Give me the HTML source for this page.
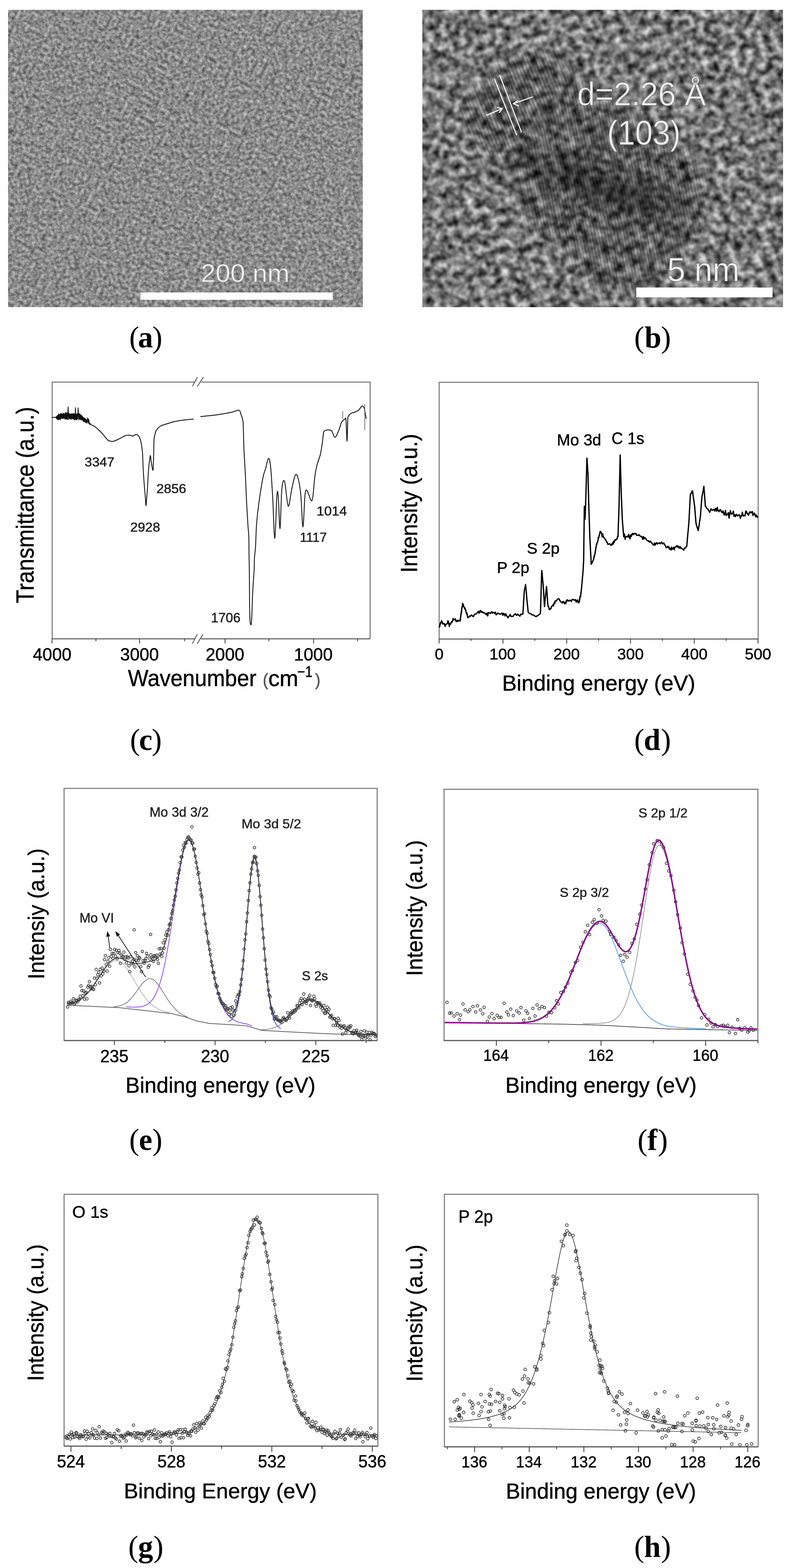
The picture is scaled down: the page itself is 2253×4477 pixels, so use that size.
<!DOCTYPE html><html><head><meta charset="utf-8"><title>Figure</title><style>html,body{margin:0;padding:0;background:#fff;}svg{display:block;}</style></head><body>
<svg width="2253" height="4477" viewBox="0 0 2253 4477">
<rect x="0" y="0" width="2253" height="4477" fill="#fff"/>
<defs>
<filter id="fa" x="0" y="0" width="1" height="1" color-interpolation-filters="sRGB">
 <feTurbulence type="fractalNoise" baseFrequency="0.105" numOctaves="2" seed="11" result="t1"/>
 <feColorMatrix in="t1" type="matrix" values="0.64 0 0 0 0.23  0.64 0 0 0 0.23  0.64 0 0 0 0.23  0 0 0 0 1" result="g13"/>
 <feTurbulence type="fractalNoise" baseFrequency="0.05" numOctaves="1" seed="17" result="t4"/>
 <feColorMatrix in="t4" type="matrix" values="1 0 0 0 0  1 0 0 0 0  1 0 0 0 0  0 0 0 0 1" result="g4"/>
 <feComponentTransfer in="g4" result="sp">
  <feFuncR type="table" tableValues="1 1 1 1 1 1 1 0.9 0.75 0.6 0.5"/>
  <feFuncG type="table" tableValues="1 1 1 1 1 1 1 0.9 0.75 0.6 0.5"/>
  <feFuncB type="table" tableValues="1 1 1 1 1 1 1 0.9 0.75 0.6 0.5"/>
 </feComponentTransfer>
 <feBlend in="g13" in2="sp" mode="multiply"/>
</filter>
<filter id="fb" x="0" y="0" width="1" height="1" color-interpolation-filters="sRGB">
 <feTurbulence type="fractalNoise" baseFrequency="0.048" numOctaves="2" seed="23" result="t1"/>
 <feColorMatrix in="t1" type="matrix" values="1.2 0 0 0 -0.13  1.2 0 0 0 -0.13  1.2 0 0 0 -0.13  0 0 0 0 1" result="g1"/>
 <feTurbulence type="fractalNoise" baseFrequency="0.02" numOctaves="1" seed="8" result="t2"/>
 <feColorMatrix in="t2" type="matrix" values="0.3 0 0 0 0.35  0.3 0 0 0 0.35  0.3 0 0 0 0.35  0 0 0 0 1" result="g2"/>
 <feComposite in="g1" in2="g2" operator="arithmetic" k1="0" k2="1" k3="1" k4="-0.5"/>
 <feGaussianBlur stdDeviation="2.0"/>
</filter>
<filter id="blur40" x="-0.5" y="-0.5" width="2" height="2"><feGaussianBlur stdDeviation="40"/></filter>
<filter id="blur25" x="-0.5" y="-0.5" width="2" height="2"><feGaussianBlur stdDeviation="25"/></filter>
<filter id="blur1" x="-0.1" y="-0.1" width="1.2" height="1.2"><feGaussianBlur stdDeviation="1.2"/></filter>
<filter id="blur08" x="-0.1" y="-0.1" width="1.2" height="1.2"><feGaussianBlur stdDeviation="0.8"/></filter>
<pattern id="fr1" patternUnits="userSpaceOnUse" width="10" height="10" patternTransform="rotate(-22)">
 <rect x="0" y="0" width="4" height="10" fill="#000"/>
</pattern>
<pattern id="fr2" patternUnits="userSpaceOnUse" width="9" height="9" patternTransform="rotate(-12)">
 <rect x="0" y="0" width="4" height="9" fill="#000"/>
</pattern>
<mask id="mk1" maskUnits="userSpaceOnUse" x="1206" y="28" width="1030" height="849"><polygon points="1320,323 1420,200 1558,145 1627,204 1560,330 1480,430 1388,443" fill="#fff" filter="url(#blur25)"/></mask>
<mask id="mk2" maskUnits="userSpaceOnUse" x="1206" y="28" width="1030" height="849"><polygon points="1480,430 1560,330 1627,204 1800,330 2001,477 2001,613 1916,766 1746,834 1516,638" fill="#fff" filter="url(#blur25)"/></mask>
<clipPath id="cpa"><rect x="23" y="28" width="1013" height="849"/></clipPath>
<clipPath id="cpb"><rect x="1206" y="28" width="1030" height="849"/></clipPath>
</defs>
<g clip-path="url(#cpa)"><rect x="-131" y="-178" width="1320" height="1260" transform="rotate(27 529.5 452.5)" filter="url(#fa)"/></g>
<rect x="401" y="835" width="549" height="21" fill="#fff"/>
<text transform="translate(573.17,805.00) scale(1.0420,1)" font-family="'Liberation Sans', Arial, sans-serif" font-size="73.04" fill="#f4f4f4" stroke="#8a8a8a" stroke-opacity="0.55" stroke-width="2.2">200 nm</text>
<g clip-path="url(#cpb)"><rect x="1061" y="-178" width="1320" height="1260" transform="rotate(-21 1721 452.5)" filter="url(#fb)"/></g>
<g clip-path="url(#cpb)">
<polygon points="1320,323 1420,200 1558,145 1627,204 1800,330 2001,477 2001,613 1916,766 1746,834 1516,638 1388,443" fill="#000" opacity="0.16" filter="url(#blur25)"/>
<ellipse cx="1720" cy="528" rx="270" ry="55" transform="rotate(19 1720 528)" fill="#000" opacity="0.28" filter="url(#blur25)"/>
<ellipse cx="1740" cy="545" rx="130" ry="40" transform="rotate(19 1740 545)" fill="#000" opacity="0.22" filter="url(#blur25)"/>
<rect x="1206" y="28" width="1030" height="849" fill="url(#fr1)" opacity="0.22" mask="url(#mk1)"/>
<rect x="1206" y="28" width="1030" height="849" fill="url(#fr2)" opacity="0.18" mask="url(#mk2)"/>
</g>
<line x1="1412" y1="226" x2="1475" y2="385" stroke="#f2f2f2" stroke-width="3.2" stroke-linecap="round" fill="none"/>
<line x1="1427" y1="215" x2="1489" y2="377" stroke="#f2f2f2" stroke-width="3.2" stroke-linecap="round" fill="none"/>
<path d="M1390,329 L1434,310 M1421,307 L1434,310 L1426,321" stroke="#f2f2f2" stroke-width="3.2" stroke-linecap="round" fill="none"/>
<path d="M1520,277 L1466,296 M1478,287 L1466,296 L1480,302" stroke="#f2f2f2" stroke-width="3.2" stroke-linecap="round" fill="none"/>
<text transform="translate(1648.17,301.00) scale(0.9728,1)" font-family="'Liberation Sans', Arial, sans-serif" font-size="93.84" fill="#f2f2f2" stroke="#6a6a6a" stroke-opacity="0.55" stroke-width="2.4">d=2.26 Å</text>
<text transform="translate(1733.42,413.00) scale(0.9244,1)" font-family="'Liberation Sans', Arial, sans-serif" font-size="97.39" fill="#f2f2f2" stroke="#6a6a6a" stroke-opacity="0.55" stroke-width="2.4">(103)</text>
<rect x="1817" y="821" width="389" height="28" fill="#fff"/>
<text transform="translate(1905.27,803.00) scale(0.9699,1)" font-family="'Liberation Sans', Arial, sans-serif" font-size="95.93" fill="#f4f4f4" stroke="#6a6a6a" stroke-opacity="0.55" stroke-width="2.4">5 nm</text>
<g stroke="#7a7a7a" stroke-width="3" fill="none">
<polyline points="556,1091 149,1091 149,1824"/>
<polyline points="574,1091 1057,1091 1057,1824"/>
</g>
<line x1="149.0" y1="1824.0" x2="556.0" y2="1824.0" stroke="#5c5c5c" stroke-width="3"/>
<line x1="574.0" y1="1824.0" x2="1057.0" y2="1824.0" stroke="#5c5c5c" stroke-width="3"/>
<path d="M549.3,1103.2 L564,1076.6 M563.2,1104 L581,1076.6" stroke="#444" stroke-width="2.2" fill="none"/>
<path d="M549.3,1837.8 L563.6,1810.8 M563.2,1837.8 L579.8,1810.8" stroke="#444" stroke-width="2.2" fill="none"/>
<line x1="148.5" y1="1824.0" x2="148.5" y2="1837.0" stroke="#444" stroke-width="2.5"/>
<line x1="398.5" y1="1824.0" x2="398.5" y2="1837.0" stroke="#444" stroke-width="2.5"/>
<line x1="642.7" y1="1824.0" x2="642.7" y2="1837.0" stroke="#444" stroke-width="2.5"/>
<line x1="895.5" y1="1824.0" x2="895.5" y2="1837.0" stroke="#444" stroke-width="2.5"/>
<line x1="274.0" y1="1824.0" x2="274.0" y2="1831.0" stroke="#444" stroke-width="2.5"/>
<line x1="527.0" y1="1824.0" x2="527.0" y2="1831.0" stroke="#444" stroke-width="2.5"/>
<line x1="767.7" y1="1824.0" x2="767.7" y2="1831.0" stroke="#444" stroke-width="2.5"/>
<line x1="1021.0" y1="1824.0" x2="1021.0" y2="1831.0" stroke="#444" stroke-width="2.5"/>
<text transform="translate(93.66,1885.60) scale(1.0022,1)" font-family="'Liberation Sans', Arial, sans-serif" font-size="49.55" fill="#000" stroke="#000" stroke-width="0.7">4000</text>
<text transform="translate(343.28,1885.60) scale(1.0022,1)" font-family="'Liberation Sans', Arial, sans-serif" font-size="49.55" fill="#000" stroke="#000" stroke-width="0.7">3000</text>
<text transform="translate(587.18,1885.60) scale(1.0022,1)" font-family="'Liberation Sans', Arial, sans-serif" font-size="49.55" fill="#000" stroke="#000" stroke-width="0.7">2000</text>
<text transform="translate(839.34,1885.60) scale(1.0022,1)" font-family="'Liberation Sans', Arial, sans-serif" font-size="49.55" fill="#000" stroke="#000" stroke-width="0.7">1000</text>
<text transform="translate(365.23,1958.50) scale(0.9390,1)" font-family="'Liberation Sans', Arial, sans-serif" font-size="66.13" fill="#000" stroke="#000" stroke-width="0.7">Wavenumber</text>
<text transform="translate(750.28,1958.20) scale(0.9437,1)" font-family="'Liberation Sans', Arial, sans-serif" font-size="49.96" fill="#555" stroke="#555" stroke-width="0.7">(</text>
<text transform="translate(766.27,1958.90) scale(0.9953,1)" font-family="'Liberation Sans', Arial, sans-serif" font-size="64.49" fill="#000" stroke="#000" stroke-width="0.7">cm</text>
<text transform="translate(849.12,1933.20) scale(0.8566,1)" font-family="'Liberation Sans', Arial, sans-serif" font-size="44.48" fill="#000" stroke="#000" stroke-width="0.7">−1</text>
<text transform="translate(899.42,1958.20) scale(0.9437,1)" font-family="'Liberation Sans', Arial, sans-serif" font-size="49.96" fill="#555" stroke="#555" stroke-width="0.7">)</text>
<text transform="translate(96.40,1722.41) rotate(-90) scale(0.9062,1)" font-family="'Liberation Sans', Arial, sans-serif" font-size="69.48" fill="#000" stroke="#000" stroke-width="0.7">Transmittance (a.u.)</text>
<text transform="translate(241.54,1332.00) scale(1.0552,1)" font-family="'Liberation Sans', Arial, sans-serif" font-size="36.38" fill="#1a1a1a" stroke="#1a1a1a" stroke-width="0.7">3347</text>
<text transform="translate(446.68,1408.00) scale(1.0261,1)" font-family="'Liberation Sans', Arial, sans-serif" font-size="37.24" fill="#1a1a1a" stroke="#1a1a1a" stroke-width="0.7">2856</text>
<text transform="translate(372.08,1517.70) scale(1.0272,1)" font-family="'Liberation Sans', Arial, sans-serif" font-size="37.24" fill="#1a1a1a" stroke="#1a1a1a" stroke-width="0.7">2928</text>
<text transform="translate(602.52,1776.80) scale(0.9782,1)" font-family="'Liberation Sans', Arial, sans-serif" font-size="38.67" fill="#1a1a1a" stroke="#1a1a1a" stroke-width="0.7">1706</text>
<text transform="translate(856.17,1546.60) scale(0.9991,1)" font-family="'Liberation Sans', Arial, sans-serif" font-size="37.21" fill="#1a1a1a" stroke="#1a1a1a" stroke-width="0.7">1117</text>
<text transform="translate(904.04,1472.40) scale(1.0689,1)" font-family="'Liberation Sans', Arial, sans-serif" font-size="36.38" fill="#1a1a1a" stroke="#1a1a1a" stroke-width="0.7">1014</text>
<polyline points="149.0,1191.8 160.0,1191.5 160.0,1193.2 160.6,1189.7 161.6,1195.1 162.2,1188.5 163.3,1196.5 163.9,1186.9 164.9,1197.8 165.8,1184.7 166.4,1199.1 167.1,1181.7 168.1,1197.7 168.8,1184.9 169.4,1195.0 170.2,1183.1 170.8,1196.8 171.5,1183.5 172.3,1199.3 172.9,1181.1 173.6,1195.2 174.5,1180.1 175.6,1194.0 176.6,1182.5 177.6,1195.3 178.2,1182.5 178.7,1193.8 179.4,1182.8 180.1,1194.5 180.7,1180.5 181.5,1194.5 182.4,1179.8 183.1,1194.2 183.9,1182.4 184.7,1192.9 185.3,1182.4 185.8,1197.7 186.6,1178.5 187.5,1195.0 188.6,1178.2 189.5,1196.5 190.3,1179.4 191.3,1197.4 192.4,1179.6 193.0,1197.6 193.6,1179.9 194.6,1162.0 195.1,1178.7 196.1,1197.4 196.7,1180.0 197.7,1195.3 198.2,1180.5 199.1,1193.6 199.9,1183.9 200.4,1196.0 201.1,1182.8 201.7,1193.8 202.5,1181.8 203.0,1198.1 204.0,1182.0 205.1,1194.4 205.8,1181.6 206.3,1195.3 207.2,1182.0 208.2,1195.7 209.1,1181.1 210.1,1196.5 211.2,1180.7 211.7,1198.4 212.3,1184.7 212.9,1199.2 213.6,1181.9 214.7,1195.4 215.4,1164.0 216.4,1199.0 217.0,1182.4 218.0,1198.9 218.9,1182.1 219.9,1196.6 220.8,1181.1 221.4,1196.9 222.5,1184.0 223.1,1164.7 224.0,1182.5 225.0,1198.8 226.1,1181.1 226.8,1196.1 227.9,1181.8 228.5,1197.3 229.5,1183.4 230.1,1198.4 230.6,1185.6 231.7,1197.5 232.7,1185.5 233.6,1199.9 234.4,1187.8 235.2,1198.5 235.9,1189.6 236.6,1200.6 237.6,1192.7 238.2,1203.4 239.0,1192.0 240.0,1204.8 241.1,1194.2 241.9,1202.5 242.6,1194.6 243.2,1205.0 244.1,1197.0 244.8,1206.5 245.8,1197.4 246.6,1207.8 247.5,1199.4 248.2,1206.4 249.2,1200.4 250.2,1193.5 251.1,1194.7 251.6,1208.9 252.6,1203.4 253.4,1197.7 254.5,1205.1 255.4,1211.4 256.0,1207.7 256.7,1212.0 257.7,1208.6" fill="none" stroke="#111" stroke-width="2.3" stroke-linejoin="round" stroke-linecap="round"/>
<path d="M258.0,1212.0 C259.8,1212.8 264.8,1214.2 268.5,1216.5 C272.2,1218.8 275.9,1222.3 280.0,1226.0 C284.1,1229.7 289.3,1234.8 293.0,1238.8 C296.7,1242.8 299.2,1246.8 302.0,1250.0 C304.8,1253.2 306.4,1256.3 310.0,1258.0 C313.6,1259.7 318.6,1260.8 323.6,1260.0 C328.6,1259.2 334.3,1255.7 340.0,1253.0 C345.7,1250.3 353.0,1245.8 358.0,1244.0 C363.0,1242.2 366.5,1242.3 370.0,1242.5 C373.5,1242.7 376.5,1245.1 379.0,1245.0 C381.5,1244.9 383.2,1242.7 385.0,1242.0 C386.8,1241.3 387.9,1240.3 389.6,1240.6 C391.3,1240.9 393.3,1241.9 395.0,1244.0 C396.7,1246.1 398.5,1248.7 400.0,1253.0 C401.5,1257.3 402.8,1263.2 404.0,1270.0 C405.2,1276.8 406.2,1283.0 407.0,1294.0 C407.8,1305.0 407.9,1320.8 408.7,1336.0 C409.5,1351.2 410.9,1371.0 412.0,1385.0 C413.1,1399.0 414.2,1410.2 415.0,1420.0 C415.8,1429.8 416.3,1444.0 417.0,1444.0 C417.7,1444.0 418.3,1428.2 419.0,1420.0 C419.7,1411.8 420.2,1407.8 421.0,1395.0 C421.8,1382.2 423.0,1356.3 424.0,1343.0 C425.0,1329.7 426.1,1322.0 427.0,1315.0 C427.9,1308.0 428.7,1300.2 429.5,1301.0 C430.3,1301.8 430.8,1313.0 432.0,1320.0 C433.2,1327.0 435.5,1342.7 436.5,1343.0 C437.5,1343.3 437.6,1330.8 438.0,1322.0 C438.4,1313.2 438.7,1301.5 439.0,1290.0 C439.3,1278.5 439.0,1262.7 440.0,1253.0 C441.0,1243.3 443.3,1236.8 445.0,1232.0 C446.7,1227.2 447.7,1226.7 450.0,1224.0 C452.3,1221.3 454.0,1218.5 459.0,1216.0 C464.0,1213.5 473.7,1211.0 480.0,1209.0 C486.3,1207.0 490.3,1205.5 497.0,1204.0 C503.7,1202.5 510.7,1201.2 520.0,1200.0 C529.3,1198.8 547.5,1197.1 553.0,1196.5" fill="none" stroke="#161616" stroke-width="2.5" stroke-linejoin="round"/>
<path d="M572.0,1189.6 C580.3,1188.7 607.0,1186.1 622.0,1184.0 C637.0,1181.9 651.9,1179.1 662.0,1177.0 C672.1,1174.9 678.0,1170.2 682.4,1171.4 C686.8,1172.6 686.8,1180.1 688.4,1184.0 C690.0,1187.9 691.0,1190.3 692.0,1195.0 C693.0,1199.7 693.8,1197.7 694.5,1212.0 C695.2,1226.3 695.5,1257.1 696.5,1280.6 C697.5,1304.1 699.2,1326.3 700.5,1353.0 C701.8,1379.7 703.2,1416.5 704.5,1441.0 C705.8,1465.5 707.0,1484.7 708.0,1500.0 C709.0,1515.3 710.0,1519.7 710.5,1533.0 C711.0,1546.3 710.8,1564.5 711.0,1580.0 C711.2,1595.5 711.7,1602.3 712.0,1626.0 C712.3,1649.7 712.4,1697.5 712.7,1722.0 C713.0,1746.5 713.4,1762.7 714.0,1773.0 C714.6,1783.3 715.5,1783.0 716.2,1783.7 C716.9,1784.5 717.4,1784.0 718.0,1777.5 C718.6,1771.0 719.1,1757.4 719.6,1745.0 C720.1,1732.6 720.4,1717.2 721.0,1703.0 C721.6,1688.8 722.7,1672.8 723.5,1660.0 C724.3,1647.2 725.3,1637.0 725.8,1626.0 C726.3,1615.0 726.0,1605.0 726.6,1594.0 C727.2,1583.0 728.7,1576.2 729.7,1560.0 C730.7,1543.8 731.1,1516.8 732.6,1497.0 C734.1,1477.2 735.6,1463.0 738.6,1441.0 C741.6,1419.0 747.2,1382.4 750.6,1365.0 C754.0,1347.6 756.0,1346.2 758.7,1336.8 C761.4,1327.4 764.4,1309.4 766.7,1308.7 C769.0,1308.0 770.7,1314.0 772.7,1332.7 C774.7,1351.4 776.7,1386.9 778.7,1421.0 C780.7,1455.1 782.7,1538.7 784.7,1537.4 C786.7,1536.1 789.1,1432.4 790.8,1413.0 C792.5,1393.6 793.3,1405.0 794.8,1421.0 C796.3,1437.0 797.9,1513.0 799.6,1509.0 C801.3,1505.0 802.6,1419.3 804.8,1397.0 C807.0,1374.7 809.8,1367.0 812.8,1375.0 C815.8,1383.0 819.5,1441.3 822.9,1445.0 C826.3,1448.7 829.6,1411.7 833.0,1397.0 C836.4,1382.3 840.0,1362.1 843.0,1356.8 C846.0,1351.5 848.3,1355.6 851.0,1365.0 C853.7,1374.4 856.7,1389.7 859.0,1413.0 C861.3,1436.3 863.0,1505.0 865.0,1505.0 C867.0,1505.0 869.0,1430.3 871.0,1413.0 C873.0,1395.7 873.7,1398.3 877.0,1401.0 C880.3,1403.7 887.3,1435.7 891.0,1429.0 C894.7,1422.3 896.7,1377.7 899.0,1361.0 C901.3,1344.3 902.3,1339.4 905.0,1328.7 C907.7,1318.0 912.3,1308.0 915.0,1296.6 C917.7,1285.2 919.3,1271.2 921.0,1260.5 C922.7,1249.8 922.3,1237.9 925.0,1232.4 C927.7,1226.9 933.3,1227.9 937.0,1227.6 C940.7,1227.3 943.7,1226.9 947.0,1230.4 C950.3,1233.9 953.3,1249.5 957.0,1248.5 C960.7,1247.5 966.0,1231.5 969.0,1224.4 C972.0,1217.3 972.3,1210.7 975.0,1206.0 C977.7,1201.3 982.8,1197.3 985.0,1196.3 C987.2,1195.3 987.0,1189.3 988.0,1200.0 C989.0,1210.7 990.2,1260.5 991.0,1260.5 C991.8,1260.5 992.3,1212.1 993.0,1200.0 C993.7,1187.9 993.3,1191.3 995.0,1188.0 C996.7,1184.7 999.6,1182.0 1003.0,1180.0 C1006.4,1178.0 1011.8,1177.7 1015.5,1176.0 C1019.2,1174.3 1022.0,1172.8 1025.0,1170.0 C1028.0,1167.2 1031.2,1160.4 1033.6,1159.4 C1036.0,1158.4 1038.0,1160.6 1039.6,1164.0 C1041.2,1167.4 1042.0,1174.7 1043.0,1180.0 C1044.0,1185.3 1045.2,1193.3 1045.6,1196.0" fill="none" stroke="#161616" stroke-width="2.5" stroke-linejoin="round"/>
<line x1="978.6" y1="1174.0" x2="978.6" y2="1196.0" stroke="#666" stroke-width="2"/>
<line x1="1041.6" y1="1154.0" x2="1041.6" y2="1228.0" stroke="#666" stroke-width="2"/>
<rect x="1254" y="1091.5" width="911" height="733.0" fill="none" stroke="#7a7a7a" stroke-width="3"/>
<line x1="1254.0" y1="1824.5" x2="2165.0" y2="1824.5" stroke="#5c5c5c" stroke-width="3"/>
<line x1="1254.0" y1="1824.5" x2="1254.0" y2="1837.5" stroke="#444" stroke-width="2.5"/>
<line x1="1436.1" y1="1824.5" x2="1436.1" y2="1837.5" stroke="#444" stroke-width="2.5"/>
<line x1="1618.2" y1="1824.5" x2="1618.2" y2="1837.5" stroke="#444" stroke-width="2.5"/>
<line x1="1800.3" y1="1824.5" x2="1800.3" y2="1837.5" stroke="#444" stroke-width="2.5"/>
<line x1="1982.4" y1="1824.5" x2="1982.4" y2="1837.5" stroke="#444" stroke-width="2.5"/>
<line x1="2164.5" y1="1824.5" x2="2164.5" y2="1837.5" stroke="#444" stroke-width="2.5"/>
<line x1="1345.0" y1="1824.5" x2="1345.0" y2="1830.0" stroke="#444" stroke-width="2.5"/>
<line x1="1527.2" y1="1824.5" x2="1527.2" y2="1830.0" stroke="#444" stroke-width="2.5"/>
<line x1="1709.2" y1="1824.5" x2="1709.2" y2="1830.0" stroke="#444" stroke-width="2.5"/>
<line x1="1891.3" y1="1824.5" x2="1891.3" y2="1830.0" stroke="#444" stroke-width="2.5"/>
<line x1="2073.4" y1="1824.5" x2="2073.4" y2="1830.0" stroke="#444" stroke-width="2.5"/>
<text transform="translate(1241.43,1883.30) scale(1.0213,1)" font-family="'Liberation Sans', Arial, sans-serif" font-size="44.25" fill="#000" stroke="#000" stroke-width="0.7">0</text>
<text transform="translate(1397.56,1883.30) scale(1.0213,1)" font-family="'Liberation Sans', Arial, sans-serif" font-size="44.25" fill="#000" stroke="#000" stroke-width="0.7">100</text>
<text transform="translate(1580.24,1883.30) scale(1.0213,1)" font-family="'Liberation Sans', Arial, sans-serif" font-size="44.25" fill="#000" stroke="#000" stroke-width="0.7">200</text>
<text transform="translate(1762.62,1883.30) scale(1.0213,1)" font-family="'Liberation Sans', Arial, sans-serif" font-size="44.25" fill="#000" stroke="#000" stroke-width="0.7">300</text>
<text transform="translate(1945.06,1883.30) scale(1.0213,1)" font-family="'Liberation Sans', Arial, sans-serif" font-size="44.25" fill="#000" stroke="#000" stroke-width="0.7">400</text>
<text transform="translate(2126.77,1883.30) scale(1.0213,1)" font-family="'Liberation Sans', Arial, sans-serif" font-size="44.25" fill="#000" stroke="#000" stroke-width="0.7">500</text>
<text transform="translate(1433.68,1971.60) scale(0.9810,1)" font-family="'Liberation Sans', Arial, sans-serif" font-size="63.66" fill="#000" stroke="#000" stroke-width="0.7">Binding energy (eV)</text>
<text transform="translate(1190.90,1635.48) rotate(-90) scale(0.9416,1)" font-family="'Liberation Sans', Arial, sans-serif" font-size="66.57" fill="#000" stroke="#000" stroke-width="0.7">Intensity (a.u.)</text>
<text transform="translate(1419.08,1636.00) scale(1.0188,1)" font-family="'Liberation Sans', Arial, sans-serif" font-size="44.48" fill="#000" stroke="#000" stroke-width="0.7">P 2p</text>
<text transform="translate(1504.54,1581.00) scale(1.0029,1)" font-family="'Liberation Sans', Arial, sans-serif" font-size="45.26" fill="#000" stroke="#000" stroke-width="0.7">S 2p</text>
<text transform="translate(1590.26,1271.80) scale(0.9678,1)" font-family="'Liberation Sans', Arial, sans-serif" font-size="47.09" fill="#000" stroke="#000" stroke-width="0.7">Mo 3d</text>
<text transform="translate(1746.19,1268.00) scale(0.9530,1)" font-family="'Liberation Sans', Arial, sans-serif" font-size="47.69" fill="#000" stroke="#000" stroke-width="0.7">C 1s</text>
<polyline points="1254.6,1790.2 1255.5,1788.7 1256.3,1785.2 1257.2,1779.0 1258.1,1780.5 1259.0,1776.3 1259.8,1777.8 1260.7,1772.1 1261.6,1775.3 1262.9,1776.0 1264.3,1781.7 1265.6,1779.7 1267.0,1781.8 1268.3,1780.7 1269.7,1781.6 1271.0,1788.6 1272.6,1783.7 1274.2,1783.1 1275.8,1781.0 1277.4,1780.6 1279.0,1772.7 1280.4,1774.6 1281.8,1782.4 1283.3,1788.7 1284.7,1779.9 1285.7,1781.3 1286.8,1781.9 1287.8,1778.2 1288.8,1777.0 1289.8,1775.0 1290.9,1776.7 1291.9,1772.6 1292.9,1771.2 1293.9,1765.9 1295.0,1768.9 1296.0,1769.8 1297.4,1768.7 1298.9,1767.9 1300.3,1767.2 1301.7,1773.2 1303.1,1774.7 1304.6,1774.6 1306.0,1771.0 1307.9,1773.9 1309.8,1772.0 1311.8,1771.6 1313.7,1773.4 1314.0,1768.2 1314.3,1768.2 1314.6,1770.1 1314.9,1762.8 1315.2,1762.6 1315.5,1762.4 1315.8,1757.2 1316.2,1753.0 1316.5,1755.4 1316.8,1755.0 1317.1,1746.4 1317.4,1747.9 1317.7,1745.5 1318.0,1748.0 1318.3,1738.7 1318.6,1740.1 1318.9,1735.0 1319.2,1734.2 1319.5,1734.8 1319.9,1731.8 1320.2,1730.3 1320.5,1726.9 1320.8,1722.7 1321.1,1727.1 1321.4,1726.5 1322.3,1724.9 1323.2,1726.3 1324.1,1732.8 1325.0,1733.0 1325.8,1734.4 1326.6,1738.0 1327.4,1735.5 1328.2,1737.6 1329.0,1742.0 1329.7,1740.9 1330.4,1745.7 1331.1,1748.2 1331.8,1751.0 1332.5,1752.8 1333.3,1750.0 1334.0,1755.1 1334.7,1758.3 1335.4,1762.0 1336.1,1763.9 1336.8,1762.7 1338.7,1762.0 1340.7,1758.7 1342.6,1759.6 1344.5,1758.0 1346.4,1755.9 1348.4,1757.6 1350.3,1760.1 1352.1,1760.2 1353.8,1755.9 1355.6,1753.6 1357.3,1753.5 1359.1,1753.4 1360.8,1751.5 1362.6,1749.9 1364.3,1747.2 1366.1,1745.8 1367.8,1750.8 1369.6,1746.7 1371.5,1742.8 1373.4,1747.9 1375.4,1745.0 1377.3,1748.5 1379.2,1747.6 1381.2,1750.5 1383.1,1749.4 1385.0,1751.1 1386.9,1753.9 1388.8,1755.2 1390.8,1750.1 1392.7,1758.7 1394.6,1749.0 1396.5,1749.3 1398.3,1750.4 1400.2,1751.7 1402.1,1748.9 1404.0,1746.5 1406.1,1750.8 1408.3,1748.7 1410.4,1748.8 1412.5,1751.3 1414.7,1747.9 1416.8,1755.5 1419.0,1753.6 1421.1,1750.8 1423.2,1751.3 1425.4,1752.0 1427.5,1753.8 1429.6,1753.5 1431.7,1751.0 1433.8,1750.9 1435.9,1756.8 1438.0,1751.1 1440.1,1753.0 1442.2,1758.6 1444.3,1752.6 1446.4,1758.1 1448.5,1759.9 1450.6,1763.8 1452.7,1760.8 1454.8,1757.7 1456.9,1754.4 1459.0,1760.1 1461.1,1759.5 1463.3,1760.1 1465.4,1759.7 1467.5,1755.6 1469.6,1754.4 1471.7,1752.2 1473.8,1755.8 1475.9,1756.9 1478.1,1753.4 1480.2,1755.6 1482.3,1757.6 1484.5,1759.2 1486.6,1753.6 1488.7,1755.0 1490.9,1753.3 1493.0,1753.4 1493.1,1753.5 1493.2,1753.5 1493.4,1749.2 1493.5,1746.4 1493.6,1745.8 1493.7,1743.6 1493.8,1742.0 1494.0,1739.1 1494.1,1738.5 1494.2,1735.8 1494.3,1735.3 1494.5,1731.6 1494.6,1729.3 1494.7,1728.2 1494.8,1725.7 1494.9,1722.3 1495.1,1721.5 1495.2,1718.3 1495.3,1717.8 1495.4,1714.3 1495.5,1713.0 1495.7,1710.0 1495.8,1708.8 1495.9,1707.6 1496.0,1705.4 1496.2,1701.9 1496.3,1699.3 1496.4,1698.9 1496.5,1695.7 1496.6,1693.6 1496.8,1692.7 1496.9,1689.1 1497.0,1688.7 1497.4,1686.8 1497.8,1683.8 1498.3,1680.9 1498.7,1679.4 1499.1,1678.7 1499.5,1675.5 1500.0,1674.3 1500.4,1671.2 1500.8,1669.1 1501.0,1671.2 1501.2,1673.2 1501.3,1675.3 1501.5,1677.8 1501.7,1680.1 1501.9,1681.0 1502.1,1682.4 1502.2,1684.7 1502.4,1686.5 1502.6,1687.6 1502.8,1691.3 1503.0,1692.7 1503.2,1696.8 1503.3,1696.9 1503.5,1698.2 1503.7,1701.7 1503.9,1703.4 1504.1,1706.2 1504.2,1707.6 1504.4,1711.0 1504.6,1711.0 1504.8,1713.7 1505.0,1715.2 1505.2,1717.2 1505.4,1718.3 1505.6,1722.1 1505.8,1722.3 1506.0,1726.0 1506.2,1728.1 1506.4,1730.1 1506.7,1730.5 1506.9,1734.5 1507.1,1735.3 1507.3,1738.2 1507.5,1739.6 1507.7,1743.5 1507.9,1743.5 1508.1,1745.8 1508.3,1748.2 1508.5,1748.8 1510.4,1750.3 1512.3,1751.2 1514.2,1752.2 1516.2,1752.4 1518.1,1754.8 1520.0,1755.6 1521.9,1756.0 1523.9,1755.9 1525.8,1757.4 1527.7,1759.5 1529.7,1760.2 1531.6,1760.3 1533.5,1758.0 1535.5,1758.1 1537.4,1756.5 1539.3,1754.7 1541.3,1753.2 1543.2,1750.9 1543.3,1748.8 1543.3,1746.9 1543.4,1746.2 1543.4,1744.1 1543.5,1741.3 1543.6,1739.7 1543.6,1739.0 1543.7,1734.9 1543.8,1733.5 1543.8,1730.8 1543.9,1731.4 1543.9,1727.4 1544.0,1726.9 1544.1,1724.3 1544.1,1721.1 1544.2,1720.1 1544.3,1717.8 1544.3,1716.0 1544.4,1713.7 1544.4,1712.0 1544.5,1710.0 1544.6,1706.9 1544.6,1706.1 1544.7,1702.8 1544.8,1700.4 1544.8,1699.1 1544.9,1696.6 1544.9,1694.8 1545.0,1692.4 1545.1,1692.0 1545.1,1690.0 1545.2,1686.7 1545.3,1686.3 1545.3,1683.1 1545.4,1680.5 1545.4,1678.3 1545.5,1677.4 1545.6,1675.0 1545.6,1673.3 1545.7,1673.4 1545.8,1669.8 1545.8,1666.9 1545.9,1664.1 1545.9,1662.6 1546.0,1660.3 1546.1,1658.4 1546.1,1654.9 1546.2,1654.9 1546.3,1651.9 1546.3,1652.6 1546.4,1648.6 1546.4,1647.5 1546.5,1645.0 1546.6,1642.1 1546.6,1640.8 1546.7,1638.3 1546.8,1636.3 1546.8,1634.5 1546.9,1631.0 1546.9,1631.7 1547.0,1629.0 1547.2,1630.4 1547.4,1633.7 1547.6,1633.8 1547.8,1634.6 1548.0,1638.8 1548.2,1640.0 1548.4,1642.6 1548.6,1644.3 1548.8,1646.5 1549.0,1647.9 1549.2,1650.7 1549.4,1653.4 1549.6,1655.1 1549.8,1658.2 1550.0,1659.4 1550.2,1661.2 1550.4,1663.1 1550.6,1665.4 1550.8,1666.8 1551.0,1667.9 1551.1,1670.2 1551.3,1671.6 1551.4,1675.0 1551.5,1677.3 1551.6,1679.7 1551.8,1682.3 1551.9,1683.0 1552.0,1683.7 1552.1,1687.0 1552.3,1689.6 1552.4,1690.1 1552.5,1692.7 1552.6,1694.9 1552.8,1699.4 1552.9,1700.8 1553.0,1701.4 1553.2,1703.6 1553.3,1706.1 1553.4,1708.3 1553.5,1710.3 1553.7,1711.3 1553.8,1713.5 1553.9,1717.5 1554.0,1718.4 1554.2,1721.3 1554.3,1722.5 1554.4,1724.8 1554.5,1726.9 1554.7,1728.5 1554.8,1731.8 1555.0,1729.5 1555.2,1726.8 1555.4,1724.9 1555.6,1724.1 1555.8,1720.1 1556.0,1719.5 1556.2,1717.8 1556.4,1716.1 1556.6,1714.0 1556.8,1710.2 1557.0,1709.5 1557.2,1706.6 1557.4,1705.6 1557.6,1703.0 1557.8,1701.6 1558.0,1698.4 1558.2,1697.1 1558.4,1695.4 1558.6,1693.4 1558.8,1691.7 1559.0,1690.4 1559.2,1686.2 1559.4,1685.0 1559.6,1681.6 1559.8,1681.5 1560.0,1680.3 1560.2,1677.1 1560.4,1676.0 1560.6,1674.7 1560.7,1675.4 1560.9,1677.7 1561.0,1679.8 1561.2,1680.4 1561.3,1682.0 1561.4,1684.7 1561.6,1686.3 1561.7,1689.5 1561.9,1689.2 1562.0,1691.3 1562.1,1693.5 1562.3,1697.2 1562.4,1698.8 1562.6,1700.8 1562.7,1702.7 1562.9,1704.6 1563.0,1706.3 1563.1,1709.1 1563.3,1710.8 1563.4,1713.2 1563.6,1714.9 1563.7,1717.1 1563.8,1719.0 1564.0,1722.7 1564.1,1724.7 1564.3,1725.9 1564.4,1725.5 1565.1,1729.4 1565.7,1732.0 1566.3,1733.1 1567.0,1733.4 1567.7,1736.3 1568.3,1740.6 1569.9,1740.1 1571.5,1737.9 1573.2,1738.2 1574.8,1731.4 1576.4,1730.5 1578.0,1728.3 1579.0,1726.8 1580.1,1730.4 1581.1,1726.4 1582.2,1721.5 1583.2,1719.9 1584.3,1723.4 1585.3,1715.6 1586.4,1715.4 1587.4,1716.3 1588.5,1716.5 1589.5,1714.9 1592.0,1710.8 1594.5,1709.5 1597.0,1710.5 1598.7,1715.6 1600.5,1716.1 1602.2,1719.7 1604.0,1719.9 1605.7,1721.6 1607.5,1717.2 1609.2,1718.0 1611.0,1722.0 1612.7,1724.1 1614.2,1719.4 1615.8,1723.2 1617.3,1713.9 1618.9,1716.3 1620.4,1712.6 1622.6,1715.9 1624.8,1715.9 1627.0,1713.5 1629.2,1715.0 1631.4,1717.2 1633.6,1711.8 1635.8,1711.4 1637.7,1711.6 1639.6,1714.1 1641.5,1713.3 1643.4,1712.0 1645.4,1719.3 1647.3,1715.2 1649.2,1713.1 1651.1,1721.3 1653.0,1717.6 1653.5,1720.1 1654.0,1719.5 1654.5,1711.8 1655.0,1709.4 1655.5,1713.3 1656.0,1703.8 1656.5,1703.0 1657.0,1702.0 1657.5,1700.0 1658.0,1703.3 1658.5,1697.6 1659.0,1691.1 1659.2,1693.9 1659.4,1691.8 1659.6,1689.0 1659.7,1688.1 1659.9,1686.2 1660.1,1683.8 1660.3,1681.8 1660.5,1679.1 1660.7,1678.8 1660.8,1676.2 1661.0,1673.8 1661.2,1672.4 1661.4,1670.2 1661.6,1668.1 1661.8,1665.9 1661.9,1664.0 1662.1,1662.3 1662.3,1660.5 1662.5,1658.5 1662.7,1656.3 1662.9,1654.6 1663.0,1651.9 1663.2,1649.0 1663.4,1647.1 1663.6,1646.5 1663.8,1643.0 1664.0,1641.5 1664.1,1640.0 1664.3,1638.6 1664.5,1634.7 1664.7,1633.3 1664.8,1631.5 1664.9,1629.5 1665.0,1628.0 1665.1,1626.5 1665.3,1624.4 1665.4,1623.7 1665.5,1621.0 1665.6,1617.2 1665.7,1615.1 1665.8,1613.8 1665.9,1611.8 1666.0,1610.7 1666.2,1608.4 1666.3,1606.5 1666.4,1604.0 1666.5,1602.3 1666.6,1600.2 1666.6,1597.9 1666.7,1596.4 1666.7,1593.1 1666.7,1592.6 1666.7,1590.4 1666.8,1589.8 1666.8,1586.0 1666.8,1583.0 1666.8,1581.6 1666.9,1579.9 1666.9,1577.5 1666.9,1575.2 1666.9,1573.8 1667.0,1571.1 1667.0,1570.7 1667.0,1567.1 1667.0,1566.3 1667.1,1564.6 1667.1,1562.3 1667.1,1560.8 1667.1,1558.2 1667.2,1556.5 1667.2,1553.5 1667.2,1551.2 1667.2,1549.7 1667.3,1548.1 1667.3,1546.6 1667.3,1543.2 1667.4,1541.6 1667.4,1539.5 1667.4,1538.5 1667.4,1535.6 1667.5,1534.7 1667.5,1531.8 1667.5,1529.5 1667.5,1527.5 1667.6,1524.9 1667.6,1522.4 1667.6,1521.6 1667.6,1519.5 1667.7,1519.3 1667.7,1516.2 1667.7,1514.5 1667.7,1512.1 1667.8,1509.9 1667.8,1507.1 1667.8,1505.2 1667.8,1504.9 1667.9,1501.7 1667.9,1499.7 1667.9,1498.4 1668.0,1495.8 1668.0,1493.8 1668.0,1493.2 1668.0,1490.2 1668.1,1487.8 1668.1,1485.7 1668.1,1483.6 1668.1,1482.2 1668.2,1480.3 1668.2,1477.6 1668.2,1475.8 1668.2,1473.0 1668.3,1471.8 1668.3,1470.4 1668.3,1467.4 1668.3,1465.9 1668.4,1463.6 1668.4,1461.7 1668.4,1460.2 1668.4,1457.4 1668.5,1456.7 1668.5,1454.8 1668.5,1452.7 1668.5,1449.4 1668.6,1446.8 1668.6,1445.6 1668.7,1448.1 1668.8,1450.0 1668.9,1452.0 1669.1,1454.1 1669.2,1455.9 1669.3,1458.6 1669.4,1459.4 1669.5,1462.5 1669.7,1464.6 1669.8,1466.0 1669.9,1470.6 1670.0,1470.6 1670.1,1472.6 1670.2,1473.7 1670.3,1476.6 1670.5,1478.7 1670.6,1481.2 1670.7,1482.3 1670.8,1481.2 1670.8,1477.7 1670.9,1476.5 1671.0,1473.3 1671.1,1472.4 1671.1,1470.8 1671.2,1467.4 1671.3,1466.7 1671.3,1464.5 1671.4,1461.2 1671.5,1459.5 1671.6,1457.8 1671.6,1456.3 1671.7,1454.8 1671.8,1451.5 1671.8,1449.3 1671.9,1447.6 1672.0,1444.2 1672.1,1444.1 1672.1,1441.6 1672.2,1439.5 1672.3,1438.5 1672.3,1435.4 1672.4,1433.1 1672.5,1432.1 1672.6,1429.2 1672.6,1427.5 1672.7,1425.2 1672.8,1423.4 1672.8,1421.5 1672.9,1419.6 1672.9,1416.7 1673.0,1416.1 1673.0,1413.1 1673.1,1411.1 1673.2,1409.8 1673.2,1407.0 1673.3,1405.6 1673.3,1404.0 1673.4,1401.8 1673.4,1399.0 1673.5,1397.9 1673.6,1395.1 1673.6,1392.8 1673.7,1390.7 1673.7,1389.4 1673.8,1386.8 1673.8,1386.0 1673.9,1383.7 1674.0,1381.5 1674.0,1379.9 1674.1,1377.7 1674.1,1374.7 1674.2,1374.6 1674.2,1370.2 1674.3,1369.2 1674.3,1366.0 1674.4,1364.9 1674.5,1362.8 1674.5,1360.3 1674.6,1359.4 1674.6,1357.1 1674.7,1355.0 1674.7,1352.4 1674.8,1351.9 1674.9,1348.9 1674.9,1347.4 1675.0,1344.1 1675.0,1343.8 1675.1,1340.8 1675.1,1339.5 1675.2,1336.7 1675.3,1334.9 1675.3,1333.2 1675.4,1330.9 1675.4,1330.2 1675.5,1326.8 1675.5,1324.7 1675.6,1323.5 1675.7,1321.0 1675.7,1318.3 1675.8,1316.7 1675.8,1315.3 1675.9,1312.9 1675.9,1311.5 1676.0,1308.1 1676.1,1311.0 1676.3,1312.5 1676.4,1314.7 1676.6,1316.6 1676.7,1318.6 1676.8,1322.5 1677.0,1323.2 1677.1,1325.7 1677.2,1327.5 1677.4,1330.5 1677.5,1331.0 1677.7,1332.6 1677.8,1335.8 1677.9,1336.9 1678.1,1340.4 1678.2,1341.0 1678.3,1343.5 1678.5,1346.1 1678.6,1347.1 1678.8,1349.6 1678.9,1352.0 1679.0,1353.0 1679.0,1355.9 1679.1,1357.1 1679.1,1359.9 1679.2,1363.0 1679.2,1364.9 1679.3,1366.0 1679.3,1368.1 1679.4,1369.8 1679.4,1372.7 1679.5,1374.7 1679.5,1375.5 1679.6,1377.8 1679.6,1379.7 1679.7,1382.6 1679.7,1384.7 1679.8,1386.7 1679.8,1389.0 1679.9,1391.0 1680.0,1392.7 1680.0,1395.1 1680.1,1396.5 1680.1,1399.3 1680.2,1401.5 1680.2,1401.7 1680.3,1406.0 1680.3,1407.0 1680.4,1409.5 1680.4,1411.1 1680.5,1414.1 1680.5,1415.2 1680.6,1417.5 1680.6,1419.0 1680.7,1421.3 1680.7,1423.6 1680.8,1424.9 1680.8,1427.4 1680.9,1429.2 1680.9,1431.6 1681.0,1434.2 1681.1,1435.7 1681.1,1438.4 1681.2,1439.2 1681.3,1441.4 1681.3,1443.5 1681.4,1445.1 1681.5,1447.8 1681.5,1449.2 1681.6,1451.2 1681.7,1453.8 1681.7,1455.2 1681.8,1457.6 1681.8,1459.6 1681.9,1462.3 1682.0,1464.5 1682.0,1465.9 1682.1,1467.2 1682.2,1470.1 1682.2,1473.1 1682.3,1473.4 1682.4,1475.5 1682.4,1478.4 1682.5,1479.6 1682.6,1481.4 1682.6,1484.3 1682.7,1485.1 1682.8,1488.2 1682.8,1489.2 1682.9,1492.0 1683.0,1493.6 1683.0,1495.2 1683.1,1498.1 1683.2,1498.8 1683.2,1502.0 1683.3,1503.6 1683.4,1506.3 1683.4,1506.9 1683.5,1510.2 1683.5,1512.9 1683.6,1513.3 1683.7,1515.7 1683.7,1518.2 1683.8,1521.9 1683.9,1521.8 1683.9,1523.3 1684.0,1525.8 1684.1,1527.6 1684.1,1529.4 1684.2,1530.9 1684.3,1534.6 1684.4,1534.8 1684.5,1537.7 1684.6,1538.7 1684.7,1540.6 1684.8,1544.3 1684.9,1545.1 1685.0,1548.5 1685.1,1550.1 1685.3,1551.6 1685.4,1554.6 1685.5,1555.4 1685.6,1558.7 1685.7,1561.0 1685.8,1561.6 1685.9,1564.5 1686.0,1567.4 1686.1,1568.7 1686.2,1569.8 1686.3,1573.2 1686.4,1574.7 1686.5,1576.8 1686.6,1577.9 1686.7,1581.0 1686.8,1583.0 1686.9,1584.2 1687.0,1587.2 1687.1,1588.7 1687.2,1591.5 1687.4,1593.5 1687.5,1594.6 1687.6,1596.3 1687.7,1600.0 1687.8,1601.6 1687.9,1602.9 1688.0,1606.0 1688.1,1607.7 1688.2,1609.7 1688.3,1611.1 1689.2,1609.3 1690.0,1608.6 1690.9,1606.0 1691.8,1604.0 1692.6,1602.8 1693.5,1599.9 1694.3,1598.7 1695.2,1596.9 1695.6,1593.8 1696.0,1592.7 1696.4,1589.3 1696.8,1587.1 1697.2,1589.8 1697.7,1584.8 1698.1,1582.3 1698.5,1582.9 1698.9,1582.6 1699.3,1578.9 1699.7,1576.6 1700.1,1570.9 1700.5,1573.1 1700.9,1570.2 1701.4,1564.0 1701.8,1562.7 1702.2,1563.4 1702.6,1557.9 1703.0,1555.9 1703.4,1553.9 1704.0,1555.3 1704.5,1550.3 1705.1,1549.5 1705.7,1549.1 1706.2,1548.4 1706.8,1546.2 1707.4,1543.6 1707.9,1541.1 1708.5,1533.8 1709.1,1535.7 1709.6,1536.0 1710.2,1533.5 1710.8,1528.7 1711.3,1529.1 1711.9,1525.5 1712.5,1523.9 1713.0,1521.0 1713.6,1517.5 1715.1,1517.8 1716.5,1520.0 1718.0,1523.8 1719.4,1532.8 1720.9,1524.4 1722.3,1531.1 1723.8,1534.1 1724.8,1535.6 1725.8,1535.9 1726.9,1538.0 1727.9,1540.0 1728.9,1540.2 1729.9,1542.0 1730.9,1544.7 1732.0,1546.6 1733.0,1548.8 1734.0,1548.5 1735.7,1554.1 1737.4,1554.0 1739.2,1553.4 1740.9,1552.3 1742.6,1554.1 1744.3,1557.2 1745.7,1556.1 1747.0,1553.1 1748.4,1555.4 1749.8,1549.2 1751.1,1553.4 1752.5,1545.4 1753.9,1548.9 1755.2,1543.7 1756.6,1541.0 1758.0,1542.5 1759.3,1541.0 1760.7,1539.8 1761.7,1539.2 1762.7,1535.1 1763.7,1531.4 1764.7,1531.9 1764.8,1529.3 1764.8,1527.9 1764.9,1524.4 1765.0,1523.2 1765.0,1522.3 1765.1,1519.3 1765.2,1517.7 1765.3,1514.9 1765.3,1514.0 1765.4,1511.7 1765.5,1509.8 1765.5,1507.0 1765.6,1505.4 1765.7,1502.7 1765.7,1501.3 1765.8,1498.1 1765.9,1497.3 1765.9,1495.3 1766.0,1492.8 1766.1,1491.6 1766.2,1488.8 1766.2,1487.7 1766.3,1484.5 1766.4,1482.4 1766.4,1480.6 1766.5,1480.3 1766.6,1475.8 1766.6,1474.4 1766.7,1472.4 1766.8,1470.9 1766.8,1467.7 1766.9,1467.4 1767.0,1463.4 1767.0,1463.1 1767.1,1460.2 1767.2,1457.8 1767.3,1456.6 1767.3,1453.3 1767.4,1452.1 1767.5,1449.4 1767.5,1447.4 1767.6,1445.3 1767.6,1443.9 1767.7,1442.8 1767.7,1439.7 1767.8,1438.6 1767.8,1435.6 1767.9,1434.3 1767.9,1432.2 1768.0,1429.7 1768.0,1428.2 1768.1,1426.0 1768.1,1424.0 1768.1,1420.9 1768.2,1419.9 1768.2,1418.6 1768.3,1414.7 1768.3,1413.6 1768.4,1411.6 1768.4,1409.7 1768.5,1407.8 1768.5,1405.9 1768.5,1403.3 1768.6,1401.5 1768.6,1399.0 1768.7,1396.7 1768.7,1395.0 1768.8,1393.4 1768.8,1391.3 1768.9,1389.2 1768.9,1387.1 1769.0,1385.8 1769.0,1383.3 1769.0,1381.4 1769.1,1380.5 1769.1,1377.2 1769.2,1375.4 1769.2,1373.6 1769.3,1370.2 1769.3,1369.0 1769.4,1367.3 1769.4,1365.5 1769.5,1362.9 1769.5,1361.2 1769.5,1359.3 1769.6,1357.4 1769.6,1354.9 1769.7,1353.5 1769.7,1351.4 1769.8,1348.6 1769.8,1345.4 1769.9,1345.2 1769.9,1343.7 1770.0,1340.9 1770.0,1340.0 1770.0,1336.2 1770.1,1335.0 1770.1,1333.3 1770.2,1330.4 1770.2,1328.8 1770.3,1326.9 1770.3,1325.2 1770.4,1323.5 1770.4,1320.9 1770.4,1318.1 1770.5,1317.6 1770.5,1315.0 1770.6,1313.3 1770.6,1309.9 1770.7,1308.7 1770.7,1305.9 1770.8,1304.4 1770.8,1303.0 1770.9,1300.9 1770.9,1299.3 1771.0,1300.1 1771.0,1303.4 1771.1,1304.7 1771.1,1307.0 1771.2,1309.0 1771.2,1310.9 1771.3,1312.8 1771.4,1313.7 1771.4,1316.8 1771.5,1318.6 1771.5,1320.4 1771.6,1322.1 1771.6,1324.0 1771.7,1327.7 1771.7,1328.5 1771.8,1330.3 1771.9,1333.0 1771.9,1334.3 1772.0,1336.2 1772.0,1338.9 1772.1,1340.6 1772.1,1342.8 1772.2,1344.9 1772.3,1346.4 1772.3,1348.5 1772.4,1350.9 1772.4,1352.6 1772.5,1354.7 1772.5,1357.1 1772.6,1358.9 1772.6,1361.4 1772.7,1362.3 1772.8,1364.8 1772.8,1366.6 1772.9,1368.1 1772.9,1371.1 1773.0,1372.9 1773.0,1374.3 1773.1,1377.3 1773.2,1379.1 1773.2,1381.9 1773.3,1382.6 1773.3,1384.6 1773.4,1386.6 1773.4,1388.4 1773.5,1390.5 1773.5,1392.0 1773.6,1395.2 1773.7,1396.7 1773.7,1398.9 1773.8,1400.9 1773.8,1402.2 1773.9,1405.5 1773.9,1407.4 1774.0,1409.7 1774.1,1410.9 1774.2,1412.8 1774.2,1414.6 1774.3,1415.9 1774.4,1419.9 1774.5,1421.2 1774.6,1423.9 1774.7,1425.9 1774.8,1427.7 1774.8,1429.0 1774.9,1430.8 1775.0,1433.9 1775.1,1435.5 1775.2,1437.7 1775.2,1440.1 1775.3,1441.1 1775.4,1444.7 1775.5,1445.9 1775.6,1448.4 1775.7,1450.4 1775.8,1451.9 1775.8,1453.5 1775.9,1456.2 1776.0,1457.9 1776.1,1460.5 1776.2,1462.2 1776.2,1464.1 1776.3,1467.1 1776.4,1468.7 1776.5,1470.2 1776.6,1471.9 1776.7,1473.9 1776.8,1476.5 1776.8,1478.5 1776.9,1481.1 1777.0,1482.2 1777.2,1485.2 1777.3,1486.3 1777.5,1489.3 1777.7,1492.2 1777.8,1493.2 1778.0,1495.4 1778.2,1497.0 1778.3,1498.8 1778.5,1501.2 1778.7,1503.6 1778.8,1505.0 1779.0,1507.3 1779.2,1509.6 1779.3,1511.5 1779.5,1513.9 1779.7,1516.6 1779.8,1517.4 1780.0,1519.5 1780.2,1522.3 1780.3,1522.7 1780.5,1525.2 1780.7,1527.7 1780.8,1529.8 1781.0,1532.5 1783.1,1524.6 1785.1,1539.8 1787.2,1532.6 1789.2,1532.2 1791.3,1530.7 1793.3,1533.8 1795.4,1525.9 1797.3,1534.4 1799.1,1538.6 1801.0,1527.0 1802.9,1531.6 1804.7,1525.1 1806.6,1523.0 1808.4,1526.5 1810.3,1523.1 1812.2,1523.2 1814.0,1524.5 1815.9,1523.0 1817.7,1528.5 1819.5,1528.5 1821.3,1528.1 1823.1,1528.5 1824.8,1526.8 1826.6,1528.9 1828.4,1531.2 1830.2,1531.7 1832.0,1531.3 1833.8,1536.2 1835.6,1540.0 1837.3,1531.9 1839.1,1538.5 1840.9,1534.9 1842.7,1536.5 1844.5,1538.3 1846.4,1541.8 1848.3,1543.3 1850.2,1544.6 1852.0,1543.8 1853.9,1547.6 1855.8,1547.4 1857.7,1545.0 1859.6,1549.2 1861.5,1550.3 1863.3,1553.6 1865.2,1554.9 1867.1,1556.6 1869.0,1550.3 1871.0,1556.3 1873.1,1551.1 1875.2,1549.3 1877.2,1553.6 1879.2,1551.4 1881.3,1550.9 1883.3,1549.8 1885.4,1552.8 1887.4,1550.1 1889.5,1547.7 1891.5,1552.8 1893.6,1552.4 1895.3,1550.6 1897.0,1553.4 1898.7,1556.4 1900.4,1558.5 1902.1,1563.6 1903.8,1563.6 1905.5,1561.7 1907.2,1559.8 1908.9,1564.3 1910.6,1561.8 1912.3,1568.3 1914.0,1566.4 1915.9,1570.5 1917.7,1562.0 1919.6,1568.0 1921.5,1567.0 1923.3,1563.0 1925.2,1569.6 1927.0,1562.3 1928.9,1561.3 1930.8,1561.3 1932.6,1557.9 1934.5,1561.8 1936.3,1558.9 1938.1,1564.3 1939.9,1564.7 1941.7,1560.3 1943.6,1565.6 1945.4,1564.1 1947.2,1566.2 1949.0,1567.4 1950.8,1569.5 1952.5,1571.0 1954.2,1565.3 1955.9,1563.8 1957.6,1564.8 1959.3,1561.1 1961.0,1559.8 1961.2,1559.0 1961.4,1557.1 1961.5,1553.7 1961.7,1551.2 1961.9,1549.9 1962.1,1549.7 1962.3,1548.0 1962.5,1543.7 1962.6,1541.1 1962.8,1538.6 1963.0,1536.9 1963.2,1536.1 1963.4,1533.2 1963.6,1531.3 1963.7,1529.9 1963.9,1525.9 1964.1,1524.4 1964.3,1523.3 1964.5,1520.9 1964.6,1519.1 1964.8,1517.5 1965.0,1515.7 1965.2,1514.0 1965.4,1511.5 1965.6,1509.6 1965.7,1507.1 1965.9,1505.9 1966.1,1503.4 1966.3,1500.5 1966.5,1498.3 1966.7,1496.4 1966.8,1494.7 1967.0,1493.5 1967.2,1491.1 1967.3,1487.2 1967.4,1486.5 1967.5,1483.0 1967.6,1482.5 1967.7,1479.9 1967.8,1478.6 1968.0,1477.5 1968.1,1473.3 1968.2,1471.5 1968.3,1471.5 1968.4,1467.5 1968.5,1467.4 1968.6,1464.0 1968.7,1461.5 1968.8,1458.8 1968.9,1456.6 1969.0,1456.0 1969.1,1454.6 1969.2,1451.2 1969.4,1449.4 1969.5,1448.5 1969.6,1445.0 1969.7,1443.0 1969.8,1440.9 1969.9,1439.6 1970.0,1437.5 1970.1,1434.3 1970.2,1435.4 1970.3,1430.6 1970.4,1430.2 1970.5,1427.4 1970.7,1425.2 1970.8,1422.2 1970.9,1420.7 1971.0,1418.7 1971.1,1415.9 1971.2,1416.1 1971.3,1412.2 1972.3,1409.6 1973.3,1410.6 1974.3,1406.1 1975.4,1406.2 1976.4,1401.7 1977.4,1402.5 1977.7,1401.9 1978.0,1404.4 1978.2,1407.6 1978.5,1407.9 1978.8,1411.7 1979.1,1414.5 1979.4,1415.2 1979.7,1417.1 1979.9,1419.6 1980.2,1421.7 1980.5,1423.7 1980.8,1425.6 1981.1,1427.6 1981.3,1429.1 1981.6,1432.1 1981.9,1434.2 1982.2,1435.6 1982.5,1439.2 1982.8,1440.8 1983.0,1442.8 1983.3,1443.5 1983.6,1445.3 1983.8,1447.9 1983.9,1449.6 1984.1,1452.5 1984.3,1455.9 1984.4,1457.5 1984.6,1459.3 1984.8,1459.1 1984.9,1463.0 1985.1,1465.3 1985.3,1467.6 1985.4,1468.9 1985.6,1471.5 1985.8,1473.0 1985.9,1475.8 1986.1,1478.5 1986.3,1479.4 1986.4,1480.3 1986.6,1484.0 1986.8,1484.1 1986.9,1487.5 1987.1,1490.3 1987.3,1491.4 1987.4,1492.5 1987.6,1494.7 1988.2,1496.4 1988.8,1500.0 1989.5,1501.3 1990.1,1504.1 1990.7,1506.3 1991.3,1507.1 1991.9,1508.7 1992.6,1511.1 1993.2,1513.5 1993.8,1514.7 1994.1,1514.2 1994.4,1512.3 1994.7,1507.4 1995.0,1506.6 1995.3,1504.6 1995.7,1503.9 1996.0,1500.3 1996.3,1499.3 1996.6,1496.3 1996.9,1495.4 1997.2,1492.6 1997.5,1490.4 1997.8,1489.2 1998.1,1486.0 1998.5,1485.5 1998.8,1482.9 1999.1,1480.5 1999.4,1478.1 1999.7,1476.3 2000.0,1475.1 2000.2,1471.3 2000.3,1472.4 2000.5,1468.0 2000.6,1465.9 2000.8,1463.8 2000.9,1462.0 2001.1,1459.3 2001.2,1458.1 2001.4,1456.5 2001.5,1454.7 2001.7,1451.5 2001.8,1450.3 2002.0,1448.3 2002.2,1446.0 2002.3,1444.0 2002.5,1441.7 2002.6,1438.8 2002.8,1437.4 2002.9,1436.3 2003.1,1433.4 2003.2,1432.5 2003.4,1429.2 2003.5,1427.3 2003.7,1424.0 2003.8,1424.2 2004.0,1421.1 2004.4,1418.3 2004.8,1416.6 2005.1,1415.6 2005.5,1413.5 2005.9,1411.6 2006.2,1409.2 2006.6,1407.1 2007.0,1406.7 2007.4,1404.6 2007.8,1401.1 2008.1,1398.8 2008.5,1396.5 2008.9,1395.0 2009.2,1392.0 2009.6,1391.5 2010.0,1388.7 2010.2,1391.5 2010.3,1393.1 2010.5,1395.6 2010.6,1397.2 2010.8,1399.4 2010.9,1400.4 2011.0,1403.3 2011.2,1403.6 2011.3,1407.1 2011.5,1407.7 2011.7,1411.8 2011.8,1413.8 2012.0,1416.3 2012.1,1418.2 2012.2,1417.6 2012.4,1421.1 2012.5,1422.8 2012.7,1425.1 2012.9,1426.5 2013.0,1428.7 2013.2,1432.3 2013.3,1433.8 2013.5,1435.8 2013.6,1438.5 2013.8,1441.5 2013.9,1442.5 2014.0,1444.0 2014.2,1446.2 2015.7,1446.1 2017.1,1448.6 2018.6,1451.6 2020.1,1453.4 2021.6,1454.2 2023.0,1456.8 2024.5,1458.4 2026.4,1462.9 2028.2,1459.6 2030.1,1453.0 2032.0,1454.6 2033.8,1457.1 2035.7,1456.2 2037.5,1454.3 2039.4,1454.6 2041.3,1459.3 2043.1,1451.7 2045.0,1452.5 2046.6,1459.8 2048.3,1448.6 2049.9,1457.1 2051.5,1457.7 2053.2,1461.0 2054.8,1457.9 2056.4,1455.0 2058.1,1456.3 2059.7,1461.4 2061.3,1462.5 2063.0,1463.7 2064.6,1458.7 2066.2,1464.0 2067.9,1470.3 2069.5,1468.2 2071.6,1457.5 2073.6,1472.2 2075.7,1468.2 2077.7,1469.0 2079.8,1463.5 2081.8,1479.1 2083.8,1466.6 2085.9,1458.1 2087.9,1467.6 2090.0,1467.8 2092.0,1465.8 2094.1,1459.5 2096.1,1474.4 2098.1,1470.0 2100.2,1474.9 2102.2,1468.5 2104.2,1469.2 2106.2,1473.4 2108.3,1471.1 2110.3,1470.2 2112.2,1470.6 2114.1,1480.2 2116.0,1473.3 2118.0,1473.2 2119.9,1462.4 2121.8,1471.4 2123.7,1473.5 2125.6,1471.8 2127.5,1472.5 2129.4,1459.5 2131.3,1459.5 2133.3,1466.6 2135.2,1466.1 2137.1,1471.5 2139.0,1466.2 2140.9,1461.5 2142.8,1462.1 2144.7,1464.6 2146.5,1461.3 2148.4,1460.8 2150.3,1472.0 2152.2,1468.2 2154.1,1464.9 2156.0,1469.6 2157.8,1475.6 2159.7,1470.5 2161.6,1475.3 2163.5,1477.0" fill="none" stroke="#000" stroke-width="3.7" stroke-linejoin="round" stroke-linecap="round"/>
<rect x="183" y="2251" width="894" height="720" fill="none" stroke="#7a7a7a" stroke-width="3"/>
<line x1="183.0" y1="2971.0" x2="1077.0" y2="2971.0" stroke="#5c5c5c" stroke-width="3"/>
<line x1="326.8" y1="2971.0" x2="326.8" y2="2984.0" stroke="#444" stroke-width="2.5"/>
<line x1="614.2" y1="2971.0" x2="614.2" y2="2984.0" stroke="#444" stroke-width="2.5"/>
<line x1="901.8" y1="2971.0" x2="901.8" y2="2984.0" stroke="#444" stroke-width="2.5"/>
<line x1="470.5" y1="2971.0" x2="470.5" y2="2978.0" stroke="#444" stroke-width="2.5"/>
<line x1="758.0" y1="2971.0" x2="758.0" y2="2978.0" stroke="#444" stroke-width="2.5"/>
<line x1="1045.5" y1="2971.0" x2="1045.5" y2="2978.0" stroke="#444" stroke-width="2.5"/>
<text transform="translate(286.22,3032.50) scale(0.9509,1)" font-family="'Liberation Sans', Arial, sans-serif" font-size="50.84" fill="#000" stroke="#000" stroke-width="0.7">235</text>
<text transform="translate(573.65,3032.50) scale(0.9509,1)" font-family="'Liberation Sans', Arial, sans-serif" font-size="50.84" fill="#000" stroke="#000" stroke-width="0.7">230</text>
<text transform="translate(861.22,3032.50) scale(0.9509,1)" font-family="'Liberation Sans', Arial, sans-serif" font-size="50.84" fill="#000" stroke="#000" stroke-width="0.7">225</text>
<text transform="translate(358.26,3119.50) scale(0.9647,1)" font-family="'Liberation Sans', Arial, sans-serif" font-size="63.66" fill="#000" stroke="#000" stroke-width="0.7">Binding energy (eV)</text>
<text transform="translate(126.00,2796.20) rotate(-90) scale(0.9481,1)" font-family="'Liberation Sans', Arial, sans-serif" font-size="65.12" fill="#000" stroke="#000" stroke-width="0.7">Intensiy (a.u.)</text>
<polyline points="191.0,2869.5 192.0,2869.6 193.0,2869.6 194.0,2869.7 195.0,2869.8 196.0,2869.8 197.0,2869.9 198.0,2870.0 199.0,2870.0 200.0,2870.1 201.0,2870.2 202.0,2870.2 203.0,2870.3 204.0,2870.3 205.0,2870.4 206.0,2870.5 207.0,2870.5 208.0,2870.6 209.0,2870.7 210.0,2870.7 211.0,2870.8 212.0,2870.9 213.0,2870.9 214.0,2871.0 215.0,2871.1 216.0,2871.1 217.0,2871.2 218.0,2871.2 219.0,2871.3 220.0,2871.4 221.0,2871.4 222.0,2871.5 223.0,2871.6 224.0,2871.6 225.0,2871.7 226.0,2871.7 227.0,2871.8 228.0,2871.8 229.0,2871.9 230.0,2871.9 231.0,2872.0 232.0,2872.0 233.0,2872.1 234.0,2872.1 235.0,2872.2 236.0,2872.2 237.0,2872.3 238.0,2872.3 239.0,2872.3 240.0,2872.4 241.0,2872.4 242.0,2872.5 243.0,2872.5 244.0,2872.6 245.0,2872.6 246.0,2872.7 247.0,2872.7 248.0,2872.8 249.0,2872.8 250.0,2872.9 251.0,2872.9 252.0,2872.9 253.0,2873.0 254.0,2873.0 255.0,2873.1 256.0,2873.1 257.0,2873.2 258.0,2873.2 259.0,2873.3 260.0,2873.3 261.0,2873.4 262.0,2873.4 263.0,2873.5 264.0,2873.5 265.0,2873.5 266.0,2873.6 267.0,2873.6 268.0,2873.7 269.0,2873.7 270.0,2873.8 271.0,2873.8 272.0,2873.9 273.0,2873.9 274.0,2874.0 275.0,2874.0 276.0,2874.1 277.0,2874.1 278.0,2874.1 279.0,2874.2 280.0,2874.2 281.0,2874.3 282.0,2874.3 283.0,2874.4 284.0,2874.4 285.0,2874.5 286.0,2874.5 287.0,2874.6 288.0,2874.6 289.0,2874.7 290.0,2874.7 291.0,2874.7 292.0,2874.8 293.0,2874.8 294.0,2874.9 295.0,2874.9 296.0,2875.0 297.0,2875.0 298.0,2875.1 299.0,2875.1 300.0,2875.2 301.0,2875.2 302.0,2875.3 303.0,2875.3 304.0,2875.4 305.0,2875.4 306.0,2875.4 307.0,2875.5 308.0,2875.5 309.0,2875.6 310.0,2875.6 311.0,2875.7 312.0,2875.7 313.0,2875.8 314.0,2875.8 315.0,2875.9 316.0,2875.9 317.0,2876.0 318.0,2876.0 319.0,2876.0 320.0,2876.1 321.0,2876.1 322.0,2876.2 323.0,2876.2 324.0,2876.3 325.0,2876.3 326.0,2876.4 327.0,2876.4 328.0,2876.5 329.0,2876.5 330.0,2876.6 331.0,2876.6 332.0,2876.6 333.0,2876.7 334.0,2876.7 335.0,2876.8 336.0,2876.8 337.0,2876.9 338.0,2876.9 339.0,2877.0 340.0,2877.0 341.0,2877.1 342.0,2877.3 343.0,2877.4 344.0,2877.5 345.0,2877.6 346.0,2877.7 347.0,2877.8 348.0,2877.9 349.0,2878.0 350.0,2878.2 351.0,2878.3 352.0,2878.4 353.0,2878.5 354.0,2878.6 355.0,2878.7 356.0,2878.8 357.0,2878.9 358.0,2879.1 359.0,2879.2 360.0,2879.3 361.0,2879.4 362.0,2879.5 363.0,2879.6 364.0,2879.7 365.0,2879.8 366.0,2880.0 367.0,2880.1 368.0,2880.2 369.0,2880.3 370.0,2880.4 371.0,2880.5 372.0,2880.6 373.0,2880.7 374.0,2880.9 375.0,2881.0 376.0,2881.1 377.0,2881.2 378.0,2881.3 379.0,2881.4 380.0,2881.5 381.0,2881.6 382.0,2881.8 383.0,2881.9 384.0,2882.0 385.0,2882.1 386.0,2882.2 387.0,2882.3 388.0,2882.4 389.0,2882.5 390.0,2882.7 391.0,2882.8 392.0,2882.9 393.0,2883.0 394.0,2883.1 395.0,2883.2 396.0,2883.3 397.0,2883.4 398.0,2883.6 399.0,2883.7 400.0,2883.8 401.0,2883.9 402.0,2884.0 403.0,2884.1 404.0,2884.2 405.0,2884.3 406.0,2884.5 407.0,2884.6 408.0,2884.7 409.0,2884.8 410.0,2884.9 411.0,2885.0 412.0,2885.1 413.0,2885.3 414.0,2885.4 415.0,2885.5 416.0,2885.6 417.0,2885.7 418.0,2885.8 419.0,2885.9 420.0,2886.0 421.0,2886.2 422.0,2886.3 423.0,2886.4 424.0,2886.5 425.0,2886.6 426.0,2886.7 427.0,2886.8 428.0,2887.0 429.0,2887.1 430.0,2887.2 431.0,2887.3 432.0,2887.4 433.0,2887.5 434.0,2887.6 435.0,2887.8 436.0,2887.9 437.0,2888.0 438.0,2888.1 439.0,2888.2 440.0,2888.3 441.0,2888.4 442.0,2888.6 443.0,2888.7 444.0,2888.8 445.0,2888.9 446.0,2889.0 447.0,2889.1 448.0,2889.2 449.0,2889.3 450.0,2889.5 451.0,2889.6 452.0,2889.7 453.0,2889.8 454.0,2889.9 455.0,2890.0 456.0,2890.1 457.0,2890.3 458.0,2890.4 459.0,2890.5 460.0,2890.6 461.0,2890.7 462.0,2890.8 463.0,2890.9 464.0,2891.1 465.0,2891.2 466.0,2891.3 467.0,2891.4 468.0,2891.5 469.0,2891.6 470.0,2891.7 471.0,2891.9 472.0,2892.0 473.0,2892.1 474.0,2892.2 475.0,2892.3 476.0,2892.4 477.0,2892.5 478.0,2892.6 479.0,2892.8 480.0,2892.9 481.0,2893.0 482.0,2893.1 483.0,2893.2 484.0,2893.3 485.0,2893.4 486.0,2893.6 487.0,2893.7 488.0,2893.8 489.0,2893.9 490.0,2894.0 491.0,2894.1 492.0,2894.2 493.0,2894.4 494.0,2894.7 495.0,2894.9 496.0,2895.2 497.0,2895.4 498.0,2895.7 499.0,2895.9 500.0,2896.2 501.0,2896.4 502.0,2896.7 503.0,2896.9 504.0,2897.2 505.0,2897.5 506.0,2897.7 507.0,2898.0 508.0,2898.2 509.0,2898.5 510.0,2898.7 511.0,2899.0 512.0,2899.2 513.0,2899.5 514.0,2899.7 515.0,2900.0 516.0,2900.2 517.0,2900.5 518.0,2900.7 519.0,2901.0 520.0,2901.2 521.0,2901.5 522.0,2901.7 523.0,2902.0 524.0,2902.2 525.0,2902.5 526.0,2902.7 527.0,2903.0 528.0,2903.3 529.0,2903.7 530.0,2904.0 531.0,2904.4 532.0,2904.7 533.0,2905.1 534.0,2905.4 535.0,2905.7 536.0,2906.1 537.0,2906.4 538.0,2906.8 539.0,2907.1 540.0,2907.5 541.0,2907.8 542.0,2908.1 543.0,2908.5 544.0,2908.8 545.0,2909.2 546.0,2909.5 547.0,2909.9 548.0,2910.2 549.0,2910.5 550.0,2910.9 551.0,2911.2 552.0,2911.6 553.0,2911.9 554.0,2912.3 555.0,2912.6 556.0,2912.9 557.0,2913.3 558.0,2913.6 559.0,2914.0 560.0,2914.3 561.0,2914.7 562.0,2915.0 563.0,2915.2 564.0,2915.4 565.0,2915.6 566.0,2915.8 567.0,2916.0 568.0,2916.2 569.0,2916.4 570.0,2916.6 571.0,2916.8 572.0,2917.0 573.0,2917.2 574.0,2917.4 575.0,2917.6 576.0,2917.8 577.0,2918.0 578.0,2918.2 579.0,2918.4 580.0,2918.6 581.0,2918.8 582.0,2919.0 583.0,2919.2 584.0,2919.4 585.0,2919.6 586.0,2919.8 587.0,2920.0 588.0,2920.2 589.0,2920.4 590.0,2920.6 591.0,2920.9 592.0,2921.1 593.0,2921.3 594.0,2921.5 595.0,2921.7 596.0,2921.9 597.0,2922.0 598.0,2922.1 599.0,2922.1 600.0,2922.2 601.0,2922.3 602.0,2922.3 603.0,2922.4 604.0,2922.4 605.0,2922.5 606.0,2922.6 607.0,2922.6 608.0,2922.7 609.0,2922.7 610.0,2922.8 611.0,2922.9 612.0,2922.9 613.0,2923.0 614.0,2923.0 615.0,2923.1 616.0,2923.2 617.0,2923.2 618.0,2923.3 619.0,2923.3 620.0,2923.4 621.0,2923.5 622.0,2923.5 623.0,2923.6 624.0,2923.6 625.0,2923.7 626.0,2923.8 627.0,2923.8 628.0,2923.9 629.0,2923.9 630.0,2924.0 631.0,2924.1 632.0,2924.1 633.0,2924.2 634.0,2924.2 635.0,2924.3 636.0,2924.4 637.0,2924.4 638.0,2924.5 639.0,2924.5 640.0,2924.6 641.0,2924.6 642.0,2924.7 643.0,2924.8 644.0,2924.8 645.0,2924.9 646.0,2924.9 647.0,2925.0 648.0,2925.1 649.0,2925.1 650.0,2925.2 651.0,2925.2 652.0,2925.3 653.0,2925.3 654.0,2925.4 655.0,2925.5 656.0,2925.5 657.0,2925.6 658.0,2925.7 659.0,2925.7 660.0,2925.8 661.0,2925.9 662.0,2926.0 663.0,2926.0 664.0,2926.1 665.0,2926.2 666.0,2926.3 667.0,2926.3 668.0,2926.4 669.0,2926.5 670.0,2926.5 671.0,2926.6 672.0,2926.7 673.0,2926.8 674.0,2926.8 675.0,2926.9 676.0,2927.0 677.0,2927.1 678.0,2927.1 679.0,2927.2 680.0,2927.3 681.0,2927.3 682.0,2927.4 683.0,2927.5 684.0,2927.6 685.0,2927.6 686.0,2927.7 687.0,2927.8 688.0,2927.9 689.0,2927.9 690.0,2928.0 691.0,2928.1 692.0,2928.1 693.0,2928.2 694.0,2928.3 695.0,2928.4 696.0,2928.4 697.0,2928.5 698.0,2928.6 699.0,2928.7 700.0,2928.7 701.0,2928.8 702.0,2928.9 703.0,2928.9 704.0,2929.1 705.0,2929.4 706.0,2929.7 707.0,2930.0 708.0,2930.3 709.0,2930.6 710.0,2930.8 711.0,2931.1 712.0,2931.4 713.0,2931.7 714.0,2932.0 715.0,2932.3 716.0,2932.6 717.0,2932.9 718.0,2933.2 719.0,2933.5 720.0,2933.8 721.0,2934.1 722.0,2934.4 723.0,2934.7 724.0,2935.0 725.0,2935.3 726.0,2935.5 727.0,2935.8 728.0,2936.1 729.0,2936.4 730.0,2936.7 731.0,2937.0 732.0,2937.3 733.0,2937.6 734.0,2937.9 735.0,2938.2 736.0,2938.5 737.0,2938.8 738.0,2939.1 739.0,2939.4 740.0,2939.7 741.0,2939.9 742.0,2940.2 743.0,2940.5 744.0,2940.8 745.0,2941.1 746.0,2941.4 747.0,2941.7 748.0,2942.0 749.0,2942.1 750.0,2942.1 751.0,2942.2 752.0,2942.2 753.0,2942.3 754.0,2942.3 755.0,2942.4 756.0,2942.4 757.0,2942.5 758.0,2942.5 759.0,2942.6 760.0,2942.6 761.0,2942.7 762.0,2942.8 763.0,2942.8 764.0,2942.9 765.0,2942.9 766.0,2943.0 767.0,2943.0 768.0,2943.1 769.0,2943.1 770.0,2943.2 771.0,2943.2 772.0,2943.3 773.0,2943.4 774.0,2943.4 775.0,2943.5 776.0,2943.5 777.0,2943.6 778.0,2943.6 779.0,2943.7 780.0,2943.7 781.0,2943.8 782.0,2943.8 783.0,2943.9 784.0,2943.9 785.0,2944.0 786.0,2944.1 787.0,2944.1 788.0,2944.2 789.0,2944.2 790.0,2944.3 791.0,2944.3 792.0,2944.4 793.0,2944.4 794.0,2944.5 795.0,2944.5 796.0,2944.6 797.0,2944.6 798.0,2944.7 799.0,2944.8 800.0,2944.8 801.0,2944.9 802.0,2944.9 803.0,2945.0 804.0,2945.0 805.0,2945.1 806.0,2945.1 807.0,2945.2 808.0,2945.2 809.0,2945.3 810.0,2945.4 811.0,2945.4 812.0,2945.5 813.0,2945.5 814.0,2945.6 815.0,2945.6 816.0,2945.7 817.0,2945.7 818.0,2945.8 819.0,2945.8 820.0,2945.9 821.0,2945.9 822.0,2946.0 823.0,2946.1 824.0,2946.1 825.0,2946.2 826.0,2946.2 827.0,2946.3 828.0,2946.3 829.0,2946.4 830.0,2946.4 831.0,2946.5 832.0,2946.5 833.0,2946.6 834.0,2946.6 835.0,2946.7 836.0,2946.8 837.0,2946.8 838.0,2946.9 839.0,2946.9 840.0,2947.0 841.0,2947.0 842.0,2947.1 843.0,2947.1 844.0,2947.2 845.0,2947.2 846.0,2947.3 847.0,2947.4 848.0,2947.4 849.0,2947.5 850.0,2947.5 851.0,2947.6 852.0,2947.6 853.0,2947.7 854.0,2947.7 855.0,2947.8 856.0,2947.8 857.0,2947.9 858.0,2947.9 859.0,2948.0 860.0,2948.0 861.0,2948.1 862.0,2948.1 863.0,2948.2 864.0,2948.2 865.0,2948.3 866.0,2948.3 867.0,2948.4 868.0,2948.4 869.0,2948.5 870.0,2948.5 871.0,2948.6 872.0,2948.6 873.0,2948.7 874.0,2948.7 875.0,2948.8 876.0,2948.8 877.0,2948.9 878.0,2948.9 879.0,2948.9 880.0,2949.0 881.0,2949.0 882.0,2949.1 883.0,2949.1 884.0,2949.2 885.0,2949.2 886.0,2949.3 887.0,2949.3 888.0,2949.4 889.0,2949.4 890.0,2949.5 891.0,2949.5 892.0,2949.6 893.0,2949.6 894.0,2949.7 895.0,2949.7 896.0,2949.8 897.0,2949.8 898.0,2949.8 899.0,2949.9 900.0,2949.9 901.0,2950.0 902.0,2950.0 903.0,2950.1 904.0,2950.1 905.0,2950.2 906.0,2950.2 907.0,2950.3 908.0,2950.3 909.0,2950.4 910.0,2950.4 911.0,2950.5 912.0,2950.5 913.0,2950.6 914.0,2950.6 915.0,2950.6 916.0,2950.7 917.0,2950.7 918.0,2950.8 919.0,2950.8 920.0,2950.9 921.0,2950.9 922.0,2951.0 923.0,2951.0 924.0,2951.1 925.0,2951.1 926.0,2951.2 927.0,2951.2 928.0,2951.3 929.0,2951.3 930.0,2951.4 931.0,2951.4 932.0,2951.5 933.0,2951.5 934.0,2951.5 935.0,2951.6 936.0,2951.6 937.0,2951.6 938.0,2951.7 939.0,2951.7 940.0,2951.7 941.0,2951.8 942.0,2951.8 943.0,2951.8 944.0,2951.9 945.0,2951.9 946.0,2951.9 947.0,2952.0 948.0,2952.0 949.0,2952.0 950.0,2952.1 951.0,2952.1 952.0,2952.1 953.0,2952.2 954.0,2952.2 955.0,2952.2 956.0,2952.3 957.0,2952.3 958.0,2952.3 959.0,2952.4 960.0,2952.4 961.0,2952.4 962.0,2952.5 963.0,2952.5 964.0,2952.5 965.0,2952.6 966.0,2952.6 967.0,2952.6 968.0,2952.7 969.0,2952.7 970.0,2952.8 971.0,2952.8 972.0,2952.8 973.0,2952.9 974.0,2952.9 975.0,2952.9 976.0,2953.0 977.0,2953.0 978.0,2953.0 979.0,2953.1 980.0,2953.1 981.0,2953.1 982.0,2953.2 983.0,2953.2 984.0,2953.2 985.0,2953.3 986.0,2953.3 987.0,2953.3 988.0,2953.4 989.0,2953.4 990.0,2953.4 991.0,2953.5 992.0,2953.5 993.0,2953.5 994.0,2953.6 995.0,2953.6 996.0,2953.6 997.0,2953.7 998.0,2953.7 999.0,2953.7 1000.0,2953.8 1001.0,2953.8 1002.0,2953.8 1003.0,2953.9 1004.0,2953.9 1005.0,2953.9 1006.0,2954.0 1007.0,2954.0 1008.0,2954.0 1009.0,2954.0 1010.0,2954.0 1011.0,2954.1 1012.0,2954.1 1013.0,2954.1 1014.0,2954.1 1015.0,2954.1 1016.0,2954.1 1017.0,2954.1 1018.0,2954.2 1019.0,2954.2 1020.0,2954.2 1021.0,2954.2 1022.0,2954.2 1023.0,2954.2 1024.0,2954.2 1025.0,2954.3 1026.0,2954.3 1027.0,2954.3 1028.0,2954.3 1029.0,2954.3 1030.0,2954.3 1031.0,2954.3 1032.0,2954.4 1033.0,2954.4 1034.0,2954.4 1035.0,2954.4 1036.0,2954.4 1037.0,2954.4 1038.0,2954.4 1039.0,2954.5 1040.0,2954.5 1041.0,2954.5 1042.0,2954.5 1043.0,2954.5 1044.0,2954.5 1045.0,2954.5 1046.0,2954.6 1047.0,2954.6 1048.0,2954.6 1049.0,2954.6 1050.0,2954.6 1051.0,2954.6 1052.0,2954.6 1053.0,2954.7 1054.0,2954.7 1055.0,2954.7 1056.0,2954.7 1057.0,2954.7 1058.0,2954.7 1059.0,2954.7 1060.0,2954.8 1061.0,2954.8 1062.0,2954.8 1063.0,2954.8 1064.0,2954.8 1065.0,2954.8 1066.0,2954.8 1067.0,2954.9 1068.0,2954.9 1069.0,2954.9 1070.0,2954.9 1071.0,2954.9 1072.0,2954.9 1073.0,2954.9 1074.0,2955.0 1075.0,2955.0" fill="none" stroke="#555" stroke-width="2" stroke-linejoin="round"/>
<polyline points="191.0,2866.7 192.0,2866.6 193.0,2866.5 194.0,2866.4 195.0,2866.3 196.0,2866.2 197.0,2866.1 198.0,2865.9 199.0,2865.8 200.0,2865.6 201.0,2865.5 202.0,2865.3 203.0,2865.1 204.0,2864.9 205.0,2864.7 206.0,2864.4 207.0,2864.2 208.0,2864.0 209.0,2863.7 210.0,2863.4 211.0,2863.1 212.0,2862.8 213.0,2862.5 214.0,2862.2 215.0,2861.8 216.0,2861.5 217.0,2861.1 218.0,2860.7 219.0,2860.3 220.0,2859.9 221.0,2859.4 222.0,2859.0 223.0,2858.5 224.0,2858.0 225.0,2857.5 226.0,2856.9 227.0,2856.3 228.0,2855.7 229.0,2855.1 230.0,2854.5 231.0,2853.8 232.0,2853.2 233.0,2852.5 234.0,2851.8 235.0,2851.0 236.0,2850.3 237.0,2849.5 238.0,2848.7 239.0,2847.8 240.0,2847.0 241.0,2846.1 242.0,2845.2 243.0,2844.3 244.0,2843.3 245.0,2842.4 246.0,2841.4 247.0,2840.4 248.0,2839.3 249.0,2838.3 250.0,2837.2 251.0,2836.1 252.0,2835.0 253.0,2833.8 254.0,2832.7 255.0,2831.5 256.0,2830.3 257.0,2829.0 258.0,2827.8 259.0,2826.5 260.0,2825.2 261.0,2823.9 262.0,2822.6 263.0,2821.2 264.0,2819.8 265.0,2818.5 266.0,2817.1 267.0,2815.6 268.0,2814.2 269.0,2812.8 270.0,2811.3 271.0,2809.8 272.0,2808.3 273.0,2806.8 274.0,2805.3 275.0,2803.8 276.0,2802.3 277.0,2800.8 278.0,2799.2 279.0,2797.7 280.0,2796.2 281.0,2794.6 282.0,2793.1 283.0,2791.5 284.0,2790.0 285.0,2788.4 286.0,2786.9 287.0,2785.3 288.0,2783.8 289.0,2782.3 290.0,2780.8 291.0,2779.3 292.0,2777.8 293.0,2776.3 294.0,2774.9 295.0,2773.4 296.0,2772.0 297.0,2770.6 298.0,2769.2 299.0,2767.8 300.0,2766.5 301.0,2765.2 302.0,2763.9 303.0,2762.6 304.0,2761.4 305.0,2760.1 306.0,2759.0 307.0,2757.8 308.0,2756.7 309.0,2755.6 310.0,2754.6 311.0,2753.6 312.0,2752.6 313.0,2751.7 314.0,2750.8 315.0,2750.0 316.0,2749.1 317.0,2748.4 318.0,2747.7 319.0,2747.0 320.0,2746.4 321.0,2745.8 322.0,2745.3 323.0,2744.8 324.0,2744.3 325.0,2744.0 326.0,2743.6 327.0,2743.3 328.0,2743.1 329.0,2742.9 330.0,2742.8 331.0,2742.7 332.0,2742.7 333.0,2742.7 334.0,2742.8 335.0,2742.9 336.0,2743.1 337.0,2743.3 338.0,2743.6 339.0,2743.9 340.0,2744.3 341.0,2744.8 342.0,2745.3 343.0,2745.9 344.0,2746.6 345.0,2747.3 346.0,2748.0 347.0,2748.8 348.0,2749.6 349.0,2750.5 350.0,2751.4 351.0,2752.4 352.0,2753.4 353.0,2754.4 354.0,2755.5 355.0,2756.6 356.0,2757.8 357.0,2759.0 358.0,2760.2 359.0,2761.5 360.0,2762.8 361.0,2764.1 362.0,2765.5 363.0,2766.9 364.0,2768.3 365.0,2769.8 366.0,2771.3 367.0,2772.8 368.0,2774.3 369.0,2775.8 370.0,2777.4 371.0,2779.0 372.0,2780.6 373.0,2782.2 374.0,2783.9 375.0,2785.5 376.0,2787.2 377.0,2788.8 378.0,2790.5 379.0,2792.2 380.0,2793.9 381.0,2795.6 382.0,2797.3 383.0,2799.0 384.0,2800.7 385.0,2802.4 386.0,2804.1 387.0,2805.8 388.0,2807.5 389.0,2809.2 390.0,2810.9 391.0,2812.6 392.0,2814.3 393.0,2815.9 394.0,2817.6 395.0,2819.2 396.0,2820.8 397.0,2822.5 398.0,2824.1 399.0,2825.7 400.0,2827.2 401.0,2828.8 402.0,2830.3 403.0,2831.9 404.0,2833.4 405.0,2834.9 406.0,2836.3 407.0,2837.8 408.0,2839.2 409.0,2840.7 410.0,2842.0 411.0,2843.4 412.0,2844.8 413.0,2846.1 414.0,2847.4 415.0,2848.7 416.0,2850.0 417.0,2851.2 418.0,2852.4 419.0,2853.6 420.0,2854.8 421.0,2855.9 422.0,2857.0 423.0,2858.1 424.0,2859.2 425.0,2860.3 426.0,2861.3 427.0,2862.3 428.0,2863.3 429.0,2864.3 430.0,2865.2 431.0,2866.2 432.0,2867.1 433.0,2867.9 434.0,2868.8 435.0,2869.6 436.0,2870.4 437.0,2871.2 438.0,2872.0 439.0,2872.8 440.0,2873.5 441.0,2874.2 442.0,2874.9 443.0,2875.6 444.0,2876.2 445.0,2876.9 446.0,2877.5 447.0,2878.1 448.0,2878.7 449.0,2879.3 450.0,2879.8 451.0,2880.4 452.0,2880.9 453.0,2881.4 454.0,2881.9 455.0,2882.4 456.0,2882.8 457.0,2883.3 458.0,2883.7 459.0,2884.2 460.0,2884.6 461.0,2885.0 462.0,2885.4 463.0,2885.7 464.0,2886.1 465.0,2886.5 466.0,2886.8 467.0,2887.2 468.0,2887.5 469.0,2887.8 470.0,2888.1 471.0,2888.4 472.0,2888.7 473.0,2889.0 474.0,2889.3 475.0,2889.5 476.0,2889.8 477.0,2890.0 478.0,2890.3 479.0,2890.5 480.0,2890.8 481.0,2891.0 482.0,2891.2 483.0,2891.4 484.0,2891.7 485.0,2891.9" fill="none" stroke="#aaaaaa" stroke-width="1.8" stroke-linejoin="round"/>
<polyline points="324.0,2874.7 325.0,2874.7 326.0,2874.6 327.0,2874.5 328.0,2874.4 329.0,2874.3 330.0,2874.1 331.0,2874.0 332.0,2873.9 333.0,2873.7 334.0,2873.5 335.0,2873.3 336.0,2873.1 337.0,2872.9 338.0,2872.7 339.0,2872.4 340.0,2872.2 341.0,2872.0 342.0,2871.8 343.0,2871.5 344.0,2871.2 345.0,2871.0 346.0,2870.6 347.0,2870.3 348.0,2870.0 349.0,2869.6 350.0,2869.2 351.0,2868.8 352.0,2868.3 353.0,2867.8 354.0,2867.3 355.0,2866.8 356.0,2866.2 357.0,2865.7 358.0,2865.1 359.0,2864.4 360.0,2863.7 361.0,2863.1 362.0,2862.3 363.0,2861.6 364.0,2860.8 365.0,2860.0 366.0,2859.1 367.0,2858.2 368.0,2857.3 369.0,2856.4 370.0,2855.4 371.0,2854.4 372.0,2853.4 373.0,2852.4 374.0,2851.3 375.0,2850.2 376.0,2849.0 377.0,2847.9 378.0,2846.7 379.0,2845.4 380.0,2844.2 381.0,2842.9 382.0,2841.7 383.0,2840.4 384.0,2839.0 385.0,2837.7 386.0,2836.3 387.0,2835.0 388.0,2833.6 389.0,2832.2 390.0,2830.8 391.0,2829.4 392.0,2828.0 393.0,2826.6 394.0,2825.2 395.0,2823.8 396.0,2822.4 397.0,2821.0 398.0,2819.6 399.0,2818.2 400.0,2816.8 401.0,2815.5 402.0,2814.2 403.0,2812.9 404.0,2811.6 405.0,2810.3 406.0,2809.1 407.0,2807.9 408.0,2806.8 409.0,2805.6 410.0,2804.6 411.0,2803.5 412.0,2802.5 413.0,2801.6 414.0,2800.7 415.0,2799.8 416.0,2799.0 417.0,2798.3 418.0,2797.6 419.0,2797.0 420.0,2796.4 421.0,2795.9 422.0,2795.4 423.0,2795.0 424.0,2794.7 425.0,2794.5 426.0,2794.3 427.0,2794.2 428.0,2794.1 429.0,2794.1 430.0,2794.2 431.0,2794.3 432.0,2794.6 433.0,2794.8 434.0,2795.2 435.0,2795.6 436.0,2796.1 437.0,2796.6 438.0,2797.2 439.0,2797.9 440.0,2798.7 441.0,2799.5 442.0,2800.3 443.0,2801.2 444.0,2802.2 445.0,2803.2 446.0,2804.3 447.0,2805.4 448.0,2806.6 449.0,2807.8 450.0,2809.1 451.0,2810.4 452.0,2811.8 453.0,2813.1 454.0,2814.6 455.0,2816.0 456.0,2817.5 457.0,2819.0 458.0,2820.5 459.0,2822.1 460.0,2823.7 461.0,2825.2 462.0,2826.8 463.0,2828.5 464.0,2830.1 465.0,2831.7 466.0,2833.4 467.0,2835.0 468.0,2836.6 469.0,2838.3 470.0,2839.9 471.0,2841.5 472.0,2843.1 473.0,2844.7 474.0,2846.3 475.0,2847.9 476.0,2849.5 477.0,2851.0 478.0,2852.6 479.0,2854.1 480.0,2855.6 481.0,2857.0 482.0,2858.5 483.0,2859.9 484.0,2861.3 485.0,2862.6 486.0,2864.0 487.0,2865.3 488.0,2866.6 489.0,2867.8 490.0,2869.0 491.0,2870.2 492.0,2871.4 493.0,2872.6 494.0,2873.8 495.0,2875.1 496.0,2876.2 497.0,2877.4 498.0,2878.5 499.0,2879.6 500.0,2880.7 501.0,2881.7 502.0,2882.7 503.0,2883.7 504.0,2884.6 505.0,2885.5 506.0,2886.4 507.0,2887.3 508.0,2888.1 509.0,2888.9 510.0,2889.7 511.0,2890.5 512.0,2891.2 513.0,2892.0 514.0,2892.7 515.0,2893.3 516.0,2894.0 517.0,2894.6 518.0,2895.2 519.0,2895.8 520.0,2896.4 521.0,2897.0 522.0,2897.5 523.0,2898.0 524.0,2898.6 525.0,2899.1 526.0,2899.5 527.0,2900.0 528.0,2900.6 529.0,2901.1 530.0,2901.6 531.0,2902.1 532.0,2902.6 533.0,2903.1 534.0,2903.6 535.0,2904.1 536.0,2904.6" fill="none" stroke="#6a6a6a" stroke-width="1.8" stroke-linejoin="round"/>
<polyline points="361.0,2874.8 362.0,2874.9 363.0,2875.0 364.0,2875.0 365.0,2875.1 366.0,2875.1 367.0,2875.2 368.0,2875.2 369.0,2875.3 370.0,2875.3 371.0,2875.4 372.0,2875.4 373.0,2875.4 374.0,2875.5 375.0,2875.5 376.0,2875.5 377.0,2875.6 378.0,2875.6 379.0,2875.6 380.0,2875.6 381.0,2875.6 382.0,2875.6 383.0,2875.6 384.0,2875.6 385.0,2875.6 386.0,2875.6 387.0,2875.6 388.0,2875.6 389.0,2875.5 390.0,2875.5 391.0,2875.5 392.0,2875.4 393.0,2875.3 394.0,2875.3 395.0,2875.2 396.0,2875.1 397.0,2875.0 398.0,2874.9 399.0,2874.8 400.0,2874.7 401.0,2874.5 402.0,2874.4 403.0,2874.2 404.0,2874.0 405.0,2873.8 406.0,2873.6 407.0,2873.3 408.0,2873.1 409.0,2872.8 410.0,2872.5 411.0,2872.2 412.0,2871.9 413.0,2871.5 414.0,2871.1 415.0,2870.7 416.0,2870.2 417.0,2869.8 418.0,2869.3 419.0,2868.7 420.0,2868.2 421.0,2867.6 422.0,2866.9 423.0,2866.2 424.0,2865.5 425.0,2864.8 426.0,2863.9 427.0,2863.1 428.0,2862.2 429.0,2861.2 430.0,2860.2 431.0,2859.2 432.0,2858.1 433.0,2856.9 434.0,2855.7 435.0,2854.4 436.0,2853.1 437.0,2851.6 438.0,2850.1 439.0,2848.6 440.0,2847.0 441.0,2845.3 442.0,2843.5 443.0,2841.6 444.0,2839.7 445.0,2837.7 446.0,2835.5 447.0,2833.3 448.0,2831.1 449.0,2828.7 450.0,2826.2 451.0,2823.6 452.0,2821.0 453.0,2818.2 454.0,2815.3 455.0,2812.3 456.0,2809.3 457.0,2806.1 458.0,2802.8 459.0,2799.4 460.0,2795.8 461.0,2792.2 462.0,2788.5 463.0,2784.6 464.0,2780.6 465.0,2776.5 466.0,2772.3 467.0,2768.0 468.0,2763.5 469.0,2759.0 470.0,2754.3 471.0,2749.5 472.0,2744.6 473.0,2739.6 474.0,2734.5 475.0,2729.2 476.0,2723.8 477.0,2718.4 478.0,2712.8 479.0,2707.1 480.0,2701.4 481.0,2695.5 482.0,2689.5 483.0,2683.4 484.0,2677.3 485.0,2671.0 486.0,2664.7 487.0,2658.3 488.0,2651.8 489.0,2645.3 490.0,2638.7 491.0,2632.0 492.0,2625.3 493.0,2618.6 494.0,2611.9 495.0,2605.2 496.0,2598.5 497.0,2591.7 498.0,2585.0 499.0,2578.2 500.0,2571.4 501.0,2564.7 502.0,2557.9 503.0,2551.2 504.0,2544.5 505.0,2537.9 506.0,2531.3 507.0,2524.8 508.0,2518.3 509.0,2511.9 510.0,2505.6 511.0,2499.4 512.0,2493.2 513.0,2487.2 514.0,2481.3 515.0,2475.6 516.0,2470.0 517.0,2464.5 518.0,2459.2 519.0,2454.1 520.0,2449.1 521.0,2444.3 522.0,2439.7 523.0,2435.3 524.0,2431.1 525.0,2427.2 526.0,2423.4 527.0,2419.9 528.0,2416.8 529.0,2413.8 530.0,2411.2 531.0,2408.8 532.0,2406.6 533.0,2404.7 534.0,2403.1 535.0,2401.8 536.0,2400.8 537.0,2400.0 538.0,2399.5 539.0,2399.4 540.0,2399.5 541.0,2399.9 542.0,2400.6 543.0,2401.5 544.0,2402.8 545.0,2404.4 546.0,2406.2 547.0,2408.3 548.0,2410.7 549.0,2413.4 550.0,2416.3 551.0,2419.5 552.0,2423.0 553.0,2426.7 554.0,2430.7 555.0,2434.9 556.0,2439.3 557.0,2443.9 558.0,2448.8 559.0,2453.9 560.0,2459.1 561.0,2464.6 562.0,2470.2 563.0,2475.9 564.0,2481.7 565.0,2487.7 566.0,2493.8 567.0,2500.1 568.0,2506.5 569.0,2513.0 570.0,2519.6 571.0,2526.3 572.0,2533.1 573.0,2540.0 574.0,2546.9 575.0,2553.9 576.0,2561.0 577.0,2568.1 578.0,2575.3 579.0,2582.5 580.0,2589.7 581.0,2596.9 582.0,2604.1 583.0,2611.3 584.0,2618.6 585.0,2625.7 586.0,2632.9 587.0,2640.1 588.0,2647.2 589.0,2654.2 590.0,2661.2 591.0,2668.2 592.0,2675.1 593.0,2681.9 594.0,2688.7 595.0,2695.4 596.0,2702.0 597.0,2708.5 598.0,2714.8 599.0,2721.0 600.0,2727.1 601.0,2733.1 602.0,2739.0 603.0,2744.8 604.0,2750.5 605.0,2756.1 606.0,2761.6 607.0,2767.0 608.0,2772.3 609.0,2777.4 610.0,2782.4 611.0,2787.4 612.0,2792.2 613.0,2796.9 614.0,2801.4 615.0,2805.9 616.0,2810.2 617.0,2814.4 618.0,2818.5 619.0,2822.5 620.0,2826.4 621.0,2830.2 622.0,2833.8 623.0,2837.4 624.0,2840.8 625.0,2844.1 626.0,2847.3 627.0,2850.4 628.0,2853.4 629.0,2856.3 630.0,2859.1 631.0,2861.8 632.0,2864.5 633.0,2867.0 634.0,2869.4 635.0,2871.7 636.0,2874.0 637.0,2876.1 638.0,2878.2 639.0,2880.2 640.0,2882.1 641.0,2884.0 642.0,2885.8 643.0,2887.5 644.0,2889.1 645.0,2890.7 646.0,2892.2 647.0,2893.6 648.0,2895.0 649.0,2896.3 650.0,2897.5 651.0,2898.7 652.0,2899.9 653.0,2901.0 654.0,2902.0 655.0,2903.1 656.0,2904.0 657.0,2905.0 658.0,2905.8 659.0,2906.7 660.0,2907.5 661.0,2908.3 662.0,2909.0 663.0,2909.7 664.0,2910.4 665.0,2911.1 666.0,2911.7 667.0,2912.3 668.0,2912.8 669.0,2913.4 670.0,2913.9 671.0,2914.4 672.0,2914.9 673.0,2915.3 674.0,2915.8 675.0,2916.2 676.0,2916.6 677.0,2917.0 678.0,2917.3 679.0,2917.7 680.0,2918.0 681.0,2918.3 682.0,2918.6 683.0,2918.9 684.0,2919.2 685.0,2919.5 686.0,2919.8 687.0,2920.0 688.0,2920.3 689.0,2920.5 690.0,2920.8 691.0,2921.0 692.0,2921.2 693.0,2921.4 694.0,2921.6 695.0,2921.8 696.0,2922.0 697.0,2922.2 698.0,2922.4 699.0,2922.6 700.0,2922.8 701.0,2922.9 702.0,2923.1 703.0,2923.3 704.0,2923.5 705.0,2923.9 706.0,2924.2 707.0,2924.6 708.0,2925.0 709.0,2925.3 710.0,2925.7 711.0,2926.1 712.0,2926.4 713.0,2926.8 714.0,2927.1 715.0,2927.5 716.0,2927.9 717.0,2928.2 718.0,2928.6 719.0,2928.9 720.0,2929.3" fill="none" stroke="#8a3cf0" stroke-width="2" stroke-linejoin="round"/>
<polyline points="652.0,2917.1 653.0,2916.7 654.0,2916.3 655.0,2915.8 656.0,2915.3 657.0,2914.7 658.0,2914.1 659.0,2913.4 660.0,2912.6 661.0,2911.8 662.0,2910.8 663.0,2909.7 664.0,2908.6 665.0,2907.3 666.0,2905.8 667.0,2904.2 668.0,2902.5 669.0,2900.5 670.0,2898.4 671.0,2896.1 672.0,2893.6 673.0,2890.9 674.0,2887.9 675.0,2884.7 676.0,2881.1 677.0,2877.4 678.0,2873.3 679.0,2868.9 680.0,2864.1 681.0,2859.1 682.0,2853.6 683.0,2847.9 684.0,2841.7 685.0,2835.2 686.0,2828.2 687.0,2820.9 688.0,2813.2 689.0,2805.1 690.0,2796.5 691.0,2787.6 692.0,2778.3 693.0,2768.6 694.0,2758.5 695.0,2748.1 696.0,2737.3 697.0,2726.2 698.0,2714.7 699.0,2703.0 700.0,2691.1 701.0,2678.9 702.0,2666.6 703.0,2654.1 704.0,2641.6 705.0,2629.2 706.0,2616.7 707.0,2604.4 708.0,2592.1 709.0,2579.9 710.0,2568.0 711.0,2556.3 712.0,2544.9 713.0,2533.9 714.0,2523.4 715.0,2513.3 716.0,2503.8 717.0,2494.9 718.0,2486.7 719.0,2479.3 720.0,2472.6 721.0,2466.7 722.0,2461.7 723.0,2457.6 724.0,2454.4 725.0,2452.2 726.0,2451.0 727.0,2450.8 728.0,2451.6 729.0,2453.4 730.0,2456.2 731.0,2459.9 732.0,2464.6 733.0,2470.2 734.0,2476.7 735.0,2483.9 736.0,2492.0 737.0,2500.8 738.0,2510.3 739.0,2520.4 740.0,2531.0 741.0,2542.1 742.0,2553.7 743.0,2565.7 744.0,2577.9 745.0,2590.5 746.0,2603.2 747.0,2616.1 748.0,2629.1 749.0,2641.8 750.0,2654.6 751.0,2667.3 752.0,2679.9 753.0,2692.4 754.0,2704.7 755.0,2716.8 756.0,2728.6 757.0,2740.1 758.0,2751.4 759.0,2762.3 760.0,2772.9 761.0,2783.1 762.0,2792.9 763.0,2802.4 764.0,2811.4 765.0,2820.1 766.0,2828.3 767.0,2836.2 768.0,2843.6 769.0,2850.7 770.0,2857.3 771.0,2863.6 772.0,2869.5 773.0,2875.1 774.0,2880.3 775.0,2885.1 776.0,2889.6 777.0,2893.9 778.0,2897.8 779.0,2901.4 780.0,2904.8 781.0,2907.9 782.0,2910.8 783.0,2913.4 784.0,2915.8 785.0,2918.1 786.0,2920.1 787.0,2922.0 788.0,2923.7 789.0,2925.3 790.0,2926.7 791.0,2928.0 792.0,2929.2 793.0,2930.3 794.0,2931.3 795.0,2932.2 796.0,2933.0 797.0,2933.8 798.0,2934.5 799.0,2935.1 800.0,2935.7 801.0,2936.2 802.0,2936.7" fill="none" stroke="#3c3cd8" stroke-width="2" stroke-linejoin="round"/>
<polyline points="746.0,2939.9 747.0,2940.1 748.0,2940.3 749.0,2940.2 750.0,2940.2 751.0,2940.1 752.0,2940.1 753.0,2940.0 754.0,2939.9 755.0,2939.8 756.0,2939.8 757.0,2939.7 758.0,2939.6 759.0,2939.5 760.0,2939.3 761.0,2939.2 762.0,2939.1 763.0,2939.0 764.0,2938.8 765.0,2938.7 766.0,2938.5 767.0,2938.3 768.0,2938.2 769.0,2938.0 770.0,2937.8 771.0,2937.6 772.0,2937.3 773.0,2937.1 774.0,2936.9 775.0,2936.6 776.0,2936.4 777.0,2936.1 778.0,2935.8 779.0,2935.5 780.0,2935.2 781.0,2934.9 782.0,2934.5 783.0,2934.2 784.0,2933.8 785.0,2933.4 786.0,2933.0 787.0,2932.6 788.0,2932.2 789.0,2931.8 790.0,2931.3 791.0,2930.8 792.0,2930.4 793.0,2929.9 794.0,2929.4 795.0,2928.8 796.0,2928.3 797.0,2927.7 798.0,2927.1 799.0,2926.6 800.0,2925.9 801.0,2925.3 802.0,2924.7 803.0,2924.0 804.0,2923.3 805.0,2922.6 806.0,2921.9 807.0,2921.2 808.0,2920.5 809.0,2919.7 810.0,2918.9 811.0,2918.2 812.0,2917.4 813.0,2916.5 814.0,2915.7 815.0,2914.9 816.0,2914.0 817.0,2913.1 818.0,2912.2 819.0,2911.3 820.0,2910.4 821.0,2909.5 822.0,2908.5 823.0,2907.6 824.0,2906.6 825.0,2905.6 826.0,2904.6 827.0,2903.6 828.0,2902.6 829.0,2901.6 830.0,2900.6 831.0,2899.5 832.0,2898.5 833.0,2897.5 834.0,2896.4 835.0,2895.4 836.0,2894.3 837.0,2893.2 838.0,2892.2 839.0,2891.1 840.0,2890.1 841.0,2889.0 842.0,2887.9 843.0,2886.9 844.0,2885.8 845.0,2884.8 846.0,2883.7 847.0,2882.7 848.0,2881.7 849.0,2880.7 850.0,2879.6 851.0,2878.6 852.0,2877.7 853.0,2876.7 854.0,2875.7 855.0,2874.8 856.0,2873.8 857.0,2872.9 858.0,2872.0 859.0,2871.2 860.0,2870.3 861.0,2869.4 862.0,2868.6 863.0,2867.8 864.0,2867.0 865.0,2866.3 866.0,2865.6 867.0,2864.9 868.0,2864.2 869.0,2863.5 870.0,2862.9 871.0,2862.3 872.0,2861.8 873.0,2861.3 874.0,2860.8 875.0,2860.3 876.0,2859.9 877.0,2859.5 878.0,2859.1 879.0,2858.8 880.0,2858.5 881.0,2858.2 882.0,2858.0 883.0,2857.8 884.0,2857.6 885.0,2857.5 886.0,2857.4 887.0,2857.4 888.0,2857.4 889.0,2857.4 890.0,2857.5 891.0,2857.6 892.0,2857.7 893.0,2857.9 894.0,2858.1 895.0,2858.4 896.0,2858.6 897.0,2859.0 898.0,2859.3 899.0,2859.7 900.0,2860.1 901.0,2860.6 902.0,2861.1 903.0,2861.6 904.0,2862.2 905.0,2862.8 906.0,2863.4 907.0,2864.0 908.0,2864.7 909.0,2865.4 910.0,2866.2 911.0,2866.9 912.0,2867.7 913.0,2868.6 914.0,2869.4 915.0,2870.3 916.0,2871.2 917.0,2872.1 918.0,2873.0 919.0,2874.0 920.0,2875.0 921.0,2876.0 922.0,2877.0 923.0,2878.0 924.0,2879.1 925.0,2880.1 926.0,2881.2 927.0,2882.3 928.0,2883.4 929.0,2884.5 930.0,2885.6 931.0,2886.8 932.0,2887.9 933.0,2889.0 934.0,2890.2 935.0,2891.3 936.0,2892.5 937.0,2893.6 938.0,2894.8 939.0,2895.9 940.0,2897.1 941.0,2898.2 942.0,2899.3 943.0,2900.5 944.0,2901.6 945.0,2902.8 946.0,2903.9 947.0,2905.0 948.0,2906.1 949.0,2907.3 950.0,2908.4 951.0,2909.5 952.0,2910.5 953.0,2911.6 954.0,2912.7 955.0,2913.7 956.0,2914.8 957.0,2915.8 958.0,2916.8 959.0,2917.8 960.0,2918.8 961.0,2919.8 962.0,2920.8 963.0,2921.7 964.0,2922.7 965.0,2923.6 966.0,2924.5 967.0,2925.4 968.0,2926.3 969.0,2927.1 970.0,2928.0 971.0,2928.8 972.0,2929.6 973.0,2930.4 974.0,2931.2 975.0,2932.0 976.0,2932.7 977.0,2933.4 978.0,2934.1 979.0,2934.8 980.0,2935.5 981.0,2936.2 982.0,2936.8 983.0,2937.5 984.0,2938.1 985.0,2938.7 986.0,2939.3 987.0,2939.8 988.0,2940.4 989.0,2940.9 990.0,2941.5 991.0,2942.0 992.0,2942.5 993.0,2943.0 994.0,2943.4 995.0,2943.9 996.0,2944.3 997.0,2944.7 998.0,2945.1 999.0,2945.5 1000.0,2945.9 1001.0,2946.3 1002.0,2946.7 1003.0,2947.0 1004.0,2947.4 1005.0,2947.7 1006.0,2948.0 1007.0,2948.3 1008.0,2948.6 1009.0,2948.9 1010.0,2949.1 1011.0,2949.4 1012.0,2949.6 1013.0,2949.8 1014.0,2950.1 1015.0,2950.3 1016.0,2950.5 1017.0,2950.7 1018.0,2950.9 1019.0,2951.0 1020.0,2951.2 1021.0,2951.4 1022.0,2951.5 1023.0,2951.7 1024.0,2951.8 1025.0,2952.0 1026.0,2952.1 1027.0,2952.2 1028.0,2952.4 1029.0,2952.5 1030.0,2952.6 1031.0,2952.7 1032.0,2952.8" fill="none" stroke="#777777" stroke-width="1.8" stroke-linejoin="round"/>
<g fill="none" stroke="#3c3c3c" stroke-width="2.0"><circle cx="193.0" cy="2875.3" r="3.7"/><circle cx="195.4" cy="2862.1" r="3.7"/><circle cx="197.8" cy="2864.7" r="3.7"/><circle cx="200.2" cy="2866.6" r="3.7"/><circle cx="202.6" cy="2858.9" r="3.7"/><circle cx="205.0" cy="2863.2" r="3.7"/><circle cx="207.4" cy="2862.6" r="3.7"/><circle cx="209.8" cy="2851.4" r="3.7"/><circle cx="212.2" cy="2867.3" r="3.7"/><circle cx="214.6" cy="2864.0" r="3.7"/><circle cx="217.0" cy="2855.7" r="3.7"/><circle cx="219.4" cy="2857.5" r="3.7"/><circle cx="221.8" cy="2860.4" r="3.7"/><circle cx="224.2" cy="2854.6" r="3.7"/><circle cx="226.6" cy="2853.4" r="3.7"/><circle cx="229.0" cy="2844.7" r="3.7"/><circle cx="231.4" cy="2815.2" r="3.7"/><circle cx="233.8" cy="2828.2" r="3.7"/><circle cx="236.2" cy="2843.2" r="3.7"/><circle cx="238.6" cy="2829.2" r="3.7"/><circle cx="241.0" cy="2852.6" r="3.7"/><circle cx="243.4" cy="2835.6" r="3.7"/><circle cx="245.8" cy="2833.1" r="3.7"/><circle cx="248.2" cy="2852.0" r="3.7"/><circle cx="250.6" cy="2818.6" r="3.7"/><circle cx="253.0" cy="2814.0" r="3.7"/><circle cx="255.4" cy="2802.8" r="3.7"/><circle cx="257.8" cy="2816.9" r="3.7"/><circle cx="260.2" cy="2823.6" r="3.7"/><circle cx="262.6" cy="2816.5" r="3.7"/><circle cx="265.0" cy="2822.8" r="3.7"/><circle cx="267.4" cy="2825.2" r="3.7"/><circle cx="269.8" cy="2792.8" r="3.7"/><circle cx="272.2" cy="2811.6" r="3.7"/><circle cx="274.6" cy="2768.0" r="3.7"/><circle cx="277.0" cy="2793.2" r="3.7"/><circle cx="279.4" cy="2783.0" r="3.7"/><circle cx="281.8" cy="2775.9" r="3.7"/><circle cx="284.2" cy="2806.4" r="3.7"/><circle cx="286.6" cy="2767.7" r="3.7"/><circle cx="289.0" cy="2786.2" r="3.7"/><circle cx="291.4" cy="2764.3" r="3.7"/><circle cx="293.8" cy="2780.7" r="3.7"/><circle cx="296.2" cy="2772.8" r="3.7"/><circle cx="298.6" cy="2740.0" r="3.7"/><circle cx="301.0" cy="2728.5" r="3.7"/><circle cx="303.4" cy="2753.8" r="3.7"/><circle cx="305.8" cy="2772.8" r="3.7"/><circle cx="308.2" cy="2744.6" r="3.7"/><circle cx="310.6" cy="2734.5" r="3.7"/><circle cx="313.0" cy="2758.8" r="3.7"/><circle cx="315.4" cy="2710.7" r="3.7"/><circle cx="317.8" cy="2730.9" r="3.7"/><circle cx="320.2" cy="2722.1" r="3.7"/><circle cx="322.6" cy="2736.7" r="3.7"/><circle cx="325.0" cy="2722.9" r="3.7"/><circle cx="327.4" cy="2710.9" r="3.7"/><circle cx="329.8" cy="2730.0" r="3.7"/><circle cx="332.2" cy="2713.5" r="3.7"/><circle cx="334.6" cy="2736.8" r="3.7"/><circle cx="337.0" cy="2719.8" r="3.7"/><circle cx="339.4" cy="2713.9" r="3.7"/><circle cx="341.8" cy="2721.3" r="3.7"/><circle cx="344.2" cy="2750.5" r="3.7"/><circle cx="346.6" cy="2727.4" r="3.7"/><circle cx="349.0" cy="2732.2" r="3.7"/><circle cx="351.4" cy="2730.8" r="3.7"/><circle cx="353.8" cy="2718.5" r="3.7"/><circle cx="356.2" cy="2739.2" r="3.7"/><circle cx="358.6" cy="2732.6" r="3.7"/><circle cx="361.0" cy="2749.4" r="3.7"/><circle cx="363.4" cy="2732.0" r="3.7"/><circle cx="365.8" cy="2735.1" r="3.7"/><circle cx="368.2" cy="2757.5" r="3.7"/><circle cx="370.6" cy="2774.3" r="3.7"/><circle cx="373.0" cy="2731.8" r="3.7"/><circle cx="375.4" cy="2750.9" r="3.7"/><circle cx="377.8" cy="2744.1" r="3.7"/><circle cx="380.2" cy="2751.8" r="3.7"/><circle cx="382.6" cy="2739.0" r="3.7"/><circle cx="385.0" cy="2760.8" r="3.7"/><circle cx="387.4" cy="2720.1" r="3.7"/><circle cx="389.8" cy="2741.4" r="3.7"/><circle cx="392.2" cy="2729.1" r="3.7"/><circle cx="394.6" cy="2743.0" r="3.7"/><circle cx="397.0" cy="2733.7" r="3.7"/><circle cx="399.4" cy="2736.0" r="3.7"/><circle cx="401.8" cy="2759.8" r="3.7"/><circle cx="404.2" cy="2774.2" r="3.7"/><circle cx="406.6" cy="2716.6" r="3.7"/><circle cx="409.0" cy="2743.0" r="3.7"/><circle cx="411.4" cy="2750.1" r="3.7"/><circle cx="413.8" cy="2742.1" r="3.7"/><circle cx="416.2" cy="2737.3" r="3.7"/><circle cx="418.6" cy="2722.1" r="3.7"/><circle cx="421.0" cy="2729.9" r="3.7"/><circle cx="423.4" cy="2761.7" r="3.7"/><circle cx="425.8" cy="2756.7" r="3.7"/><circle cx="428.2" cy="2738.2" r="3.7"/><circle cx="430.6" cy="2726.7" r="3.7"/><circle cx="433.0" cy="2734.0" r="3.7"/><circle cx="435.4" cy="2737.1" r="3.7"/><circle cx="437.8" cy="2745.1" r="3.7"/><circle cx="440.2" cy="2728.5" r="3.7"/><circle cx="442.6" cy="2730.9" r="3.7"/><circle cx="445.0" cy="2732.1" r="3.7"/><circle cx="447.4" cy="2727.4" r="3.7"/><circle cx="449.8" cy="2739.8" r="3.7"/><circle cx="452.2" cy="2750.8" r="3.7"/><circle cx="454.6" cy="2708.9" r="3.7"/><circle cx="457.0" cy="2724.2" r="3.7"/><circle cx="459.4" cy="2708.2" r="3.7"/><circle cx="461.8" cy="2730.9" r="3.7"/><circle cx="464.2" cy="2721.0" r="3.7"/><circle cx="466.6" cy="2691.8" r="3.7"/><circle cx="469.0" cy="2707.2" r="3.7"/><circle cx="471.4" cy="2683.2" r="3.7"/><circle cx="473.8" cy="2670.1" r="3.7"/><circle cx="476.2" cy="2660.7" r="3.7"/><circle cx="478.6" cy="2670.1" r="3.7"/><circle cx="481.0" cy="2654.5" r="3.7"/><circle cx="483.4" cy="2640.6" r="3.7"/><circle cx="485.8" cy="2637.8" r="3.7"/><circle cx="488.2" cy="2622.3" r="3.7"/><circle cx="490.6" cy="2608.0" r="3.7"/><circle cx="493.0" cy="2599.7" r="3.7"/><circle cx="495.4" cy="2584.4" r="3.7"/><circle cx="497.8" cy="2569.7" r="3.7"/><circle cx="500.2" cy="2559.1" r="3.7"/><circle cx="502.6" cy="2540.7" r="3.7"/><circle cx="505.0" cy="2521.0" r="3.7"/><circle cx="507.4" cy="2508.3" r="3.7"/><circle cx="509.8" cy="2493.4" r="3.7"/><circle cx="512.2" cy="2484.2" r="3.7"/><circle cx="514.6" cy="2463.5" r="3.7"/><circle cx="517.0" cy="2446.5" r="3.7"/><circle cx="519.4" cy="2446.5" r="3.7"/><circle cx="521.8" cy="2427.2" r="3.7"/><circle cx="524.2" cy="2413.9" r="3.7"/><circle cx="526.6" cy="2419.4" r="3.7"/><circle cx="529.0" cy="2405.9" r="3.7"/><circle cx="531.4" cy="2407.6" r="3.7"/><circle cx="533.8" cy="2397.3" r="3.7"/><circle cx="536.2" cy="2391.2" r="3.7"/><circle cx="538.6" cy="2389.5" r="3.7"/><circle cx="541.0" cy="2394.5" r="3.7"/><circle cx="543.4" cy="2398.3" r="3.7"/><circle cx="545.8" cy="2399.0" r="3.7"/><circle cx="548.2" cy="2407.7" r="3.7"/><circle cx="550.6" cy="2407.3" r="3.7"/><circle cx="553.0" cy="2425.1" r="3.7"/><circle cx="555.4" cy="2424.2" r="3.7"/><circle cx="557.8" cy="2445.0" r="3.7"/><circle cx="560.2" cy="2462.8" r="3.7"/><circle cx="562.6" cy="2478.5" r="3.7"/><circle cx="565.0" cy="2496.3" r="3.7"/><circle cx="567.4" cy="2491.6" r="3.7"/><circle cx="569.8" cy="2521.1" r="3.7"/><circle cx="572.2" cy="2540.0" r="3.7"/><circle cx="574.6" cy="2555.3" r="3.7"/><circle cx="577.0" cy="2560.7" r="3.7"/><circle cx="579.4" cy="2586.0" r="3.7"/><circle cx="581.8" cy="2611.9" r="3.7"/><circle cx="584.2" cy="2609.0" r="3.7"/><circle cx="586.6" cy="2638.0" r="3.7"/><circle cx="589.0" cy="2658.8" r="3.7"/><circle cx="591.4" cy="2664.6" r="3.7"/><circle cx="593.8" cy="2688.6" r="3.7"/><circle cx="596.2" cy="2694.5" r="3.7"/><circle cx="598.6" cy="2711.2" r="3.7"/><circle cx="601.0" cy="2725.7" r="3.7"/><circle cx="603.4" cy="2745.7" r="3.7"/><circle cx="605.8" cy="2757.3" r="3.7"/><circle cx="608.2" cy="2776.2" r="3.7"/><circle cx="610.6" cy="2776.9" r="3.7"/><circle cx="613.0" cy="2793.1" r="3.7"/><circle cx="615.4" cy="2810.2" r="3.7"/><circle cx="617.8" cy="2817.8" r="3.7"/><circle cx="620.2" cy="2815.8" r="3.7"/><circle cx="622.6" cy="2836.4" r="3.7"/><circle cx="625.0" cy="2837.5" r="3.7"/><circle cx="627.4" cy="2850.0" r="3.7"/><circle cx="629.8" cy="2856.3" r="3.7"/><circle cx="632.2" cy="2860.9" r="3.7"/><circle cx="634.6" cy="2865.6" r="3.7"/><circle cx="637.0" cy="2865.5" r="3.7"/><circle cx="639.4" cy="2869.6" r="3.7"/><circle cx="641.8" cy="2876.4" r="3.7"/><circle cx="644.2" cy="2871.5" r="3.7"/><circle cx="646.6" cy="2883.4" r="3.7"/><circle cx="649.0" cy="2878.9" r="3.7"/><circle cx="651.4" cy="2880.9" r="3.7"/><circle cx="653.8" cy="2895.8" r="3.7"/><circle cx="656.2" cy="2884.1" r="3.7"/><circle cx="658.6" cy="2877.2" r="3.7"/><circle cx="661.0" cy="2901.5" r="3.7"/><circle cx="663.4" cy="2875.0" r="3.7"/><circle cx="665.8" cy="2884.8" r="3.7"/><circle cx="668.2" cy="2898.6" r="3.7"/><circle cx="670.6" cy="2885.8" r="3.7"/><circle cx="673.0" cy="2857.9" r="3.7"/><circle cx="675.4" cy="2867.3" r="3.7"/><circle cx="677.8" cy="2846.0" r="3.7"/><circle cx="680.2" cy="2840.0" r="3.7"/><circle cx="682.6" cy="2840.9" r="3.7"/><circle cx="685.0" cy="2831.8" r="3.7"/><circle cx="687.4" cy="2812.3" r="3.7"/><circle cx="689.8" cy="2796.3" r="3.7"/><circle cx="692.2" cy="2767.4" r="3.7"/><circle cx="694.6" cy="2743.0" r="3.7"/><circle cx="697.0" cy="2709.7" r="3.7"/><circle cx="699.4" cy="2683.5" r="3.7"/><circle cx="701.8" cy="2666.7" r="3.7"/><circle cx="704.2" cy="2631.6" r="3.7"/><circle cx="706.6" cy="2606.7" r="3.7"/><circle cx="709.0" cy="2571.1" r="3.7"/><circle cx="711.4" cy="2543.0" r="3.7"/><circle cx="713.8" cy="2520.6" r="3.7"/><circle cx="716.2" cy="2495.9" r="3.7"/><circle cx="718.6" cy="2480.9" r="3.7"/><circle cx="721.0" cy="2462.9" r="3.7"/><circle cx="723.4" cy="2462.0" r="3.7"/><circle cx="725.8" cy="2445.3" r="3.7"/><circle cx="728.2" cy="2446.0" r="3.7"/><circle cx="730.6" cy="2447.6" r="3.7"/><circle cx="733.0" cy="2465.7" r="3.7"/><circle cx="735.4" cy="2486.6" r="3.7"/><circle cx="737.8" cy="2499.2" r="3.7"/><circle cx="740.2" cy="2528.2" r="3.7"/><circle cx="742.6" cy="2560.3" r="3.7"/><circle cx="745.0" cy="2584.8" r="3.7"/><circle cx="747.4" cy="2613.1" r="3.7"/><circle cx="749.8" cy="2652.6" r="3.7"/><circle cx="752.2" cy="2677.6" r="3.7"/><circle cx="754.6" cy="2708.6" r="3.7"/><circle cx="757.0" cy="2741.2" r="3.7"/><circle cx="759.4" cy="2767.1" r="3.7"/><circle cx="761.8" cy="2782.2" r="3.7"/><circle cx="764.2" cy="2802.9" r="3.7"/><circle cx="766.6" cy="2827.2" r="3.7"/><circle cx="769.0" cy="2841.9" r="3.7"/><circle cx="771.4" cy="2846.0" r="3.7"/><circle cx="773.8" cy="2877.7" r="3.7"/><circle cx="776.2" cy="2880.7" r="3.7"/><circle cx="778.6" cy="2893.7" r="3.7"/><circle cx="781.0" cy="2889.4" r="3.7"/><circle cx="783.4" cy="2909.7" r="3.7"/><circle cx="785.8" cy="2902.8" r="3.7"/><circle cx="788.2" cy="2908.9" r="3.7"/><circle cx="790.6" cy="2903.4" r="3.7"/><circle cx="793.0" cy="2912.4" r="3.7"/><circle cx="795.4" cy="2912.9" r="3.7"/><circle cx="797.8" cy="2913.5" r="3.7"/><circle cx="800.2" cy="2917.2" r="3.7"/><circle cx="802.6" cy="2914.5" r="3.7"/><circle cx="805.0" cy="2919.2" r="3.7"/><circle cx="807.4" cy="2909.5" r="3.7"/><circle cx="809.8" cy="2905.1" r="3.7"/><circle cx="812.2" cy="2909.5" r="3.7"/><circle cx="814.6" cy="2911.8" r="3.7"/><circle cx="817.0" cy="2913.8" r="3.7"/><circle cx="819.4" cy="2909.3" r="3.7"/><circle cx="821.8" cy="2891.9" r="3.7"/><circle cx="824.2" cy="2902.7" r="3.7"/><circle cx="826.6" cy="2907.0" r="3.7"/><circle cx="829.0" cy="2896.4" r="3.7"/><circle cx="831.4" cy="2890.7" r="3.7"/><circle cx="833.8" cy="2893.3" r="3.7"/><circle cx="836.2" cy="2886.1" r="3.7"/><circle cx="838.6" cy="2890.5" r="3.7"/><circle cx="841.0" cy="2884.8" r="3.7"/><circle cx="843.4" cy="2886.7" r="3.7"/><circle cx="845.8" cy="2881.4" r="3.7"/><circle cx="848.2" cy="2871.3" r="3.7"/><circle cx="850.6" cy="2872.3" r="3.7"/><circle cx="853.0" cy="2877.3" r="3.7"/><circle cx="855.4" cy="2863.9" r="3.7"/><circle cx="857.8" cy="2856.7" r="3.7"/><circle cx="860.2" cy="2850.9" r="3.7"/><circle cx="862.6" cy="2868.5" r="3.7"/><circle cx="865.0" cy="2856.2" r="3.7"/><circle cx="867.4" cy="2838.1" r="3.7"/><circle cx="869.8" cy="2853.0" r="3.7"/><circle cx="872.2" cy="2860.5" r="3.7"/><circle cx="874.6" cy="2865.1" r="3.7"/><circle cx="877.0" cy="2857.4" r="3.7"/><circle cx="879.4" cy="2852.2" r="3.7"/><circle cx="881.8" cy="2849.1" r="3.7"/><circle cx="884.2" cy="2842.0" r="3.7"/><circle cx="886.6" cy="2870.8" r="3.7"/><circle cx="889.0" cy="2855.0" r="3.7"/><circle cx="891.4" cy="2858.1" r="3.7"/><circle cx="893.8" cy="2855.3" r="3.7"/><circle cx="896.2" cy="2844.5" r="3.7"/><circle cx="898.6" cy="2851.8" r="3.7"/><circle cx="901.0" cy="2867.8" r="3.7"/><circle cx="903.4" cy="2873.2" r="3.7"/><circle cx="905.8" cy="2862.4" r="3.7"/><circle cx="908.2" cy="2863.3" r="3.7"/><circle cx="910.6" cy="2866.4" r="3.7"/><circle cx="913.0" cy="2863.6" r="3.7"/><circle cx="915.4" cy="2875.5" r="3.7"/><circle cx="917.8" cy="2870.5" r="3.7"/><circle cx="920.2" cy="2878.7" r="3.7"/><circle cx="922.6" cy="2886.0" r="3.7"/><circle cx="925.0" cy="2870.9" r="3.7"/><circle cx="927.4" cy="2893.2" r="3.7"/><circle cx="929.8" cy="2892.9" r="3.7"/><circle cx="932.2" cy="2883.7" r="3.7"/><circle cx="934.6" cy="2875.7" r="3.7"/><circle cx="937.0" cy="2887.5" r="3.7"/><circle cx="939.4" cy="2881.4" r="3.7"/><circle cx="941.8" cy="2904.2" r="3.7"/><circle cx="944.2" cy="2902.0" r="3.7"/><circle cx="946.6" cy="2898.9" r="3.7"/><circle cx="949.0" cy="2908.8" r="3.7"/><circle cx="951.4" cy="2927.8" r="3.7"/><circle cx="953.8" cy="2908.3" r="3.7"/><circle cx="956.2" cy="2909.0" r="3.7"/><circle cx="958.6" cy="2927.7" r="3.7"/><circle cx="961.0" cy="2919.1" r="3.7"/><circle cx="963.4" cy="2927.8" r="3.7"/><circle cx="965.8" cy="2907.5" r="3.7"/><circle cx="968.2" cy="2913.6" r="3.7"/><circle cx="970.6" cy="2932.6" r="3.7"/><circle cx="973.0" cy="2927.8" r="3.7"/><circle cx="975.4" cy="2936.0" r="3.7"/><circle cx="977.8" cy="2952.5" r="3.7"/><circle cx="980.2" cy="2931.3" r="3.7"/><circle cx="982.6" cy="2929.0" r="3.7"/><circle cx="985.0" cy="2935.0" r="3.7"/><circle cx="987.4" cy="2948.8" r="3.7"/><circle cx="989.8" cy="2941.6" r="3.7"/><circle cx="992.2" cy="2934.8" r="3.7"/><circle cx="994.6" cy="2937.2" r="3.7"/><circle cx="997.0" cy="2930.6" r="3.7"/><circle cx="999.4" cy="2933.4" r="3.7"/><circle cx="1001.8" cy="2929.0" r="3.7"/><circle cx="1004.2" cy="2947.7" r="3.7"/><circle cx="1006.6" cy="2950.1" r="3.7"/><circle cx="1009.0" cy="2951.8" r="3.7"/><circle cx="1011.4" cy="2942.4" r="3.7"/><circle cx="1013.8" cy="2948.5" r="3.7"/><circle cx="1016.2" cy="2946.3" r="3.7"/><circle cx="1018.6" cy="2941.6" r="3.7"/><circle cx="1021.0" cy="2949.8" r="3.7"/><circle cx="1023.4" cy="2955.8" r="3.7"/><circle cx="1025.8" cy="2956.0" r="3.7"/><circle cx="1028.2" cy="2958.6" r="3.7"/><circle cx="1030.6" cy="2945.1" r="3.7"/><circle cx="1033.0" cy="2968.2" r="3.7"/><circle cx="1035.4" cy="2961.3" r="3.7"/><circle cx="1037.8" cy="2957.8" r="3.7"/><circle cx="1040.2" cy="2943.2" r="3.7"/><circle cx="1042.6" cy="2957.6" r="3.7"/><circle cx="1045.0" cy="2963.4" r="3.7"/><circle cx="1047.4" cy="2947.1" r="3.7"/><circle cx="1049.8" cy="2960.7" r="3.7"/><circle cx="1052.2" cy="2953.9" r="3.7"/><circle cx="1054.6" cy="2947.7" r="3.7"/><circle cx="1057.0" cy="2968.7" r="3.7"/><circle cx="1059.4" cy="2956.2" r="3.7"/><circle cx="1061.8" cy="2947.6" r="3.7"/><circle cx="1064.2" cy="2950.7" r="3.7"/><circle cx="1066.6" cy="2950.9" r="3.7"/><circle cx="1069.0" cy="2951.2" r="3.7"/><circle cx="1071.4" cy="2959.6" r="3.7"/><circle cx="1073.8" cy="2956.0" r="3.7"/><circle cx="548.1" cy="2360.7" r="3.7"/><circle cx="726.5" cy="2420.4" r="3.7"/><circle cx="383.0" cy="2655.0" r="3.7"/><circle cx="430.0" cy="2668.0" r="3.7"/></g>
<polyline points="191.0,2865.3 192.0,2865.2 193.0,2865.1 194.0,2865.0 195.0,2864.9 196.0,2864.8 197.0,2864.6 198.0,2864.5 199.0,2864.3 200.0,2864.2 201.0,2864.0 202.0,2863.8 203.0,2863.6 204.0,2863.4 205.0,2863.2 206.0,2862.9 207.0,2862.7 208.0,2862.4 209.0,2862.2 210.0,2861.9 211.0,2861.6 212.0,2861.3 213.0,2860.9 214.0,2860.6 215.0,2860.2 216.0,2859.9 217.0,2859.5 218.0,2859.1 219.0,2858.7 220.0,2858.2 221.0,2857.8 222.0,2857.3 223.0,2856.8 224.0,2856.3 225.0,2855.8 226.0,2855.2 227.0,2854.6 228.0,2854.0 229.0,2853.4 230.0,2852.8 231.0,2852.1 232.0,2851.4 233.0,2850.7 234.0,2850.0 235.0,2849.2 236.0,2848.4 237.0,2847.7 238.0,2846.8 239.0,2846.0 240.0,2845.1 241.0,2844.2 242.0,2843.3 243.0,2842.4 244.0,2841.5 245.0,2840.5 246.0,2839.5 247.0,2838.5 248.0,2837.4 249.0,2836.3 250.0,2835.2 251.0,2834.1 252.0,2833.0 253.0,2831.8 254.0,2830.6 255.0,2829.4 256.0,2828.2 257.0,2827.0 258.0,2825.7 259.0,2824.4 260.0,2823.1 261.0,2821.8 262.0,2820.4 263.0,2819.1 264.0,2817.7 265.0,2816.3 266.0,2814.9 267.0,2813.4 268.0,2812.0 269.0,2810.5 270.0,2809.0 271.0,2807.5 272.0,2806.0 273.0,2804.5 274.0,2803.0 275.0,2801.5 276.0,2799.9 277.0,2798.4 278.0,2796.8 279.0,2795.3 280.0,2793.7 281.0,2792.1 282.0,2790.6 283.0,2789.0 284.0,2787.4 285.0,2785.9 286.0,2784.3 287.0,2782.8 288.0,2781.2 289.0,2779.7 290.0,2778.1 291.0,2776.6 292.0,2775.1 293.0,2773.6 294.0,2772.1 295.0,2770.6 296.0,2769.1 297.0,2767.7 298.0,2766.3 299.0,2764.9 300.0,2763.5 301.0,2762.1 302.0,2760.8 303.0,2759.5 304.0,2758.2 305.0,2756.9 306.0,2755.7 307.0,2754.5 308.0,2753.3 309.0,2752.2 310.0,2751.1 311.0,2750.0 312.0,2749.0 313.0,2747.9 314.0,2747.0 315.0,2746.0 316.0,2745.2 317.0,2744.3 318.0,2743.5 319.0,2742.7 320.0,2742.0 321.0,2741.3 322.0,2740.6 323.0,2740.0 324.0,2739.4 325.0,2738.9 326.0,2738.4 327.0,2737.9 328.0,2737.5 329.0,2737.1 330.0,2736.8 331.0,2736.5 332.0,2736.2 333.0,2736.0 334.0,2735.8 335.0,2735.7 336.0,2735.6 337.0,2735.5 338.0,2735.5 339.0,2735.5 340.0,2735.5 341.0,2735.7 342.0,2735.8 343.0,2736.0 344.0,2736.2 345.0,2736.5 346.0,2736.8 347.0,2737.1 348.0,2737.4 349.0,2737.7 350.0,2738.1 351.0,2738.5 352.0,2738.9 353.0,2739.3 354.0,2739.7 355.0,2740.2 356.0,2740.6 357.0,2741.1 358.0,2741.5 359.0,2742.0 360.0,2742.5 361.0,2742.9 362.0,2743.4 363.0,2743.9 364.0,2744.4 365.0,2744.8 366.0,2745.3 367.0,2745.7 368.0,2746.2 369.0,2746.6 370.0,2747.0 371.0,2747.4 372.0,2747.8 373.0,2748.2 374.0,2748.6 375.0,2748.9 376.0,2749.2 377.0,2749.5 378.0,2749.8 379.0,2750.1 380.0,2750.3 381.0,2750.5 382.0,2750.7 383.0,2750.9 384.0,2751.1 385.0,2751.2 386.0,2751.3 387.0,2751.4 388.0,2751.5 389.0,2751.5 390.0,2751.5 391.0,2751.5 392.0,2751.5 393.0,2751.5 394.0,2751.4 395.0,2751.4 396.0,2751.3 397.0,2751.2 398.0,2751.1 399.0,2750.9 400.0,2750.8 401.0,2750.6 402.0,2750.5 403.0,2750.3 404.0,2750.1 405.0,2749.9 406.0,2749.7 407.0,2749.5 408.0,2749.3 409.0,2749.1 410.0,2748.9 411.0,2748.7 412.0,2748.5 413.0,2748.2 414.0,2748.0 415.0,2747.8 416.0,2747.6 417.0,2747.4 418.0,2747.2 419.0,2747.0 420.0,2746.8 421.0,2746.6 422.0,2746.4 423.0,2746.2 424.0,2746.0 425.0,2745.8 426.0,2745.6 427.0,2745.4 428.0,2745.2 429.0,2745.0 430.0,2744.8 431.0,2744.6 432.0,2744.4 433.0,2744.1 434.0,2743.9 435.0,2743.6 436.0,2743.4 437.0,2743.0 438.0,2742.7 439.0,2742.4 440.0,2742.0 441.0,2741.6 442.0,2741.1 443.0,2740.6 444.0,2740.1 445.0,2739.5 446.0,2738.8 447.0,2738.1 448.0,2737.4 449.0,2736.6 450.0,2735.7 451.0,2734.7 452.0,2733.7 453.0,2732.6 454.0,2731.4 455.0,2730.1 456.0,2728.7 457.0,2727.3 458.0,2725.7 459.0,2724.1 460.0,2722.3 461.0,2720.4 462.0,2718.4 463.0,2716.3 464.0,2714.1 465.0,2711.8 466.0,2709.3 467.0,2706.7 468.0,2704.0 469.0,2701.2 470.0,2698.2 471.0,2695.1 472.0,2691.9 473.0,2688.5 474.0,2685.0 475.0,2681.4 476.0,2677.6 477.0,2673.7 478.0,2669.7 479.0,2665.5 480.0,2661.3 481.0,2656.8 482.0,2652.3 483.0,2647.6 484.0,2642.8 485.0,2637.9 486.0,2632.9 487.0,2627.8 488.0,2622.6 489.0,2617.2 490.0,2611.8 491.0,2606.3 492.0,2600.7 493.0,2595.0 494.0,2589.4 495.0,2583.7 496.0,2578.0 497.0,2572.2 498.0,2566.3 499.0,2560.4 500.0,2554.5 501.0,2548.5 502.0,2542.6 503.0,2536.6 504.0,2530.7 505.0,2524.7 506.0,2518.8 507.0,2512.9 508.0,2507.0 509.0,2501.2 510.0,2495.4 511.0,2489.7 512.0,2484.1 513.0,2478.6 514.0,2473.1 515.0,2467.8 516.0,2462.6 517.0,2457.5 518.0,2452.6 519.0,2447.8 520.0,2443.1 521.0,2438.7 522.0,2434.4 523.0,2430.3 524.0,2426.3 525.0,2422.6 526.0,2419.1 527.0,2415.8 528.0,2412.9 529.0,2410.1 530.0,2407.6 531.0,2405.4 532.0,2403.4 533.0,2401.7 534.0,2400.2 535.0,2399.0 536.0,2398.1 537.0,2397.4 538.0,2397.1 539.0,2397.0 540.0,2397.2 541.0,2397.6 542.0,2398.4 543.0,2399.4 544.0,2400.8 545.0,2402.4 546.0,2404.3 547.0,2406.4 548.0,2408.9 549.0,2411.6 550.0,2414.6 551.0,2417.8 552.0,2421.3 553.0,2425.0 554.0,2429.0 555.0,2433.2 556.0,2437.6 557.0,2442.3 558.0,2447.1 559.0,2452.2 560.0,2457.5 561.0,2462.9 562.0,2468.6 563.0,2474.2 564.0,2480.1 565.0,2486.0 566.0,2492.1 567.0,2498.4 568.0,2504.8 569.0,2511.3 570.0,2517.9 571.0,2524.6 572.0,2531.4 573.0,2538.2 574.0,2545.2 575.0,2552.2 576.0,2559.2 577.0,2566.3 578.0,2573.5 579.0,2580.6 580.0,2587.8 581.0,2595.0 582.0,2602.2 583.0,2609.4 584.0,2616.6 585.0,2623.8 586.0,2630.9 587.0,2638.0 588.0,2645.1 589.0,2652.1 590.0,2659.1 591.0,2666.0 592.0,2672.9 593.0,2679.7 594.0,2686.4 595.0,2693.1 596.0,2699.7 597.0,2706.1 598.0,2712.4 599.0,2718.6 600.0,2724.6 601.0,2730.6 602.0,2736.5 603.0,2742.3 604.0,2747.9 605.0,2753.5 606.0,2758.9 607.0,2764.3 608.0,2769.5 609.0,2774.6 610.0,2779.6 611.0,2784.5 612.0,2789.2 613.0,2793.8 614.0,2798.4 615.0,2802.8 616.0,2807.0 617.0,2811.2 618.0,2815.3 619.0,2819.2 620.0,2823.0 621.0,2826.7 622.0,2830.3 623.0,2833.8 624.0,2837.1 625.0,2840.4 626.0,2843.5 627.0,2846.6 628.0,2849.5 629.0,2852.3 630.0,2855.0 631.0,2857.6 632.0,2860.2 633.0,2862.6 634.0,2864.9 635.0,2867.1 636.0,2869.3 637.0,2871.3 638.0,2873.3 639.0,2875.1 640.0,2876.9 641.0,2878.6 642.0,2880.2 643.0,2881.7 644.0,2883.2 645.0,2884.5 646.0,2885.8 647.0,2887.0 648.0,2888.1 649.0,2889.1 650.0,2890.0 651.0,2890.9 652.0,2891.7 653.0,2892.3 654.0,2892.9 655.0,2893.4 656.0,2893.8 657.0,2894.1 658.0,2894.3 659.0,2894.4 660.0,2894.3 661.0,2894.2 662.0,2893.9 663.0,2893.4 664.0,2892.9 665.0,2892.1 666.0,2891.2 667.0,2890.2 668.0,2888.9 669.0,2887.5 670.0,2885.8 671.0,2883.9 672.0,2881.8 673.0,2879.4 674.0,2876.8 675.0,2873.9 676.0,2870.7 677.0,2867.2 678.0,2863.4 679.0,2859.3 680.0,2854.9 681.0,2850.0 682.0,2844.8 683.0,2839.3 684.0,2833.4 685.0,2827.0 686.0,2820.3 687.0,2813.1 688.0,2805.6 689.0,2797.6 690.0,2789.3 691.0,2780.5 692.0,2771.3 693.0,2761.7 694.0,2751.8 695.0,2741.5 696.0,2730.8 697.0,2719.8 698.0,2708.5 699.0,2696.9 700.0,2685.0 701.0,2673.0 702.0,2660.7 703.0,2648.3 704.0,2635.9 705.0,2623.5 706.0,2611.2 707.0,2598.9 708.0,2586.6 709.0,2574.6 710.0,2562.7 711.0,2551.0 712.0,2539.7 713.0,2528.8 714.0,2518.3 715.0,2508.3 716.0,2498.8 717.0,2490.0 718.0,2481.8 719.0,2474.4 720.0,2467.7 721.0,2461.9 722.0,2456.9 723.0,2452.8 724.0,2449.7 725.0,2447.5 726.0,2446.4 727.0,2446.2 728.0,2447.0 729.0,2448.8 730.0,2451.5 731.0,2455.3 732.0,2460.0 733.0,2465.6 734.0,2472.0 735.0,2479.3 736.0,2487.3 737.0,2496.1 738.0,2505.6 739.0,2515.6 740.0,2526.2 741.0,2537.3 742.0,2548.9 743.0,2560.8 744.0,2573.0 745.0,2585.5 746.0,2598.2 747.0,2611.0 748.0,2623.9 749.0,2636.6 750.0,2649.3 751.0,2662.0 752.0,2674.5 753.0,2686.9 754.0,2699.1 755.0,2711.0 756.0,2722.7 757.0,2734.2 758.0,2745.3 759.0,2756.1 760.0,2766.5 761.0,2776.6 762.0,2786.2 763.0,2795.5 764.0,2804.4 765.0,2812.9 766.0,2820.9 767.0,2828.6 768.0,2835.8 769.0,2842.7 770.0,2849.1 771.0,2855.1 772.0,2860.8 773.0,2866.1 774.0,2871.0 775.0,2875.6 776.0,2879.8 777.0,2883.7 778.0,2887.3 779.0,2890.6 780.0,2893.6 781.0,2896.4 782.0,2898.9 783.0,2901.2 784.0,2903.2 785.0,2905.0 786.0,2906.6 787.0,2908.1 788.0,2909.3 789.0,2910.4 790.0,2911.4 791.0,2912.2 792.0,2912.9 793.0,2913.4 794.0,2913.9 795.0,2914.2 796.0,2914.4 797.0,2914.6 798.0,2914.7 799.0,2914.7 800.0,2914.6 801.0,2914.5 802.0,2914.3 803.0,2914.0 804.0,2913.7 805.0,2913.3 806.0,2912.9 807.0,2912.5 808.0,2912.0 809.0,2911.5 810.0,2911.0 811.0,2910.4 812.0,2909.8 813.0,2909.1 814.0,2908.5 815.0,2907.8 816.0,2907.1 817.0,2906.3 818.0,2905.6 819.0,2904.8 820.0,2904.0 821.0,2903.2 822.0,2902.3 823.0,2901.5 824.0,2900.6 825.0,2899.7 826.0,2898.8 827.0,2897.9 828.0,2897.0 829.0,2896.1 830.0,2895.1 831.0,2894.2 832.0,2893.2 833.0,2892.2 834.0,2891.3 835.0,2890.3 836.0,2889.3 837.0,2888.3 838.0,2887.3 839.0,2886.3 840.0,2885.3 841.0,2884.3 842.0,2883.3 843.0,2882.3 844.0,2881.3 845.0,2880.3 846.0,2879.3 847.0,2878.4 848.0,2877.4 849.0,2876.4 850.0,2875.5 851.0,2874.5 852.0,2873.6 853.0,2872.6 854.0,2871.7 855.0,2870.8 856.0,2869.9 857.0,2869.1 858.0,2868.2 859.0,2867.4 860.0,2866.6 861.0,2865.8 862.0,2865.0 863.0,2864.2 864.0,2863.5 865.0,2862.8 866.0,2862.1 867.0,2861.4 868.0,2860.8 869.0,2860.2 870.0,2859.6 871.0,2859.0 872.0,2858.5 873.0,2858.0 874.0,2857.5 875.0,2857.1 876.0,2856.7 877.0,2856.3 878.0,2856.0 879.0,2855.7 880.0,2855.4 881.0,2855.2 882.0,2855.0 883.0,2854.9 884.0,2854.7 885.0,2854.6 886.0,2854.6 887.0,2854.6 888.0,2854.6 889.0,2854.6 890.0,2854.7 891.0,2854.9 892.0,2855.0 893.0,2855.2 894.0,2855.5 895.0,2855.7 896.0,2856.0 897.0,2856.4 898.0,2856.8 899.0,2857.2 900.0,2857.6 901.0,2858.1 902.0,2858.6 903.0,2859.2 904.0,2859.7 905.0,2860.3 906.0,2861.0 907.0,2861.7 908.0,2862.4 909.0,2863.1 910.0,2863.9 911.0,2864.6 912.0,2865.5 913.0,2866.3 914.0,2867.2 915.0,2868.1 916.0,2869.0 917.0,2869.9 918.0,2870.9 919.0,2871.8 920.0,2872.8 921.0,2873.8 922.0,2874.9 923.0,2875.9 924.0,2877.0 925.0,2878.1 926.0,2879.2 927.0,2880.3 928.0,2881.4 929.0,2882.5 930.0,2883.6 931.0,2884.8 932.0,2885.9 933.0,2887.1 934.0,2888.2 935.0,2889.4 936.0,2890.6 937.0,2891.7 938.0,2892.9 939.0,2894.0 940.0,2895.2 941.0,2896.4 942.0,2897.5 943.0,2898.7 944.0,2899.8 945.0,2901.0 946.0,2902.1 947.0,2903.3 948.0,2904.4 949.0,2905.5 950.0,2906.6 951.0,2907.7 952.0,2908.8 953.0,2909.9 954.0,2911.0 955.0,2912.1 956.0,2913.1 957.0,2914.2 958.0,2915.2 959.0,2916.2 960.0,2917.2 961.0,2918.2 962.0,2919.2 963.0,2920.2 964.0,2921.1 965.0,2922.0 966.0,2923.0 967.0,2923.9 968.0,2924.7 969.0,2925.6 970.0,2926.5 971.0,2927.3 972.0,2928.1 973.0,2928.9 974.0,2929.7 975.0,2930.5 976.0,2931.2 977.0,2932.0 978.0,2932.7 979.0,2933.4 980.0,2934.1 981.0,2934.8 982.0,2935.4 983.0,2936.1 984.0,2936.7 985.0,2937.3 986.0,2937.9 987.0,2938.5 988.0,2939.0 989.0,2939.6 990.0,2940.1 991.0,2940.6 992.0,2941.1 993.0,2941.6 994.0,2942.1 995.0,2942.6 996.0,2943.0 997.0,2943.4 998.0,2943.9 999.0,2944.3 1000.0,2944.7 1001.0,2945.0 1002.0,2945.4 1003.0,2945.8 1004.0,2946.1 1005.0,2946.5 1006.0,2946.8 1007.0,2947.1 1008.0,2947.4 1009.0,2947.7 1010.0,2947.9 1011.0,2948.2 1012.0,2948.4 1013.0,2948.7 1014.0,2948.9 1015.0,2949.1 1016.0,2949.3 1017.0,2949.5 1018.0,2949.7 1019.0,2949.9 1020.0,2950.1 1021.0,2950.2 1022.0,2950.4 1023.0,2950.6 1024.0,2950.7 1025.0,2950.9 1026.0,2951.0 1027.0,2951.1 1028.0,2951.3 1029.0,2951.4 1030.0,2951.5 1031.0,2951.6 1032.0,2951.7 1033.0,2951.8 1034.0,2951.9 1035.0,2952.0 1036.0,2952.1 1037.0,2952.2 1038.0,2952.3 1039.0,2952.4 1040.0,2952.5 1041.0,2952.6 1042.0,2952.6 1043.0,2952.7 1044.0,2952.8 1045.0,2952.8 1046.0,2952.9 1047.0,2952.9 1048.0,2953.0 1049.0,2953.1 1050.0,2953.1 1051.0,2953.2 1052.0,2953.2 1053.0,2953.3 1054.0,2953.3 1055.0,2953.4 1056.0,2953.4 1057.0,2953.4 1058.0,2953.5 1059.0,2953.5 1060.0,2953.6 1061.0,2953.6 1062.0,2953.6 1063.0,2953.7 1064.0,2953.7 1065.0,2953.7 1066.0,2953.8 1067.0,2953.8 1068.0,2953.8 1069.0,2953.8 1070.0,2953.9 1071.0,2953.9 1072.0,2953.9 1073.0,2954.0 1074.0,2954.0 1075.0,2954.0" fill="none" stroke="#3a3a3a" stroke-width="2.4" stroke-linejoin="round"/>
<line x1="313.7" y1="2706.8" x2="308.7" y2="2672.1" stroke="#111" stroke-width="2"/>
<polygon points="306.7,2658.2 314.4,2673.3 303.5,2674.8" fill="#111"/>
<line x1="416.0" y1="2790.0" x2="337.0" y2="2669.9" stroke="#111" stroke-width="2"/>
<polygon points="329.3,2658.2 342.7,2668.5 333.5,2674.6" fill="#111"/>
<text transform="translate(426.88,2331.60) scale(0.9794,1)" font-family="'Liberation Sans', Arial, sans-serif" font-size="38.81" fill="#222" stroke="#222" stroke-width="0.7">Mo 3d 3/2</text>
<text transform="translate(689.66,2365.40) scale(1.0566,1)" font-family="'Liberation Sans', Arial, sans-serif" font-size="36.19" fill="#222" stroke="#222" stroke-width="0.7">Mo 3d 5/2</text>
<text transform="translate(226.90,2633.70) scale(0.9949,1)" font-family="'Liberation Sans', Arial, sans-serif" font-size="37.94" fill="#222" stroke="#222" stroke-width="0.7">Mo VI</text>
<text transform="translate(862.01,2798.90) scale(1.0321,1)" font-family="'Liberation Sans', Arial, sans-serif" font-size="36.09" fill="#222" stroke="#222" stroke-width="0.7">S 2s</text>
<rect x="1268" y="2253.5" width="896" height="717.5" fill="none" stroke="#7a7a7a" stroke-width="3"/>
<line x1="1268.0" y1="2971.0" x2="2164.0" y2="2971.0" stroke="#5c5c5c" stroke-width="3"/>
<line x1="1417.4" y1="2971.0" x2="1417.4" y2="2986.0" stroke="#444" stroke-width="2.5"/>
<line x1="1716.2" y1="2971.0" x2="1716.2" y2="2986.0" stroke="#444" stroke-width="2.5"/>
<line x1="2015.0" y1="2971.0" x2="2015.0" y2="2986.0" stroke="#444" stroke-width="2.5"/>
<line x1="1566.8" y1="2971.0" x2="1566.8" y2="2978.5" stroke="#444" stroke-width="2.5"/>
<line x1="1865.6" y1="2971.0" x2="1865.6" y2="2978.5" stroke="#444" stroke-width="2.5"/>
<line x1="2164.4" y1="2971.0" x2="2164.4" y2="2978.5" stroke="#444" stroke-width="2.5"/>
<text transform="translate(1379.65,3029.40) scale(0.9696,1)" font-family="'Liberation Sans', Arial, sans-serif" font-size="45.40" fill="#000" stroke="#000" stroke-width="0.7">164</text>
<text transform="translate(1678.91,3029.40) scale(0.9696,1)" font-family="'Liberation Sans', Arial, sans-serif" font-size="45.40" fill="#000" stroke="#000" stroke-width="0.7">162</text>
<text transform="translate(1977.46,3029.40) scale(0.9696,1)" font-family="'Liberation Sans', Arial, sans-serif" font-size="45.40" fill="#000" stroke="#000" stroke-width="0.7">160</text>
<text transform="translate(1442.93,3119.50) scale(0.9711,1)" font-family="'Liberation Sans', Arial, sans-serif" font-size="63.66" fill="#000" stroke="#000" stroke-width="0.7">Binding energy (eV)</text>
<text transform="translate(1206.00,2786.86) rotate(-90) scale(0.9394,1)" font-family="'Liberation Sans', Arial, sans-serif" font-size="65.26" fill="#000" stroke="#000" stroke-width="0.7">Intensity (a.u.)</text>
<polyline points="1270.0,2920.0 1271.0,2920.0 1272.0,2920.0 1273.0,2920.1 1274.0,2920.1 1275.0,2920.1 1276.0,2920.1 1277.0,2920.1 1278.0,2920.1 1279.0,2920.1 1280.0,2920.1 1281.0,2920.2 1282.0,2920.2 1283.0,2920.2 1284.0,2920.2 1285.0,2920.2 1286.0,2920.2 1287.0,2920.2 1288.0,2920.2 1289.0,2920.3 1290.0,2920.3 1291.0,2920.3 1292.0,2920.3 1293.0,2920.3 1294.0,2920.3 1295.0,2920.3 1296.0,2920.3 1297.0,2920.3 1298.0,2920.4 1299.0,2920.4 1300.0,2920.4 1301.0,2920.4 1302.0,2920.4 1303.0,2920.4 1304.0,2920.4 1305.0,2920.4 1306.0,2920.5 1307.0,2920.5 1308.0,2920.5 1309.0,2920.5 1310.0,2920.5 1311.0,2920.5 1312.0,2920.5 1313.0,2920.5 1314.0,2920.6 1315.0,2920.6 1316.0,2920.6 1317.0,2920.6 1318.0,2920.6 1319.0,2920.6 1320.0,2920.6 1321.0,2920.6 1322.0,2920.7 1323.0,2920.7 1324.0,2920.7 1325.0,2920.7 1326.0,2920.7 1327.0,2920.7 1328.0,2920.7 1329.0,2920.7 1330.0,2920.7 1331.0,2920.8 1332.0,2920.8 1333.0,2920.8 1334.0,2920.8 1335.0,2920.8 1336.0,2920.8 1337.0,2920.8 1338.0,2920.8 1339.0,2920.9 1340.0,2920.9 1341.0,2920.9 1342.0,2920.9 1343.0,2920.9 1344.0,2920.9 1345.0,2920.9 1346.0,2920.9 1347.0,2921.0 1348.0,2921.0 1349.0,2921.0 1350.0,2921.0 1351.0,2921.0 1352.0,2921.0 1353.0,2921.0 1354.0,2921.0 1355.0,2921.0 1356.0,2921.1 1357.0,2921.1 1358.0,2921.1 1359.0,2921.1 1360.0,2921.1 1361.0,2921.1 1362.0,2921.1 1363.0,2921.1 1364.0,2921.2 1365.0,2921.2 1366.0,2921.2 1367.0,2921.2 1368.0,2921.2 1369.0,2921.2 1370.0,2921.2 1371.0,2921.2 1372.0,2921.3 1373.0,2921.3 1374.0,2921.3 1375.0,2921.3 1376.0,2921.3 1377.0,2921.3 1378.0,2921.3 1379.0,2921.3 1380.0,2921.3 1381.0,2921.4 1382.0,2921.4 1383.0,2921.4 1384.0,2921.4 1385.0,2921.4 1386.0,2921.4 1387.0,2921.4 1388.0,2921.4 1389.0,2921.5 1390.0,2921.5 1391.0,2921.5 1392.0,2921.5 1393.0,2921.5 1394.0,2921.5 1395.0,2921.5 1396.0,2921.5 1397.0,2921.6 1398.0,2921.6 1399.0,2921.6 1400.0,2921.6 1401.0,2921.6 1402.0,2921.6 1403.0,2921.6 1404.0,2921.6 1405.0,2921.7 1406.0,2921.7 1407.0,2921.7 1408.0,2921.7 1409.0,2921.7 1410.0,2921.7 1411.0,2921.7 1412.0,2921.7 1413.0,2921.7 1414.0,2921.8 1415.0,2921.8 1416.0,2921.8 1417.0,2921.8 1418.0,2921.8 1419.0,2921.8 1420.0,2921.8 1421.0,2921.8 1422.0,2921.9 1423.0,2921.9 1424.0,2921.9 1425.0,2921.9 1426.0,2921.9 1427.0,2921.9 1428.0,2921.9 1429.0,2921.9 1430.0,2922.0 1431.0,2922.0 1432.0,2922.0 1433.0,2922.0 1434.0,2922.0 1435.0,2922.0 1436.0,2922.0 1437.0,2922.0 1438.0,2922.0 1439.0,2922.1 1440.0,2922.1 1441.0,2922.1 1442.0,2922.1 1443.0,2922.1 1444.0,2922.1 1445.0,2922.1 1446.0,2922.1 1447.0,2922.2 1448.0,2922.2 1449.0,2922.2 1450.0,2922.2 1451.0,2922.2 1452.0,2922.2 1453.0,2922.2 1454.0,2922.2 1455.0,2922.3 1456.0,2922.3 1457.0,2922.3 1458.0,2922.3 1459.0,2922.3 1460.0,2922.3 1461.0,2922.3 1462.0,2922.3 1463.0,2922.3 1464.0,2922.4 1465.0,2922.4 1466.0,2922.4 1467.0,2922.4 1468.0,2922.4 1469.0,2922.4 1470.0,2922.4 1471.0,2922.4 1472.0,2922.5 1473.0,2922.5 1474.0,2922.5 1475.0,2922.5 1476.0,2922.5 1477.0,2922.5 1478.0,2922.5 1479.0,2922.5 1480.0,2922.6 1481.0,2922.6 1482.0,2922.6 1483.0,2922.6 1484.0,2922.6 1485.0,2922.6 1486.0,2922.6 1487.0,2922.6 1488.0,2922.7 1489.0,2922.7 1490.0,2922.7 1491.0,2922.7 1492.0,2922.7 1493.0,2922.7 1494.0,2922.7 1495.0,2922.7 1496.0,2922.7 1497.0,2922.8 1498.0,2922.8 1499.0,2922.8 1500.0,2922.8 1501.0,2922.8 1502.0,2922.8 1503.0,2922.8 1504.0,2922.8 1505.0,2922.9 1506.0,2922.9 1507.0,2922.9 1508.0,2922.9 1509.0,2922.9 1510.0,2922.9 1511.0,2922.9 1512.0,2922.9 1513.0,2923.0 1514.0,2923.0 1515.0,2923.0 1516.0,2923.0 1517.0,2923.0 1518.0,2923.0 1519.0,2923.0 1520.0,2923.0 1521.0,2923.0 1522.0,2923.1 1523.0,2923.1 1524.0,2923.1 1525.0,2923.1 1526.0,2923.1 1527.0,2923.1 1528.0,2923.1 1529.0,2923.1 1530.0,2923.2 1531.0,2923.2 1532.0,2923.2 1533.0,2923.2 1534.0,2923.2 1535.0,2923.2 1536.0,2923.2 1537.0,2923.2 1538.0,2923.3 1539.0,2923.3 1540.0,2923.3 1541.0,2923.3 1542.0,2923.3 1543.0,2923.3 1544.0,2923.3 1545.0,2923.3 1546.0,2923.3 1547.0,2923.4 1548.0,2923.4 1549.0,2923.4 1550.0,2923.4 1551.0,2923.4 1552.0,2923.4 1553.0,2923.4 1554.0,2923.4 1555.0,2923.5 1556.0,2923.5 1557.0,2923.5 1558.0,2923.5 1559.0,2923.5 1560.0,2923.5 1561.0,2923.5 1562.0,2923.5 1563.0,2923.6 1564.0,2923.6 1565.0,2923.6 1566.0,2923.6 1567.0,2923.6 1568.0,2923.6 1569.0,2923.6 1570.0,2923.6 1571.0,2923.7 1572.0,2923.7 1573.0,2923.7 1574.0,2923.7 1575.0,2923.7 1576.0,2923.7 1577.0,2923.7 1578.0,2923.7 1579.0,2923.7 1580.0,2923.8 1581.0,2923.8 1582.0,2923.8 1583.0,2923.8 1584.0,2923.8 1585.0,2923.8 1586.0,2923.8 1587.0,2923.8 1588.0,2923.9 1589.0,2923.9 1590.0,2923.9 1591.0,2923.9 1592.0,2923.9 1593.0,2923.9 1594.0,2923.9 1595.0,2923.9 1596.0,2924.0 1597.0,2924.0 1598.0,2924.0 1599.0,2924.0 1600.0,2924.0 1601.0,2924.0 1602.0,2924.1 1603.0,2924.1 1604.0,2924.1 1605.0,2924.1 1606.0,2924.2 1607.0,2924.2 1608.0,2924.2 1609.0,2924.2 1610.0,2924.3 1611.0,2924.3 1612.0,2924.3 1613.0,2924.3 1614.0,2924.4 1615.0,2924.4 1616.0,2924.4 1617.0,2924.4 1618.0,2924.5 1619.0,2924.5 1620.0,2924.5 1621.0,2924.6 1622.0,2924.6 1623.0,2924.6 1624.0,2924.6 1625.0,2924.7 1626.0,2924.7 1627.0,2924.7 1628.0,2924.7 1629.0,2924.8 1630.0,2924.8 1631.0,2924.8 1632.0,2924.8 1633.0,2924.9 1634.0,2924.9 1635.0,2924.9 1636.0,2924.9 1637.0,2925.0 1638.0,2925.0 1639.0,2925.0 1640.0,2925.1 1641.0,2925.1 1642.0,2925.1 1643.0,2925.1 1644.0,2925.2 1645.0,2925.2 1646.0,2925.2 1647.0,2925.2 1648.0,2925.3 1649.0,2925.3 1650.0,2925.3 1651.0,2925.3 1652.0,2925.4 1653.0,2925.4 1654.0,2925.4 1655.0,2925.4 1656.0,2925.5 1657.0,2925.5 1658.0,2925.5 1659.0,2925.6 1660.0,2925.6 1661.0,2925.6 1662.0,2925.6 1663.0,2925.7 1664.0,2925.7 1665.0,2925.7 1666.0,2925.7 1667.0,2925.8 1668.0,2925.8 1669.0,2925.8 1670.0,2925.8 1671.0,2925.9 1672.0,2925.9 1673.0,2925.9 1674.0,2925.9 1675.0,2926.0 1676.0,2926.0 1677.0,2926.0 1678.0,2926.1 1679.0,2926.1 1680.0,2926.1 1681.0,2926.1 1682.0,2926.2 1683.0,2926.2 1684.0,2926.2 1685.0,2926.2 1686.0,2926.3 1687.0,2926.3 1688.0,2926.3 1689.0,2926.3 1690.0,2926.4 1691.0,2926.4 1692.0,2926.4 1693.0,2926.4 1694.0,2926.5 1695.0,2926.5 1696.0,2926.5 1697.0,2926.6 1698.0,2926.6 1699.0,2926.6 1700.0,2926.6 1701.0,2926.7 1702.0,2926.7 1703.0,2926.7 1704.0,2926.7 1705.0,2926.8 1706.0,2926.8 1707.0,2926.8 1708.0,2926.8 1709.0,2926.9 1710.0,2926.9 1711.0,2926.9 1712.0,2926.9 1713.0,2927.0 1714.0,2927.0 1715.0,2927.1 1716.0,2927.1 1717.0,2927.2 1718.0,2927.2 1719.0,2927.3 1720.0,2927.3 1721.0,2927.4 1722.0,2927.4 1723.0,2927.5 1724.0,2927.5 1725.0,2927.6 1726.0,2927.7 1727.0,2927.7 1728.0,2927.8 1729.0,2927.8 1730.0,2927.9 1731.0,2927.9 1732.0,2928.0 1733.0,2928.0 1734.0,2928.1 1735.0,2928.1 1736.0,2928.2 1737.0,2928.3 1738.0,2928.3 1739.0,2928.4 1740.0,2928.4 1741.0,2928.5 1742.0,2928.5 1743.0,2928.6 1744.0,2928.6 1745.0,2928.7 1746.0,2928.7 1747.0,2928.8 1748.0,2928.9 1749.0,2928.9 1750.0,2929.0 1751.0,2929.0 1752.0,2929.1 1753.0,2929.1 1754.0,2929.2 1755.0,2929.2 1756.0,2929.3 1757.0,2929.3 1758.0,2929.4 1759.0,2929.5 1760.0,2929.5 1761.0,2929.6 1762.0,2929.6 1763.0,2929.7 1764.0,2929.7 1765.0,2929.8 1766.0,2929.8 1767.0,2929.9 1768.0,2929.9 1769.0,2930.0 1770.0,2930.1 1771.0,2930.1 1772.0,2930.2 1773.0,2930.2 1774.0,2930.3 1775.0,2930.3 1776.0,2930.4 1777.0,2930.4 1778.0,2930.5 1779.0,2930.6 1780.0,2930.6 1781.0,2930.7 1782.0,2930.7 1783.0,2930.8 1784.0,2930.8 1785.0,2930.9 1786.0,2930.9 1787.0,2931.0 1788.0,2931.0 1789.0,2931.1 1790.0,2931.2 1791.0,2931.2 1792.0,2931.3 1793.0,2931.3 1794.0,2931.4 1795.0,2931.4 1796.0,2931.5 1797.0,2931.5 1798.0,2931.6 1799.0,2931.6 1800.0,2931.7 1801.0,2931.8 1802.0,2931.8 1803.0,2931.9 1804.0,2931.9 1805.0,2932.0 1806.0,2932.0 1807.0,2932.1 1808.0,2932.2 1809.0,2932.2 1810.0,2932.3 1811.0,2932.3 1812.0,2932.4 1813.0,2932.4 1814.0,2932.5 1815.0,2932.6 1816.0,2932.6 1817.0,2932.7 1818.0,2932.7 1819.0,2932.8 1820.0,2932.8 1821.0,2932.9 1822.0,2933.0 1823.0,2933.0 1824.0,2933.1 1825.0,2933.1 1826.0,2933.2 1827.0,2933.3 1828.0,2933.3 1829.0,2933.4 1830.0,2933.4 1831.0,2933.5 1832.0,2933.5 1833.0,2933.6 1834.0,2933.7 1835.0,2933.7 1836.0,2933.8 1837.0,2933.8 1838.0,2933.9 1839.0,2934.0 1840.0,2934.0 1841.0,2934.1 1842.0,2934.1 1843.0,2934.2 1844.0,2934.2 1845.0,2934.3 1846.0,2934.4 1847.0,2934.4 1848.0,2934.5 1849.0,2934.5 1850.0,2934.6 1851.0,2934.7 1852.0,2934.7 1853.0,2934.8 1854.0,2934.8 1855.0,2934.9 1856.0,2934.9 1857.0,2935.0 1858.0,2935.1 1859.0,2935.1 1860.0,2935.2 1861.0,2935.2 1862.0,2935.3 1863.0,2935.3 1864.0,2935.4 1865.0,2935.5 1866.0,2935.5 1867.0,2935.6 1868.0,2935.6 1869.0,2935.7 1870.0,2935.8 1871.0,2935.8 1872.0,2935.9 1873.0,2935.9 1874.0,2936.0 1875.0,2936.0 1876.0,2936.1 1877.0,2936.2 1878.0,2936.2 1879.0,2936.3 1880.0,2936.3 1881.0,2936.4 1882.0,2936.5 1883.0,2936.5 1884.0,2936.6 1885.0,2936.6 1886.0,2936.7 1887.0,2936.7 1888.0,2936.8 1889.0,2936.9 1890.0,2936.9 1891.0,2937.0 1892.0,2937.0 1893.0,2937.1 1894.0,2937.2 1895.0,2937.2 1896.0,2937.3 1897.0,2937.3 1898.0,2937.4 1899.0,2937.4 1900.0,2937.5 1901.0,2937.6 1902.0,2937.6 1903.0,2937.7 1904.0,2937.7 1905.0,2937.8 1906.0,2937.8 1907.0,2937.9 1908.0,2938.0 1909.0,2938.0 1910.0,2938.0 1911.0,2938.0 1912.0,2938.1 1913.0,2938.1 1914.0,2938.1 1915.0,2938.1 1916.0,2938.1 1917.0,2938.1 1918.0,2938.2 1919.0,2938.2 1920.0,2938.2 1921.0,2938.2 1922.0,2938.2 1923.0,2938.3 1924.0,2938.3 1925.0,2938.3 1926.0,2938.3 1927.0,2938.3 1928.0,2938.3 1929.0,2938.4 1930.0,2938.4 1931.0,2938.4 1932.0,2938.4 1933.0,2938.4 1934.0,2938.4 1935.0,2938.5 1936.0,2938.5 1937.0,2938.5 1938.0,2938.5 1939.0,2938.5 1940.0,2938.5 1941.0,2938.6 1942.0,2938.6 1943.0,2938.6 1944.0,2938.6 1945.0,2938.6 1946.0,2938.7 1947.0,2938.7 1948.0,2938.7 1949.0,2938.7 1950.0,2938.7 1951.0,2938.7 1952.0,2938.8 1953.0,2938.8 1954.0,2938.8 1955.0,2938.8 1956.0,2938.8 1957.0,2938.8 1958.0,2938.9 1959.0,2938.9 1960.0,2938.9 1961.0,2938.9 1962.0,2938.9 1963.0,2939.0 1964.0,2939.0 1965.0,2939.0 1966.0,2939.0 1967.0,2939.0 1968.0,2939.0 1969.0,2939.1 1970.0,2939.1 1971.0,2939.1 1972.0,2939.1 1973.0,2939.1 1974.0,2939.1 1975.0,2939.2 1976.0,2939.2 1977.0,2939.2 1978.0,2939.2 1979.0,2939.2 1980.0,2939.2 1981.0,2939.3 1982.0,2939.3 1983.0,2939.3 1984.0,2939.3 1985.0,2939.3 1986.0,2939.4 1987.0,2939.4 1988.0,2939.4 1989.0,2939.4 1990.0,2939.4 1991.0,2939.4 1992.0,2939.5 1993.0,2939.5 1994.0,2939.5 1995.0,2939.5 1996.0,2939.5 1997.0,2939.5 1998.0,2939.6 1999.0,2939.6 2000.0,2939.6 2001.0,2939.6 2002.0,2939.6 2003.0,2939.6 2004.0,2939.7 2005.0,2939.7 2006.0,2939.7 2007.0,2939.7 2008.0,2939.7 2009.0,2939.7 2010.0,2939.7 2011.0,2939.8 2012.0,2939.8 2013.0,2939.8 2014.0,2939.8 2015.0,2939.8 2016.0,2939.8 2017.0,2939.8 2018.0,2939.9 2019.0,2939.9 2020.0,2939.9 2021.0,2939.9 2022.0,2939.9 2023.0,2939.9 2024.0,2940.0 2025.0,2940.0 2026.0,2940.0 2027.0,2940.0 2028.0,2940.0 2029.0,2940.0 2030.0,2940.0 2031.0,2940.1 2032.0,2940.1 2033.0,2940.1 2034.0,2940.1 2035.0,2940.1 2036.0,2940.1 2037.0,2940.1 2038.0,2940.2 2039.0,2940.2 2040.0,2940.2 2041.0,2940.2 2042.0,2940.2 2043.0,2940.2 2044.0,2940.2 2045.0,2940.3 2046.0,2940.3 2047.0,2940.3 2048.0,2940.3 2049.0,2940.3 2050.0,2940.3 2051.0,2940.3 2052.0,2940.4 2053.0,2940.4 2054.0,2940.4 2055.0,2940.4 2056.0,2940.4 2057.0,2940.4 2058.0,2940.4 2059.0,2940.5 2060.0,2940.5 2061.0,2940.5 2062.0,2940.5 2063.0,2940.5 2064.0,2940.5 2065.0,2940.6 2066.0,2940.6 2067.0,2940.6 2068.0,2940.6 2069.0,2940.6 2070.0,2940.6 2071.0,2940.6 2072.0,2940.7 2073.0,2940.7 2074.0,2940.7 2075.0,2940.7 2076.0,2940.7 2077.0,2940.7 2078.0,2940.7 2079.0,2940.8 2080.0,2940.8 2081.0,2940.8 2082.0,2940.8 2083.0,2940.8 2084.0,2940.8 2085.0,2940.8 2086.0,2940.9 2087.0,2940.9 2088.0,2940.9 2089.0,2940.9 2090.0,2940.9 2091.0,2940.9 2092.0,2940.9 2093.0,2941.0 2094.0,2941.0 2095.0,2941.0 2096.0,2941.0 2097.0,2941.0 2098.0,2941.0 2099.0,2941.0 2100.0,2941.1 2101.0,2941.1 2102.0,2941.1 2103.0,2941.1 2104.0,2941.1 2105.0,2941.1 2106.0,2941.2 2107.0,2941.2 2108.0,2941.2 2109.0,2941.2 2110.0,2941.2 2111.0,2941.2 2112.0,2941.2 2113.0,2941.3 2114.0,2941.3 2115.0,2941.3 2116.0,2941.3 2117.0,2941.3 2118.0,2941.3 2119.0,2941.3 2120.0,2941.4 2121.0,2941.4 2122.0,2941.4 2123.0,2941.4 2124.0,2941.4 2125.0,2941.4 2126.0,2941.4 2127.0,2941.5 2128.0,2941.5 2129.0,2941.5 2130.0,2941.5 2131.0,2941.5 2132.0,2941.5 2133.0,2941.5 2134.0,2941.6 2135.0,2941.6 2136.0,2941.6 2137.0,2941.6 2138.0,2941.6 2139.0,2941.6 2140.0,2941.6 2141.0,2941.7 2142.0,2941.7 2143.0,2941.7 2144.0,2941.7 2145.0,2941.7 2146.0,2941.7 2147.0,2941.8 2148.0,2941.8 2149.0,2941.8 2150.0,2941.8 2151.0,2941.8 2152.0,2941.8 2153.0,2941.8 2154.0,2941.9 2155.0,2941.9 2156.0,2941.9 2157.0,2941.9 2158.0,2941.9 2159.0,2941.9 2160.0,2941.9 2161.0,2942.0 2162.0,2942.0" fill="none" stroke="#333" stroke-width="1.8" stroke-linejoin="round"/>
<polyline points="1502.0,2920.3 1503.0,2920.2 1504.0,2920.1 1505.0,2920.0 1506.0,2919.9 1507.0,2919.7 1508.0,2919.6 1509.0,2919.5 1510.0,2919.3 1511.0,2919.2 1512.0,2919.0 1513.0,2918.9 1514.0,2918.7 1515.0,2918.5 1516.0,2918.3 1517.0,2918.2 1518.0,2918.0 1519.0,2917.8 1520.0,2917.6 1521.0,2917.3 1522.0,2917.1 1523.0,2916.9 1524.0,2916.6 1525.0,2916.4 1526.0,2916.1 1527.0,2915.8 1528.0,2915.6 1529.0,2915.3 1530.0,2915.0 1531.0,2914.7 1532.0,2914.3 1533.0,2914.0 1534.0,2913.6 1535.0,2913.3 1536.0,2912.9 1537.0,2912.5 1538.0,2912.1 1539.0,2911.7 1540.0,2911.3 1541.0,2910.9 1542.0,2910.4 1543.0,2909.9 1544.0,2909.5 1545.0,2909.0 1546.0,2908.5 1547.0,2907.9 1548.0,2907.4 1549.0,2906.8 1550.0,2906.2 1551.0,2905.7 1552.0,2905.0 1553.0,2904.4 1554.0,2903.8 1555.0,2903.1 1556.0,2902.4 1557.0,2901.7 1558.0,2901.0 1559.0,2900.3 1560.0,2899.5 1561.0,2898.7 1562.0,2897.9 1563.0,2897.1 1564.0,2896.2 1565.0,2895.4 1566.0,2894.5 1567.0,2893.6 1568.0,2892.6 1569.0,2891.7 1570.0,2890.7 1571.0,2889.7 1572.0,2888.6 1573.0,2887.6 1574.0,2886.5 1575.0,2885.4 1576.0,2884.3 1577.0,2883.1 1578.0,2881.9 1579.0,2880.7 1580.0,2879.5 1581.0,2878.3 1582.0,2877.0 1583.0,2875.7 1584.0,2874.3 1585.0,2873.0 1586.0,2871.6 1587.0,2870.2 1588.0,2868.7 1589.0,2867.2 1590.0,2865.7 1591.0,2864.2 1592.0,2862.6 1593.0,2861.1 1594.0,2859.5 1595.0,2857.8 1596.0,2856.1 1597.0,2854.5 1598.0,2852.7 1599.0,2851.0 1600.0,2849.2 1601.0,2847.4 1602.0,2845.6 1603.0,2843.8 1604.0,2841.9 1605.0,2840.0 1606.0,2838.1 1607.0,2836.1 1608.0,2834.1 1609.0,2832.1 1610.0,2830.1 1611.0,2828.0 1612.0,2826.0 1613.0,2823.8 1614.0,2821.7 1615.0,2819.6 1616.0,2817.4 1617.0,2815.2 1618.0,2813.0 1619.0,2810.7 1620.0,2808.5 1621.0,2806.2 1622.0,2803.9 1623.0,2801.5 1624.0,2799.2 1625.0,2796.8 1626.0,2794.5 1627.0,2792.1 1628.0,2789.6 1629.0,2787.2 1630.0,2784.8 1631.0,2782.3 1632.0,2779.8 1633.0,2777.4 1634.0,2774.9 1635.0,2772.4 1636.0,2769.8 1637.0,2767.3 1638.0,2764.8 1639.0,2762.3 1640.0,2759.7 1641.0,2757.2 1642.0,2754.6 1643.0,2752.1 1644.0,2749.5 1645.0,2747.0 1646.0,2744.4 1647.0,2741.8 1648.0,2739.3 1649.0,2736.8 1650.0,2734.2 1651.0,2731.7 1652.0,2729.2 1653.0,2726.6 1654.0,2724.1 1655.0,2721.6 1656.0,2719.1 1657.0,2716.7 1658.0,2714.2 1659.0,2711.8 1660.0,2709.4 1661.0,2707.0 1662.0,2704.6 1663.0,2702.2 1664.0,2699.9 1665.0,2697.6 1666.0,2695.3 1667.0,2693.0 1668.0,2690.8 1669.0,2688.6 1670.0,2686.4 1671.0,2684.3 1672.0,2682.1 1673.0,2680.1 1674.0,2678.0 1675.0,2676.0 1676.0,2674.0 1677.0,2672.1 1678.0,2670.2 1679.0,2668.4 1680.0,2666.6 1681.0,2664.8 1682.0,2663.1 1683.0,2661.4 1684.0,2659.8 1685.0,2658.2 1686.0,2656.6 1687.0,2655.1 1688.0,2653.7 1689.0,2652.3 1690.0,2651.0 1691.0,2649.7 1692.0,2648.5 1693.0,2647.3 1694.0,2646.2 1695.0,2645.1 1696.0,2644.1 1697.0,2643.1 1698.0,2642.2 1699.0,2641.4 1700.0,2640.6 1701.0,2639.9 1702.0,2639.2 1703.0,2638.6 1704.0,2638.1 1705.0,2637.6 1706.0,2637.2 1707.0,2636.8 1708.0,2636.5 1709.0,2636.3 1710.0,2636.1 1711.0,2636.0 1712.0,2636.0 1713.0,2636.0 1714.0,2636.1 1715.0,2636.3 1716.0,2636.5 1717.0,2636.9 1718.0,2637.3 1719.0,2637.8 1720.0,2638.4 1721.0,2639.0 1722.0,2639.7 1723.0,2640.5 1724.0,2641.4 1725.0,2642.3 1726.0,2643.3 1727.0,2644.4 1728.0,2645.5 1729.0,2646.8 1730.0,2648.0 1731.0,2649.4 1732.0,2650.8 1733.0,2652.3 1734.0,2653.8 1735.0,2655.4 1736.0,2657.0 1737.0,2658.8 1738.0,2660.5 1739.0,2662.4 1740.0,2664.2 1741.0,2666.2 1742.0,2668.1 1743.0,2670.2 1744.0,2672.2 1745.0,2674.4 1746.0,2676.5 1747.0,2678.7 1748.0,2681.0 1749.0,2683.3 1750.0,2685.6 1751.0,2688.0 1752.0,2690.3 1753.0,2692.8 1754.0,2695.2 1755.0,2697.7 1756.0,2700.2 1757.0,2702.8 1758.0,2705.3 1759.0,2707.9 1760.0,2710.5 1761.0,2713.2 1762.0,2715.8 1763.0,2718.5 1764.0,2721.2 1765.0,2723.8 1766.0,2726.5 1767.0,2729.3 1768.0,2732.0 1769.0,2734.7 1770.0,2737.5 1771.0,2740.2 1772.0,2742.9 1773.0,2745.7 1774.0,2748.4 1775.0,2751.2 1776.0,2753.9 1777.0,2756.7 1778.0,2759.4 1779.0,2762.1 1780.0,2764.9 1781.0,2767.6 1782.0,2770.3 1783.0,2773.0 1784.0,2775.7 1785.0,2778.4 1786.0,2781.0 1787.0,2783.7 1788.0,2786.3 1789.0,2788.9 1790.0,2791.5 1791.0,2794.1 1792.0,2796.7 1793.0,2799.2 1794.0,2801.8 1795.0,2804.3 1796.0,2806.7 1797.0,2809.2 1798.0,2811.6 1799.0,2814.1 1800.0,2816.5 1801.0,2818.8 1802.0,2821.2 1803.0,2823.5 1804.0,2825.8 1805.0,2828.0 1806.0,2830.3 1807.0,2832.5 1808.0,2834.7 1809.0,2836.8 1810.0,2839.0 1811.0,2841.1 1812.0,2843.1 1813.0,2845.2 1814.0,2847.2 1815.0,2849.2 1816.0,2851.1 1817.0,2853.1 1818.0,2855.0 1819.0,2856.8 1820.0,2858.7 1821.0,2860.5 1822.0,2862.2 1823.0,2864.0 1824.0,2865.7 1825.0,2867.4 1826.0,2869.0 1827.0,2870.7 1828.0,2872.3 1829.0,2873.8 1830.0,2875.4 1831.0,2876.9 1832.0,2878.4 1833.0,2879.8 1834.0,2881.2 1835.0,2882.6 1836.0,2884.0 1837.0,2885.3 1838.0,2886.6 1839.0,2887.9 1840.0,2889.2 1841.0,2890.4 1842.0,2891.6 1843.0,2892.8 1844.0,2893.9 1845.0,2895.1 1846.0,2896.2 1847.0,2897.2 1848.0,2898.3 1849.0,2899.3 1850.0,2900.3 1851.0,2901.3 1852.0,2902.3 1853.0,2903.2 1854.0,2904.1 1855.0,2905.0 1856.0,2905.9 1857.0,2906.7 1858.0,2907.5 1859.0,2908.3 1860.0,2909.1 1861.0,2909.9 1862.0,2910.6 1863.0,2911.4 1864.0,2912.1 1865.0,2912.8 1866.0,2913.4 1867.0,2914.1 1868.0,2914.7 1869.0,2915.3 1870.0,2915.9 1871.0,2916.5 1872.0,2917.1 1873.0,2917.7 1874.0,2918.2 1875.0,2918.7 1876.0,2919.2 1877.0,2919.8 1878.0,2920.2 1879.0,2920.7 1880.0,2921.2 1881.0,2921.6 1882.0,2922.1 1883.0,2922.5 1884.0,2922.9 1885.0,2923.3 1886.0,2923.7 1887.0,2924.1 1888.0,2924.4 1889.0,2924.8 1890.0,2925.2 1891.0,2925.5 1892.0,2925.8 1893.0,2926.2 1894.0,2926.5 1895.0,2926.8 1896.0,2927.1 1897.0,2927.4 1898.0,2927.6 1899.0,2927.9 1900.0,2928.2 1901.0,2928.4 1902.0,2928.7 1903.0,2929.0 1904.0,2929.2 1905.0,2929.4 1906.0,2929.7 1907.0,2929.9 1908.0,2930.1 1909.0,2930.3 1910.0,2930.5 1911.0,2930.6 1912.0,2930.8 1913.0,2930.9 1914.0,2931.1 1915.0,2931.2 1916.0,2931.4 1917.0,2931.5 1918.0,2931.7 1919.0,2931.8 1920.0,2931.9 1921.0,2932.0 1922.0,2932.1 1923.0,2932.3 1924.0,2932.4 1925.0,2932.5 1926.0,2932.6 1927.0,2932.7 1928.0,2932.8 1929.0,2932.9 1930.0,2933.0 1931.0,2933.1 1932.0,2933.2 1933.0,2933.3 1934.0,2933.4 1935.0,2933.4 1936.0,2933.5 1937.0,2933.6 1938.0,2933.7 1939.0,2933.8 1940.0,2933.8 1941.0,2933.9 1942.0,2934.0 1943.0,2934.1 1944.0,2934.1 1945.0,2934.2 1946.0,2934.3 1947.0,2934.3 1948.0,2934.4 1949.0,2934.5 1950.0,2934.5 1951.0,2934.6 1952.0,2934.6 1953.0,2934.7 1954.0,2934.8 1955.0,2934.8 1956.0,2934.9 1957.0,2934.9 1958.0,2935.0 1959.0,2935.0 1960.0,2935.1 1961.0,2935.1 1962.0,2935.2 1963.0,2935.2 1964.0,2935.3 1965.0,2935.3 1966.0,2935.4 1967.0,2935.4 1968.0,2935.5 1969.0,2935.5 1970.0,2935.6 1971.0,2935.6 1972.0,2935.7 1973.0,2935.7 1974.0,2935.8 1975.0,2935.8 1976.0,2935.9 1977.0,2935.9 1978.0,2935.9 1979.0,2936.0 1980.0,2936.0 1981.0,2936.1 1982.0,2936.1 1983.0,2936.2 1984.0,2936.2 1985.0,2936.2 1986.0,2936.3 1987.0,2936.3 1988.0,2936.4 1989.0,2936.4 1990.0,2936.4 1991.0,2936.5 1992.0,2936.5 1993.0,2936.5 1994.0,2936.6 1995.0,2936.6 1996.0,2936.7 1997.0,2936.7 1998.0,2936.7 1999.0,2936.8 2000.0,2936.8 2001.0,2936.8 2002.0,2936.9 2003.0,2936.9 2004.0,2936.9 2005.0,2937.0 2006.0,2937.0 2007.0,2937.0 2008.0,2937.1 2009.0,2937.1 2010.0,2937.1 2011.0,2937.2 2012.0,2937.2 2013.0,2937.2 2014.0,2937.3 2015.0,2937.3 2016.0,2937.3 2017.0,2937.3" fill="none" stroke="#4a95e6" stroke-width="2" stroke-linejoin="round"/>
<polyline points="1664.0,2922.7 1665.0,2922.7 1666.0,2922.7 1667.0,2922.7 1668.0,2922.7 1669.0,2922.7 1670.0,2922.7 1671.0,2922.7 1672.0,2922.7 1673.0,2922.6 1674.0,2922.6 1675.0,2922.6 1676.0,2922.6 1677.0,2922.6 1678.0,2922.6 1679.0,2922.6 1680.0,2922.6 1681.0,2922.6 1682.0,2922.6 1683.0,2922.6 1684.0,2922.6 1685.0,2922.6 1686.0,2922.5 1687.0,2922.5 1688.0,2922.5 1689.0,2922.5 1690.0,2922.5 1691.0,2922.5 1692.0,2922.4 1693.0,2922.4 1694.0,2922.4 1695.0,2922.4 1696.0,2922.4 1697.0,2922.3 1698.0,2922.3 1699.0,2922.3 1700.0,2922.2 1701.0,2922.2 1702.0,2922.2 1703.0,2922.1 1704.0,2922.1 1705.0,2922.1 1706.0,2922.0 1707.0,2922.0 1708.0,2921.9 1709.0,2921.9 1710.0,2921.8 1711.0,2921.8 1712.0,2921.7 1713.0,2921.6 1714.0,2921.6 1715.0,2921.5 1716.0,2921.5 1717.0,2921.4 1718.0,2921.4 1719.0,2921.3 1720.0,2921.2 1721.0,2921.2 1722.0,2921.1 1723.0,2921.0 1724.0,2920.9 1725.0,2920.8 1726.0,2920.7 1727.0,2920.6 1728.0,2920.5 1729.0,2920.3 1730.0,2920.2 1731.0,2920.0 1732.0,2919.9 1733.0,2919.7 1734.0,2919.5 1735.0,2919.3 1736.0,2919.1 1737.0,2918.9 1738.0,2918.6 1739.0,2918.4 1740.0,2918.1 1741.0,2917.8 1742.0,2917.5 1743.0,2917.2 1744.0,2916.8 1745.0,2916.4 1746.0,2916.1 1747.0,2915.6 1748.0,2915.2 1749.0,2914.8 1750.0,2914.3 1751.0,2913.8 1752.0,2913.2 1753.0,2912.6 1754.0,2912.0 1755.0,2911.4 1756.0,2910.7 1757.0,2910.0 1758.0,2909.3 1759.0,2908.5 1760.0,2907.7 1761.0,2906.9 1762.0,2906.0 1763.0,2905.0 1764.0,2904.0 1765.0,2903.0 1766.0,2901.9 1767.0,2900.8 1768.0,2899.6 1769.0,2898.3 1770.0,2897.0 1771.0,2895.7 1772.0,2894.2 1773.0,2892.8 1774.0,2891.2 1775.0,2889.6 1776.0,2887.9 1777.0,2886.2 1778.0,2884.4 1779.0,2882.5 1780.0,2880.5 1781.0,2878.5 1782.0,2876.3 1783.0,2874.1 1784.0,2871.8 1785.0,2869.5 1786.0,2867.0 1787.0,2864.5 1788.0,2861.8 1789.0,2859.1 1790.0,2856.3 1791.0,2853.4 1792.0,2850.4 1793.0,2847.2 1794.0,2844.0 1795.0,2840.7 1796.0,2837.3 1797.0,2833.8 1798.0,2830.2 1799.0,2826.5 1800.0,2822.7 1801.0,2818.7 1802.0,2814.7 1803.0,2810.6 1804.0,2806.3 1805.0,2802.0 1806.0,2797.5 1807.0,2793.0 1808.0,2788.3 1809.0,2783.5 1810.0,2778.7 1811.0,2773.7 1812.0,2768.6 1813.0,2763.4 1814.0,2758.2 1815.0,2752.8 1816.0,2747.3 1817.0,2741.7 1818.0,2736.1 1819.0,2730.3 1820.0,2724.5 1821.0,2718.6 1822.0,2712.6 1823.0,2706.5 1824.0,2700.4 1825.0,2694.1 1826.0,2687.8 1827.0,2681.5 1828.0,2675.1 1829.0,2668.6 1830.0,2662.1 1831.0,2655.5 1832.0,2648.9 1833.0,2642.3 1834.0,2635.6 1835.0,2628.9 1836.0,2622.2 1837.0,2615.5 1838.0,2608.8 1839.0,2602.0 1840.0,2595.3 1841.0,2588.6 1842.0,2581.9 1843.0,2575.3 1844.0,2568.6 1845.0,2562.1 1846.0,2555.5 1847.0,2549.0 1848.0,2542.6 1849.0,2536.3 1850.0,2530.0 1851.0,2523.8 1852.0,2517.7 1853.0,2511.7 1854.0,2505.9 1855.0,2500.1 1856.0,2494.5 1857.0,2488.9 1858.0,2483.6 1859.0,2478.3 1860.0,2473.3 1861.0,2468.4 1862.0,2463.6 1863.0,2459.1 1864.0,2454.7 1865.0,2450.5 1866.0,2446.5 1867.0,2442.7 1868.0,2439.1 1869.0,2435.7 1870.0,2432.6 1871.0,2429.6 1872.0,2427.0 1873.0,2424.5 1874.0,2422.3 1875.0,2420.3 1876.0,2418.6 1877.0,2417.1 1878.0,2415.8 1879.0,2414.9 1880.0,2414.1 1881.0,2413.7 1882.0,2413.5 1883.0,2413.5 1884.0,2413.8 1885.0,2414.2 1886.0,2414.8 1887.0,2415.6 1888.0,2416.6 1889.0,2417.8 1890.0,2419.2 1891.0,2420.7 1892.0,2422.4 1893.0,2424.3 1894.0,2426.4 1895.0,2428.6 1896.0,2431.0 1897.0,2433.6 1898.0,2436.4 1899.0,2439.3 1900.0,2442.3 1901.0,2445.5 1902.0,2448.9 1903.0,2452.4 1904.0,2456.1 1905.0,2459.9 1906.0,2463.8 1907.0,2467.8 1908.0,2472.0 1909.0,2476.3 1910.0,2480.7 1911.0,2485.2 1912.0,2489.7 1913.0,2494.4 1914.0,2499.2 1915.0,2504.1 1916.0,2509.1 1917.0,2514.2 1918.0,2519.3 1919.0,2524.5 1920.0,2529.8 1921.0,2535.1 1922.0,2540.6 1923.0,2546.0 1924.0,2551.5 1925.0,2557.1 1926.0,2562.7 1927.0,2568.4 1928.0,2574.0 1929.0,2579.7 1930.0,2585.5 1931.0,2591.2 1932.0,2597.0 1933.0,2602.8 1934.0,2608.5 1935.0,2614.3 1936.0,2620.1 1937.0,2625.9 1938.0,2631.7 1939.0,2637.4 1940.0,2643.2 1941.0,2648.9 1942.0,2654.6 1943.0,2660.3 1944.0,2665.9 1945.0,2671.6 1946.0,2677.2 1947.0,2682.7 1948.0,2688.2 1949.0,2693.7 1950.0,2699.1 1951.0,2704.5 1952.0,2709.8 1953.0,2715.0 1954.0,2720.3 1955.0,2725.4 1956.0,2730.5 1957.0,2735.5 1958.0,2740.5 1959.0,2745.4 1960.0,2750.3 1961.0,2755.0 1962.0,2759.7 1963.0,2764.4 1964.0,2768.9 1965.0,2773.4 1966.0,2777.9 1967.0,2782.2 1968.0,2786.5 1969.0,2790.7 1970.0,2794.8 1971.0,2798.8 1972.0,2802.8 1973.0,2806.7 1974.0,2810.5 1975.0,2814.3 1976.0,2817.9 1977.0,2821.5 1978.0,2825.0 1979.0,2828.5 1980.0,2831.8 1981.0,2835.1 1982.0,2838.3 1983.0,2841.5 1984.0,2844.5 1985.0,2847.5 1986.0,2850.4 1987.0,2853.2 1988.0,2856.0 1989.0,2858.7 1990.0,2861.3 1991.0,2863.9 1992.0,2866.4 1993.0,2868.8 1994.0,2871.1 1995.0,2873.4 1996.0,2875.7 1997.0,2877.8 1998.0,2879.9 1999.0,2881.9 2000.0,2883.9 2001.0,2885.8 2002.0,2887.7 2003.0,2889.5 2004.0,2891.2 2005.0,2892.9 2006.0,2894.5 2007.0,2896.1 2008.0,2897.7 2009.0,2899.1 2010.0,2900.6 2011.0,2902.0 2012.0,2903.3 2013.0,2904.6 2014.0,2905.8 2015.0,2907.0 2016.0,2908.2 2017.0,2909.3 2018.0,2910.4 2019.0,2911.4 2020.0,2912.4 2021.0,2913.4 2022.0,2914.4 2023.0,2915.3 2024.0,2916.1 2025.0,2917.0 2026.0,2917.8 2027.0,2918.5 2028.0,2919.3 2029.0,2920.0 2030.0,2920.7 2031.0,2921.3 2032.0,2922.0 2033.0,2922.6 2034.0,2923.2 2035.0,2923.7 2036.0,2924.3 2037.0,2924.8 2038.0,2925.3 2039.0,2925.8 2040.0,2926.3 2041.0,2926.7 2042.0,2927.1 2043.0,2927.5 2044.0,2927.9 2045.0,2928.3 2046.0,2928.7 2047.0,2929.0 2048.0,2929.3 2049.0,2929.7 2050.0,2930.0 2051.0,2930.3 2052.0,2930.6 2053.0,2930.8 2054.0,2931.1 2055.0,2931.3 2056.0,2931.6 2057.0,2931.8 2058.0,2932.0 2059.0,2932.2 2060.0,2932.5 2061.0,2932.6 2062.0,2932.8 2063.0,2933.0 2064.0,2933.2 2065.0,2933.4 2066.0,2933.5 2067.0,2933.7 2068.0,2933.8 2069.0,2934.0 2070.0,2934.1 2071.0,2934.3 2072.0,2934.4 2073.0,2934.5 2074.0,2934.6 2075.0,2934.8 2076.0,2934.9 2077.0,2935.0 2078.0,2935.1 2079.0,2935.2 2080.0,2935.3 2081.0,2935.4 2082.0,2935.5 2083.0,2935.6 2084.0,2935.7 2085.0,2935.8 2086.0,2935.8 2087.0,2935.9 2088.0,2936.0 2089.0,2936.1 2090.0,2936.2 2091.0,2936.2 2092.0,2936.3 2093.0,2936.4 2094.0,2936.4 2095.0,2936.5 2096.0,2936.6 2097.0,2936.6 2098.0,2936.7 2099.0,2936.8 2100.0,2936.8 2101.0,2936.9 2102.0,2936.9 2103.0,2937.0 2104.0,2937.0 2105.0,2937.1 2106.0,2937.2 2107.0,2937.2 2108.0,2937.3 2109.0,2937.3 2110.0,2937.4 2111.0,2937.4 2112.0,2937.5 2113.0,2937.5 2114.0,2937.6 2115.0,2937.6 2116.0,2937.7 2117.0,2937.7 2118.0,2937.7 2119.0,2937.8 2120.0,2937.8 2121.0,2937.9 2122.0,2937.9 2123.0,2938.0 2124.0,2938.0 2125.0,2938.1 2126.0,2938.1 2127.0,2938.1 2128.0,2938.2 2129.0,2938.2 2130.0,2938.3 2131.0,2938.3 2132.0,2938.3 2133.0,2938.4 2134.0,2938.4 2135.0,2938.5 2136.0,2938.5 2137.0,2938.5 2138.0,2938.6 2139.0,2938.6 2140.0,2938.6" fill="none" stroke="#8a8a8a" stroke-width="1.8" stroke-linejoin="round"/>
<g fill="none" stroke="#333" stroke-width="1.9"><circle cx="1276.3" cy="2861.9" r="3.7"/><circle cx="1283.8" cy="2892.7" r="3.7"/><circle cx="1288.6" cy="2892.2" r="3.7"/><circle cx="1296.5" cy="2901.2" r="3.7"/><circle cx="1305.2" cy="2894.4" r="3.7"/><circle cx="1312.0" cy="2911.5" r="3.7"/><circle cx="1314.9" cy="2898.5" r="3.7"/><circle cx="1322.1" cy="2866.7" r="3.7"/><circle cx="1328.2" cy="2883.4" r="3.7"/><circle cx="1336.9" cy="2888.6" r="3.7"/><circle cx="1341.6" cy="2883.1" r="3.7"/><circle cx="1350.6" cy="2873.9" r="3.7"/><circle cx="1358.3" cy="2889.4" r="3.7"/><circle cx="1363.3" cy="2871.7" r="3.7"/><circle cx="1372.1" cy="2883.8" r="3.7"/><circle cx="1378.5" cy="2894.7" r="3.7"/><circle cx="1382.4" cy="2876.1" r="3.7"/><circle cx="1391.9" cy="2916.6" r="3.7"/><circle cx="1397.2" cy="2903.8" r="3.7"/><circle cx="1404.8" cy="2893.8" r="3.7"/><circle cx="1410.9" cy="2908.0" r="3.7"/><circle cx="1419.8" cy="2899.0" r="3.7"/><circle cx="1425.3" cy="2904.8" r="3.7"/><circle cx="1430.7" cy="2905.0" r="3.7"/><circle cx="1439.4" cy="2864.7" r="3.7"/><circle cx="1447.4" cy="2889.7" r="3.7"/><circle cx="1451.8" cy="2897.9" r="3.7"/><circle cx="1458.2" cy="2881.4" r="3.7"/><circle cx="1465.8" cy="2899.9" r="3.7"/><circle cx="1475.4" cy="2886.3" r="3.7"/><circle cx="1482.4" cy="2892.4" r="3.7"/><circle cx="1487.7" cy="2876.9" r="3.7"/><circle cx="1495.6" cy="2912.9" r="3.7"/><circle cx="1502.1" cy="2886.1" r="3.7"/><circle cx="1506.6" cy="2893.3" r="3.7"/><circle cx="1512.0" cy="2907.8" r="3.7"/><circle cx="1521.6" cy="2879.3" r="3.7"/><circle cx="1527.9" cy="2900.9" r="3.7"/><circle cx="1533.7" cy="2869.1" r="3.7"/><circle cx="1539.8" cy="2879.9" r="3.7"/><circle cx="1547.5" cy="2874.0" r="3.7"/><circle cx="1554.6" cy="2877.0" r="3.7"/><circle cx="1560.4" cy="2901.5" r="3.7"/><circle cx="1567.4" cy="2890.4" r="3.7"/><circle cx="1575.0" cy="2891.4" r="3.7"/><circle cx="1583.8" cy="2877.4" r="3.7"/><circle cx="1589.2" cy="2857.4" r="3.7"/><circle cx="1594.5" cy="2866.5" r="3.7"/><circle cx="1601.3" cy="2834.0" r="3.7"/><circle cx="1609.0" cy="2830.7" r="3.7"/><circle cx="1614.5" cy="2818.6" r="3.7"/><circle cx="1621.3" cy="2807.1" r="3.7"/><circle cx="1629.7" cy="2776.8" r="3.7"/><circle cx="1634.3" cy="2771.3" r="3.7"/><circle cx="1643.1" cy="2748.0" r="3.7"/><circle cx="1649.3" cy="2742.3" r="3.7"/><circle cx="1657.8" cy="2704.6" r="3.7"/><circle cx="1664.8" cy="2690.9" r="3.7"/><circle cx="1671.4" cy="2660.5" r="3.7"/><circle cx="1678.1" cy="2641.8" r="3.7"/><circle cx="1683.4" cy="2668.4" r="3.7"/><circle cx="1691.6" cy="2633.2" r="3.7"/><circle cx="1696.8" cy="2625.6" r="3.7"/><circle cx="1704.8" cy="2636.3" r="3.7"/><circle cx="1710.3" cy="2597.4" r="3.7"/><circle cx="1717.7" cy="2615.0" r="3.7"/><circle cx="1722.6" cy="2627.8" r="3.7"/><circle cx="1730.3" cy="2630.1" r="3.7"/><circle cx="1740.8" cy="2658.8" r="3.7"/><circle cx="1743.9" cy="2667.9" r="3.7"/><circle cx="1753.0" cy="2676.2" r="3.7"/><circle cx="1759.6" cy="2685.5" r="3.7"/><circle cx="1766.7" cy="2697.8" r="3.7"/><circle cx="1772.3" cy="2727.7" r="3.7"/><circle cx="1779.7" cy="2744.7" r="3.7"/><circle cx="1783.8" cy="2725.4" r="3.7"/><circle cx="1790.7" cy="2732.9" r="3.7"/><circle cx="1798.1" cy="2719.0" r="3.7"/><circle cx="1804.7" cy="2694.2" r="3.7"/><circle cx="1811.2" cy="2680.7" r="3.7"/><circle cx="1818.1" cy="2639.5" r="3.7"/><circle cx="1827.1" cy="2609.9" r="3.7"/><circle cx="1832.0" cy="2584.3" r="3.7"/><circle cx="1842.7" cy="2538.2" r="3.7"/><circle cx="1848.1" cy="2511.7" r="3.7"/><circle cx="1854.2" cy="2469.1" r="3.7"/><circle cx="1861.8" cy="2434.3" r="3.7"/><circle cx="1866.4" cy="2409.1" r="3.7"/><circle cx="1876.5" cy="2400.0" r="3.7"/><circle cx="1882.9" cy="2401.7" r="3.7"/><circle cx="1889.1" cy="2410.0" r="3.7"/><circle cx="1894.7" cy="2419.3" r="3.7"/><circle cx="1903.3" cy="2464.7" r="3.7"/><circle cx="1909.6" cy="2486.8" r="3.7"/><circle cx="1916.0" cy="2500.3" r="3.7"/><circle cx="1924.1" cy="2541.9" r="3.7"/><circle cx="1929.5" cy="2574.9" r="3.7"/><circle cx="1934.9" cy="2611.8" r="3.7"/><circle cx="1942.7" cy="2650.0" r="3.7"/><circle cx="1947.7" cy="2691.7" r="3.7"/><circle cx="1954.5" cy="2723.9" r="3.7"/><circle cx="1963.9" cy="2781.7" r="3.7"/><circle cx="1971.0" cy="2810.5" r="3.7"/><circle cx="1978.8" cy="2829.2" r="3.7"/><circle cx="1985.0" cy="2847.8" r="3.7"/><circle cx="1990.2" cy="2855.5" r="3.7"/><circle cx="1994.7" cy="2871.3" r="3.7"/><circle cx="2003.5" cy="2906.3" r="3.7"/><circle cx="2012.5" cy="2897.3" r="3.7"/><circle cx="2018.6" cy="2926.5" r="3.7"/><circle cx="2023.9" cy="2910.5" r="3.7"/><circle cx="2030.6" cy="2921.0" r="3.7"/><circle cx="2036.2" cy="2932.0" r="3.7"/><circle cx="2042.8" cy="2925.5" r="3.7"/><circle cx="2049.1" cy="2931.2" r="3.7"/><circle cx="2060.0" cy="2928.3" r="3.7"/><circle cx="2065.5" cy="2927.3" r="3.7"/><circle cx="2069.8" cy="2930.8" r="3.7"/><circle cx="2078.0" cy="2927.5" r="3.7"/><circle cx="2082.9" cy="2948.5" r="3.7"/><circle cx="2090.5" cy="2933.0" r="3.7"/><circle cx="2100.0" cy="2950.7" r="3.7"/><circle cx="2106.4" cy="2911.5" r="3.7"/><circle cx="2112.3" cy="2936.2" r="3.7"/><circle cx="2118.1" cy="2941.4" r="3.7"/><circle cx="2126.8" cy="2934.1" r="3.7"/><circle cx="2135.1" cy="2947.0" r="3.7"/><circle cx="2139.3" cy="2943.1" r="3.7"/><circle cx="2144.3" cy="2935.0" r="3.7"/><circle cx="2151.0" cy="2941.7" r="3.7"/></g>
<polyline points="1270.0,2919.6 1271.0,2919.6 1272.0,2919.6 1273.0,2919.7 1274.0,2919.7 1275.0,2919.7 1276.0,2919.7 1277.0,2919.7 1278.0,2919.7 1279.0,2919.7 1280.0,2919.7 1281.0,2919.7 1282.0,2919.7 1283.0,2919.8 1284.0,2919.8 1285.0,2919.8 1286.0,2919.8 1287.0,2919.8 1288.0,2919.8 1289.0,2919.8 1290.0,2919.8 1291.0,2919.8 1292.0,2919.9 1293.0,2919.9 1294.0,2919.9 1295.0,2919.9 1296.0,2919.9 1297.0,2919.9 1298.0,2919.9 1299.0,2919.9 1300.0,2919.9 1301.0,2920.0 1302.0,2920.0 1303.0,2920.0 1304.0,2920.0 1305.0,2920.0 1306.0,2920.0 1307.0,2920.0 1308.0,2920.0 1309.0,2920.0 1310.0,2920.0 1311.0,2920.1 1312.0,2920.1 1313.0,2920.1 1314.0,2920.1 1315.0,2920.1 1316.0,2920.1 1317.0,2920.1 1318.0,2920.1 1319.0,2920.1 1320.0,2920.1 1321.0,2920.2 1322.0,2920.2 1323.0,2920.2 1324.0,2920.2 1325.0,2920.2 1326.0,2920.2 1327.0,2920.2 1328.0,2920.2 1329.0,2920.2 1330.0,2920.3 1331.0,2920.3 1332.0,2920.3 1333.0,2920.3 1334.0,2920.3 1335.0,2920.3 1336.0,2920.3 1337.0,2920.3 1338.0,2920.3 1339.0,2920.3 1340.0,2920.4 1341.0,2920.4 1342.0,2920.4 1343.0,2920.4 1344.0,2920.4 1345.0,2920.4 1346.0,2920.4 1347.0,2920.4 1348.0,2920.4 1349.0,2920.4 1350.0,2920.5 1351.0,2920.5 1352.0,2920.5 1353.0,2920.5 1354.0,2920.5 1355.0,2920.5 1356.0,2920.5 1357.0,2920.5 1358.0,2920.5 1359.0,2920.5 1360.0,2920.6 1361.0,2920.6 1362.0,2920.6 1363.0,2920.6 1364.0,2920.6 1365.0,2920.6 1366.0,2920.6 1367.0,2920.6 1368.0,2920.6 1369.0,2920.6 1370.0,2920.7 1371.0,2920.7 1372.0,2920.7 1373.0,2920.7 1374.0,2920.7 1375.0,2920.7 1376.0,2920.7 1377.0,2920.7 1378.0,2920.7 1379.0,2920.7 1380.0,2920.8 1381.0,2920.8 1382.0,2920.8 1383.0,2920.8 1384.0,2920.8 1385.0,2920.8 1386.0,2920.8 1387.0,2920.8 1388.0,2920.8 1389.0,2920.8 1390.0,2920.8 1391.0,2920.9 1392.0,2920.9 1393.0,2920.9 1394.0,2920.9 1395.0,2920.9 1396.0,2920.9 1397.0,2920.9 1398.0,2920.9 1399.0,2920.9 1400.0,2920.9 1401.0,2920.9 1402.0,2921.0 1403.0,2921.0 1404.0,2921.0 1405.0,2921.0 1406.0,2921.0 1407.0,2921.0 1408.0,2921.0 1409.0,2921.0 1410.0,2921.0 1411.0,2921.0 1412.0,2921.0 1413.0,2921.0 1414.0,2921.1 1415.0,2921.1 1416.0,2921.1 1417.0,2921.1 1418.0,2921.1 1419.0,2921.1 1420.0,2921.1 1421.0,2921.1 1422.0,2921.1 1423.0,2921.1 1424.0,2921.1 1425.0,2921.1 1426.0,2921.1 1427.0,2921.1 1428.0,2921.1 1429.0,2921.2 1430.0,2921.2 1431.0,2921.2 1432.0,2921.2 1433.0,2921.2 1434.0,2921.2 1435.0,2921.2 1436.0,2921.2 1437.0,2921.2 1438.0,2921.2 1439.0,2921.2 1440.0,2921.2 1441.0,2921.2 1442.0,2921.2 1443.0,2921.2 1444.0,2921.2 1445.0,2921.2 1446.0,2921.2 1447.0,2921.2 1448.0,2921.2 1449.0,2921.2 1450.0,2921.2 1451.0,2921.2 1452.0,2921.2 1453.0,2921.2 1454.0,2921.2 1455.0,2921.2 1456.0,2921.2 1457.0,2921.2 1458.0,2921.2 1459.0,2921.2 1460.0,2921.2 1461.0,2921.1 1462.0,2921.1 1463.0,2921.1 1464.0,2921.1 1465.0,2921.1 1466.0,2921.1 1467.0,2921.1 1468.0,2921.1 1469.0,2921.0 1470.0,2921.0 1471.0,2921.0 1472.0,2921.0 1473.0,2921.0 1474.0,2920.9 1475.0,2920.9 1476.0,2920.9 1477.0,2920.8 1478.0,2920.8 1479.0,2920.8 1480.0,2920.7 1481.0,2920.7 1482.0,2920.7 1483.0,2920.6 1484.0,2920.6 1485.0,2920.5 1486.0,2920.5 1487.0,2920.4 1488.0,2920.4 1489.0,2920.3 1490.0,2920.3 1491.0,2920.2 1492.0,2920.1 1493.0,2920.1 1494.0,2920.0 1495.0,2919.9 1496.0,2919.8 1497.0,2919.7 1498.0,2919.7 1499.0,2919.6 1500.0,2919.5 1501.0,2919.4 1502.0,2919.3 1503.0,2919.2 1504.0,2919.0 1505.0,2918.9 1506.0,2918.8 1507.0,2918.7 1508.0,2918.5 1509.0,2918.4 1510.0,2918.2 1511.0,2918.1 1512.0,2917.9 1513.0,2917.8 1514.0,2917.6 1515.0,2917.4 1516.0,2917.2 1517.0,2917.0 1518.0,2916.8 1519.0,2916.6 1520.0,2916.4 1521.0,2916.2 1522.0,2916.0 1523.0,2915.7 1524.0,2915.5 1525.0,2915.2 1526.0,2914.9 1527.0,2914.7 1528.0,2914.4 1529.0,2914.1 1530.0,2913.8 1531.0,2913.4 1532.0,2913.1 1533.0,2912.8 1534.0,2912.4 1535.0,2912.1 1536.0,2911.7 1537.0,2911.3 1538.0,2910.9 1539.0,2910.5 1540.0,2910.0 1541.0,2909.6 1542.0,2909.1 1543.0,2908.7 1544.0,2908.2 1545.0,2907.7 1546.0,2907.1 1547.0,2906.6 1548.0,2906.1 1549.0,2905.5 1550.0,2904.9 1551.0,2904.3 1552.0,2903.7 1553.0,2903.0 1554.0,2902.4 1555.0,2901.7 1556.0,2901.0 1557.0,2900.3 1558.0,2899.6 1559.0,2898.8 1560.0,2898.1 1561.0,2897.3 1562.0,2896.5 1563.0,2895.6 1564.0,2894.8 1565.0,2893.9 1566.0,2893.0 1567.0,2892.1 1568.0,2891.1 1569.0,2890.2 1570.0,2889.2 1571.0,2888.1 1572.0,2887.1 1573.0,2886.0 1574.0,2885.0 1575.0,2883.8 1576.0,2882.7 1577.0,2881.5 1578.0,2880.4 1579.0,2879.1 1580.0,2877.9 1581.0,2876.6 1582.0,2875.3 1583.0,2874.0 1584.0,2872.7 1585.0,2871.3 1586.0,2869.9 1587.0,2868.5 1588.0,2867.0 1589.0,2865.5 1590.0,2864.0 1591.0,2862.5 1592.0,2860.9 1593.0,2859.3 1594.0,2857.7 1595.0,2856.0 1596.0,2854.4 1597.0,2852.6 1598.0,2850.9 1599.0,2849.2 1600.0,2847.4 1601.0,2845.6 1602.0,2843.7 1603.0,2841.9 1604.0,2840.0 1605.0,2838.1 1606.0,2836.1 1607.0,2834.2 1608.0,2832.2 1609.0,2830.2 1610.0,2828.1 1611.0,2826.0 1612.0,2823.9 1613.0,2821.8 1614.0,2819.7 1615.0,2817.5 1616.0,2815.3 1617.0,2813.1 1618.0,2810.9 1619.0,2808.6 1620.0,2806.3 1621.0,2804.0 1622.0,2801.7 1623.0,2799.4 1624.0,2797.0 1625.0,2794.6 1626.0,2792.2 1627.0,2789.8 1628.0,2787.4 1629.0,2784.9 1630.0,2782.5 1631.0,2780.0 1632.0,2777.5 1633.0,2775.0 1634.0,2772.5 1635.0,2770.0 1636.0,2767.5 1637.0,2764.9 1638.0,2762.4 1639.0,2759.8 1640.0,2757.2 1641.0,2754.7 1642.0,2752.1 1643.0,2749.5 1644.0,2747.0 1645.0,2744.4 1646.0,2741.8 1647.0,2739.2 1648.0,2736.7 1649.0,2734.1 1650.0,2731.5 1651.0,2729.0 1652.0,2726.4 1653.0,2723.9 1654.0,2721.4 1655.0,2718.8 1656.0,2716.3 1657.0,2713.8 1658.0,2711.4 1659.0,2708.9 1660.0,2706.5 1661.0,2704.0 1662.0,2701.6 1663.0,2699.2 1664.0,2696.9 1665.0,2694.5 1666.0,2692.2 1667.0,2689.9 1668.0,2687.7 1669.0,2685.4 1670.0,2683.2 1671.0,2681.0 1672.0,2678.9 1673.0,2676.8 1674.0,2674.7 1675.0,2672.7 1676.0,2670.7 1677.0,2668.7 1678.0,2666.8 1679.0,2664.9 1680.0,2663.1 1681.0,2661.3 1682.0,2659.5 1683.0,2657.8 1684.0,2656.1 1685.0,2654.5 1686.0,2652.9 1687.0,2651.4 1688.0,2649.9 1689.0,2648.5 1690.0,2647.1 1691.0,2645.8 1692.0,2644.5 1693.0,2643.3 1694.0,2642.1 1695.0,2641.0 1696.0,2639.9 1697.0,2638.9 1698.0,2638.0 1699.0,2637.1 1700.0,2636.2 1701.0,2635.4 1702.0,2634.7 1703.0,2634.1 1704.0,2633.5 1705.0,2632.9 1706.0,2632.4 1707.0,2632.0 1708.0,2631.6 1709.0,2631.3 1710.0,2631.1 1711.0,2630.9 1712.0,2630.7 1713.0,2630.6 1714.0,2630.6 1715.0,2630.7 1716.0,2630.9 1717.0,2631.1 1718.0,2631.4 1719.0,2631.8 1720.0,2632.3 1721.0,2632.8 1722.0,2633.4 1723.0,2634.0 1724.0,2634.7 1725.0,2635.5 1726.0,2636.4 1727.0,2637.3 1728.0,2638.2 1729.0,2639.3 1730.0,2640.3 1731.0,2641.5 1732.0,2642.7 1733.0,2643.9 1734.0,2645.2 1735.0,2646.5 1736.0,2647.9 1737.0,2649.4 1738.0,2650.8 1739.0,2652.3 1740.0,2653.9 1741.0,2655.5 1742.0,2657.1 1743.0,2658.7 1744.0,2660.4 1745.0,2662.1 1746.0,2663.8 1747.0,2665.6 1748.0,2667.3 1749.0,2669.1 1750.0,2670.9 1751.0,2672.7 1752.0,2674.5 1753.0,2676.3 1754.0,2678.1 1755.0,2679.9 1756.0,2681.7 1757.0,2683.5 1758.0,2685.2 1759.0,2687.0 1760.0,2688.7 1761.0,2690.4 1762.0,2692.1 1763.0,2693.8 1764.0,2695.4 1765.0,2697.0 1766.0,2698.6 1767.0,2700.1 1768.0,2701.6 1769.0,2703.0 1770.0,2704.4 1771.0,2705.7 1772.0,2707.0 1773.0,2708.2 1774.0,2709.4 1775.0,2710.5 1776.0,2711.5 1777.0,2712.4 1778.0,2713.3 1779.0,2714.1 1780.0,2714.8 1781.0,2715.4 1782.0,2715.9 1783.0,2716.4 1784.0,2716.7 1785.0,2717.0 1786.0,2717.1 1787.0,2717.2 1788.0,2717.1 1789.0,2716.9 1790.0,2716.7 1791.0,2716.3 1792.0,2715.8 1793.0,2715.2 1794.0,2714.4 1795.0,2713.6 1796.0,2712.6 1797.0,2711.5 1798.0,2710.3 1799.0,2708.9 1800.0,2707.4 1801.0,2705.8 1802.0,2704.1 1803.0,2702.2 1804.0,2700.2 1805.0,2698.0 1806.0,2695.8 1807.0,2693.4 1808.0,2690.8 1809.0,2688.2 1810.0,2685.4 1811.0,2682.4 1812.0,2679.4 1813.0,2676.2 1814.0,2672.9 1815.0,2669.4 1816.0,2665.8 1817.0,2662.1 1818.0,2658.3 1819.0,2654.4 1820.0,2650.3 1821.0,2646.1 1822.0,2641.9 1823.0,2637.5 1824.0,2633.0 1825.0,2628.4 1826.0,2623.7 1827.0,2618.9 1828.0,2614.0 1829.0,2609.1 1830.0,2604.0 1831.0,2598.9 1832.0,2593.7 1833.0,2588.5 1834.0,2583.2 1835.0,2577.8 1836.0,2572.4 1837.0,2567.0 1838.0,2561.5 1839.0,2556.0 1840.0,2550.5 1841.0,2545.0 1842.0,2539.4 1843.0,2533.9 1844.0,2528.3 1845.0,2522.8 1846.0,2517.3 1847.0,2511.9 1848.0,2506.4 1849.0,2501.1 1850.0,2495.7 1851.0,2490.5 1852.0,2485.3 1853.0,2480.2 1854.0,2475.1 1855.0,2470.2 1856.0,2465.4 1857.0,2460.7 1858.0,2456.0 1859.0,2451.6 1860.0,2447.2 1861.0,2443.0 1862.0,2439.0 1863.0,2435.1 1864.0,2431.3 1865.0,2427.8 1866.0,2424.4 1867.0,2421.2 1868.0,2418.2 1869.0,2415.4 1870.0,2412.8 1871.0,2410.4 1872.0,2408.2 1873.0,2406.2 1874.0,2404.5 1875.0,2403.0 1876.0,2401.7 1877.0,2400.7 1878.0,2399.9 1879.0,2399.3 1880.0,2399.0 1881.0,2398.9 1882.0,2399.1 1883.0,2399.5 1884.0,2400.1 1885.0,2400.9 1886.0,2401.8 1887.0,2403.0 1888.0,2404.3 1889.0,2405.8 1890.0,2407.4 1891.0,2409.2 1892.0,2411.2 1893.0,2413.4 1894.0,2415.7 1895.0,2418.2 1896.0,2420.8 1897.0,2423.7 1898.0,2426.6 1899.0,2429.7 1900.0,2433.0 1901.0,2436.4 1902.0,2440.0 1903.0,2443.7 1904.0,2447.5 1905.0,2451.5 1906.0,2455.6 1907.0,2459.8 1908.0,2464.1 1909.0,2468.6 1910.0,2473.1 1911.0,2477.7 1912.0,2482.5 1913.0,2487.3 1914.0,2492.2 1915.0,2497.3 1916.0,2502.4 1917.0,2507.5 1918.0,2512.8 1919.0,2518.1 1920.0,2523.5 1921.0,2529.0 1922.0,2534.5 1923.0,2540.0 1924.0,2545.6 1925.0,2551.3 1926.0,2557.0 1927.0,2562.7 1928.0,2568.5 1929.0,2574.3 1930.0,2580.1 1931.0,2585.9 1932.0,2591.7 1933.0,2597.6 1934.0,2603.4 1935.0,2609.3 1936.0,2615.2 1937.0,2621.0 1938.0,2626.8 1939.0,2632.7 1940.0,2638.5 1941.0,2644.3 1942.0,2650.0 1943.0,2655.8 1944.0,2661.5 1945.0,2667.1 1946.0,2672.8 1947.0,2678.4 1948.0,2683.9 1949.0,2689.4 1950.0,2694.9 1951.0,2700.3 1952.0,2705.7 1953.0,2711.0 1954.0,2716.2 1955.0,2721.4 1956.0,2726.6 1957.0,2731.6 1958.0,2736.6 1959.0,2741.6 1960.0,2746.5 1961.0,2751.3 1962.0,2756.0 1963.0,2760.7 1964.0,2765.3 1965.0,2769.8 1966.0,2774.3 1967.0,2778.6 1968.0,2782.9 1969.0,2787.2 1970.0,2791.3 1971.0,2795.4 1972.0,2799.4 1973.0,2803.3 1974.0,2807.2 1975.0,2810.9 1976.0,2814.6 1977.0,2818.2 1978.0,2821.8 1979.0,2825.2 1980.0,2828.6 1981.0,2831.9 1982.0,2835.1 1983.0,2838.3 1984.0,2841.4 1985.0,2844.4 1986.0,2847.3 1987.0,2850.2 1988.0,2853.0 1989.0,2855.7 1990.0,2858.3 1991.0,2860.9 1992.0,2863.4 1993.0,2865.9 1994.0,2868.2 1995.0,2870.5 1996.0,2872.8 1997.0,2875.0 1998.0,2877.1 1999.0,2879.1 2000.0,2881.1 2001.0,2883.1 2002.0,2884.9 2003.0,2886.7 2004.0,2888.5 2005.0,2890.2 2006.0,2891.9 2007.0,2893.5 2008.0,2895.0 2009.0,2896.5 2010.0,2898.0 2011.0,2899.4 2012.0,2900.7 2013.0,2902.0 2014.0,2903.3 2015.0,2904.5 2016.0,2905.7 2017.0,2906.8 2018.0,2907.9 2019.0,2909.0 2020.0,2910.0 2021.0,2911.0 2022.0,2911.9 2023.0,2912.8 2024.0,2913.7 2025.0,2914.6 2026.0,2915.4 2027.0,2916.2 2028.0,2916.9 2029.0,2917.7 2030.0,2918.4 2031.0,2919.0 2032.0,2919.7 2033.0,2920.3 2034.0,2920.9 2035.0,2921.5 2036.0,2922.1 2037.0,2922.6 2038.0,2923.1 2039.0,2923.6 2040.0,2924.1 2041.0,2924.5 2042.0,2925.0 2043.0,2925.4 2044.0,2925.8 2045.0,2926.2 2046.0,2926.6 2047.0,2926.9 2048.0,2927.3 2049.0,2927.6 2050.0,2927.9 2051.0,2928.2 2052.0,2928.5 2053.0,2928.8 2054.0,2929.1 2055.0,2929.3 2056.0,2929.6 2057.0,2929.8 2058.0,2930.1 2059.0,2930.3 2060.0,2930.5 2061.0,2930.7 2062.0,2930.9 2063.0,2931.1 2064.0,2931.3 2065.0,2931.5 2066.0,2931.6 2067.0,2931.8 2068.0,2932.0 2069.0,2932.1 2070.0,2932.3 2071.0,2932.4 2072.0,2932.6 2073.0,2932.7 2074.0,2932.8 2075.0,2933.0 2076.0,2933.1 2077.0,2933.2 2078.0,2933.3 2079.0,2933.4 2080.0,2933.5 2081.0,2933.7 2082.0,2933.8 2083.0,2933.9 2084.0,2934.0 2085.0,2934.1 2086.0,2934.1 2087.0,2934.2 2088.0,2934.3 2089.0,2934.4 2090.0,2934.5 2091.0,2934.6 2092.0,2934.7 2093.0,2934.7 2094.0,2934.8 2095.0,2934.9 2096.0,2935.0 2097.0,2935.0 2098.0,2935.1 2099.0,2935.2 2100.0,2935.2 2101.0,2935.3 2102.0,2935.4 2103.0,2935.4 2104.0,2935.5 2105.0,2935.6 2106.0,2935.6 2107.0,2935.7 2108.0,2935.7 2109.0,2935.8 2110.0,2935.9 2111.0,2935.9 2112.0,2936.0 2113.0,2936.0 2114.0,2936.1 2115.0,2936.1 2116.0,2936.2 2117.0,2936.3 2118.0,2936.3 2119.0,2936.4 2120.0,2936.4 2121.0,2936.5 2122.0,2936.5 2123.0,2936.6 2124.0,2936.6 2125.0,2936.7 2126.0,2936.7 2127.0,2936.8 2128.0,2936.8 2129.0,2936.8 2130.0,2936.9 2131.0,2936.9 2132.0,2937.0 2133.0,2937.0 2134.0,2937.1 2135.0,2937.1 2136.0,2937.2 2137.0,2937.2 2138.0,2937.3 2139.0,2937.3 2140.0,2937.3 2141.0,2937.4 2142.0,2937.4 2143.0,2937.5 2144.0,2937.5 2145.0,2937.6 2146.0,2937.6 2147.0,2937.6 2148.0,2937.7 2149.0,2937.7 2150.0,2937.8 2151.0,2937.8 2152.0,2937.8 2153.0,2937.9 2154.0,2937.9 2155.0,2938.0 2156.0,2938.0 2157.0,2938.0 2158.0,2938.1 2159.0,2938.1 2160.0,2938.1 2161.0,2938.2 2162.0,2938.2" fill="none" stroke="#8a128a" stroke-width="4.2" stroke-linejoin="round"/>
<text transform="translate(1822.99,2334.40) scale(1.0176,1)" font-family="'Liberation Sans', Arial, sans-serif" font-size="37.09" fill="#222" stroke="#222" stroke-width="0.7">S 2p 1/2</text>
<text transform="translate(1598.28,2561.30) scale(1.0433,1)" font-family="'Liberation Sans', Arial, sans-serif" font-size="36.23" fill="#222" stroke="#222" stroke-width="0.7">S 2p 3/2</text>
<rect x="183" y="3410" width="896" height="719" fill="none" stroke="#7a7a7a" stroke-width="3"/>
<line x1="183.0" y1="4129.0" x2="1079.0" y2="4129.0" stroke="#5c5c5c" stroke-width="3"/>
<line x1="202.6" y1="4129.0" x2="202.6" y2="4145.0" stroke="#444" stroke-width="2.5"/>
<line x1="489.4" y1="4129.0" x2="489.4" y2="4145.0" stroke="#444" stroke-width="2.5"/>
<line x1="776.2" y1="4129.0" x2="776.2" y2="4145.0" stroke="#444" stroke-width="2.5"/>
<line x1="1063.0" y1="4129.0" x2="1063.0" y2="4145.0" stroke="#444" stroke-width="2.5"/>
<line x1="346.0" y1="4129.0" x2="346.0" y2="4137.0" stroke="#444" stroke-width="2.5"/>
<line x1="632.8" y1="4129.0" x2="632.8" y2="4137.0" stroke="#444" stroke-width="2.5"/>
<line x1="919.6" y1="4129.0" x2="919.6" y2="4137.0" stroke="#444" stroke-width="2.5"/>
<text transform="translate(162.43,4190.20) scale(0.9682,1)" font-family="'Liberation Sans', Arial, sans-serif" font-size="49.41" fill="#000" stroke="#000" stroke-width="0.7">524</text>
<text transform="translate(449.57,4190.20) scale(0.9682,1)" font-family="'Liberation Sans', Arial, sans-serif" font-size="49.41" fill="#000" stroke="#000" stroke-width="0.7">528</text>
<text transform="translate(736.54,4190.20) scale(0.9682,1)" font-family="'Liberation Sans', Arial, sans-serif" font-size="49.41" fill="#000" stroke="#000" stroke-width="0.7">532</text>
<text transform="translate(1023.18,4190.20) scale(0.9682,1)" font-family="'Liberation Sans', Arial, sans-serif" font-size="49.41" fill="#000" stroke="#000" stroke-width="0.7">536</text>
<text transform="translate(353.75,4278.00) scale(1.0087,1)" font-family="'Liberation Sans', Arial, sans-serif" font-size="61.05" fill="#000" stroke="#000" stroke-width="0.7">Binding Energy (eV)</text>
<text transform="translate(124.40,3943.50) rotate(-90) scale(0.9394,1)" font-family="'Liberation Sans', Arial, sans-serif" font-size="65.70" fill="#000" stroke="#000" stroke-width="0.7">Intensity (a.u.)</text>
<text transform="translate(206.29,3476.70) scale(1.0275,1)" font-family="'Liberation Sans', Arial, sans-serif" font-size="47.40" fill="#000" stroke="#000" stroke-width="0.7">O 1s</text>
<g fill="none" stroke="#333" stroke-width="1.9"><circle cx="186.4" cy="4102.9" r="3.7"/><circle cx="190.4" cy="4104.6" r="3.7"/><circle cx="191.8" cy="4107.3" r="3.7"/><circle cx="195.9" cy="4102.9" r="3.7"/><circle cx="197.8" cy="4095.6" r="3.7"/><circle cx="200.7" cy="4108.5" r="3.7"/><circle cx="203.7" cy="4089.1" r="3.7"/><circle cx="205.9" cy="4096.7" r="3.7"/><circle cx="208.2" cy="4104.3" r="3.7"/><circle cx="210.7" cy="4094.6" r="3.7"/><circle cx="213.2" cy="4103.1" r="3.7"/><circle cx="217.2" cy="4090.2" r="3.7"/><circle cx="219.3" cy="4092.4" r="3.7"/><circle cx="221.4" cy="4101.6" r="3.7"/><circle cx="225.6" cy="4103.1" r="3.7"/><circle cx="227.0" cy="4107.2" r="3.7"/><circle cx="230.0" cy="4096.4" r="3.7"/><circle cx="232.5" cy="4099.5" r="3.7"/><circle cx="235.9" cy="4102.3" r="3.7"/><circle cx="238.5" cy="4101.0" r="3.7"/><circle cx="241.2" cy="4085.9" r="3.7"/><circle cx="243.2" cy="4092.2" r="3.7"/><circle cx="246.0" cy="4109.3" r="3.7"/><circle cx="248.6" cy="4086.4" r="3.7"/><circle cx="251.5" cy="4102.3" r="3.7"/><circle cx="253.8" cy="4093.4" r="3.7"/><circle cx="256.5" cy="4105.5" r="3.7"/><circle cx="260.8" cy="4090.4" r="3.7"/><circle cx="263.5" cy="4097.4" r="3.7"/><circle cx="264.7" cy="4079.8" r="3.7"/><circle cx="267.0" cy="4096.6" r="3.7"/><circle cx="270.1" cy="4106.1" r="3.7"/><circle cx="273.8" cy="4084.2" r="3.7"/><circle cx="276.7" cy="4107.1" r="3.7"/><circle cx="277.8" cy="4090.9" r="3.7"/><circle cx="281.7" cy="4096.6" r="3.7"/><circle cx="283.2" cy="4073.4" r="3.7"/><circle cx="286.9" cy="4106.2" r="3.7"/><circle cx="289.9" cy="4089.6" r="3.7"/><circle cx="293.3" cy="4092.4" r="3.7"/><circle cx="294.5" cy="4086.1" r="3.7"/><circle cx="298.3" cy="4088.6" r="3.7"/><circle cx="301.1" cy="4106.7" r="3.7"/><circle cx="303.9" cy="4092.7" r="3.7"/><circle cx="304.8" cy="4104.6" r="3.7"/><circle cx="308.4" cy="4095.5" r="3.7"/><circle cx="312.2" cy="4099.9" r="3.7"/><circle cx="313.7" cy="4092.7" r="3.7"/><circle cx="317.2" cy="4100.6" r="3.7"/><circle cx="319.4" cy="4119.0" r="3.7"/><circle cx="322.5" cy="4102.5" r="3.7"/><circle cx="324.7" cy="4101.3" r="3.7"/><circle cx="326.5" cy="4093.0" r="3.7"/><circle cx="329.3" cy="4105.6" r="3.7"/><circle cx="332.0" cy="4108.6" r="3.7"/><circle cx="335.0" cy="4082.5" r="3.7"/><circle cx="339.1" cy="4085.3" r="3.7"/><circle cx="341.2" cy="4114.9" r="3.7"/><circle cx="344.2" cy="4100.6" r="3.7"/><circle cx="346.4" cy="4098.1" r="3.7"/><circle cx="349.3" cy="4101.8" r="3.7"/><circle cx="352.3" cy="4106.3" r="3.7"/><circle cx="355.3" cy="4103.8" r="3.7"/><circle cx="357.9" cy="4095.1" r="3.7"/><circle cx="360.4" cy="4114.5" r="3.7"/><circle cx="361.7" cy="4097.1" r="3.7"/><circle cx="364.9" cy="4089.6" r="3.7"/><circle cx="367.0" cy="4092.3" r="3.7"/><circle cx="370.7" cy="4095.9" r="3.7"/><circle cx="373.9" cy="4093.8" r="3.7"/><circle cx="375.1" cy="4095.4" r="3.7"/><circle cx="378.1" cy="4099.7" r="3.7"/><circle cx="381.1" cy="4069.1" r="3.7"/><circle cx="383.6" cy="4090.4" r="3.7"/><circle cx="387.4" cy="4105.1" r="3.7"/><circle cx="389.2" cy="4101.8" r="3.7"/><circle cx="392.5" cy="4091.2" r="3.7"/><circle cx="394.9" cy="4091.7" r="3.7"/><circle cx="397.8" cy="4106.7" r="3.7"/><circle cx="401.2" cy="4094.9" r="3.7"/><circle cx="403.9" cy="4092.5" r="3.7"/><circle cx="404.9" cy="4112.7" r="3.7"/><circle cx="409.1" cy="4093.8" r="3.7"/><circle cx="410.8" cy="4102.8" r="3.7"/><circle cx="413.0" cy="4096.6" r="3.7"/><circle cx="416.3" cy="4097.4" r="3.7"/><circle cx="419.2" cy="4088.9" r="3.7"/><circle cx="422.8" cy="4089.9" r="3.7"/><circle cx="424.3" cy="4107.6" r="3.7"/><circle cx="426.3" cy="4087.2" r="3.7"/><circle cx="430.7" cy="4099.2" r="3.7"/><circle cx="431.9" cy="4086.7" r="3.7"/><circle cx="435.4" cy="4094.8" r="3.7"/><circle cx="438.8" cy="4096.5" r="3.7"/><circle cx="440.8" cy="4082.9" r="3.7"/><circle cx="443.4" cy="4106.4" r="3.7"/><circle cx="446.8" cy="4095.2" r="3.7"/><circle cx="447.9" cy="4107.0" r="3.7"/><circle cx="451.7" cy="4088.7" r="3.7"/><circle cx="454.1" cy="4104.4" r="3.7"/><circle cx="458.0" cy="4116.4" r="3.7"/><circle cx="460.3" cy="4098.3" r="3.7"/><circle cx="461.5" cy="4091.0" r="3.7"/><circle cx="464.5" cy="4100.5" r="3.7"/><circle cx="467.7" cy="4097.5" r="3.7"/><circle cx="470.9" cy="4094.4" r="3.7"/><circle cx="472.9" cy="4095.1" r="3.7"/><circle cx="475.6" cy="4091.1" r="3.7"/><circle cx="479.4" cy="4099.5" r="3.7"/><circle cx="482.2" cy="4092.4" r="3.7"/><circle cx="483.8" cy="4088.3" r="3.7"/><circle cx="487.5" cy="4102.3" r="3.7"/><circle cx="489.1" cy="4093.9" r="3.7"/><circle cx="491.3" cy="4117.6" r="3.7"/><circle cx="494.9" cy="4092.7" r="3.7"/><circle cx="497.8" cy="4088.5" r="3.7"/><circle cx="501.0" cy="4089.6" r="3.7"/><circle cx="503.8" cy="4097.1" r="3.7"/><circle cx="506.1" cy="4087.8" r="3.7"/><circle cx="508.8" cy="4082.6" r="3.7"/><circle cx="511.4" cy="4106.9" r="3.7"/><circle cx="514.1" cy="4082.0" r="3.7"/><circle cx="516.9" cy="4105.0" r="3.7"/><circle cx="520.0" cy="4092.7" r="3.7"/><circle cx="521.5" cy="4082.2" r="3.7"/><circle cx="523.7" cy="4105.0" r="3.7"/><circle cx="526.7" cy="4088.4" r="3.7"/><circle cx="529.3" cy="4080.9" r="3.7"/><circle cx="532.3" cy="4089.2" r="3.7"/><circle cx="535.9" cy="4098.6" r="3.7"/><circle cx="537.1" cy="4093.1" r="3.7"/><circle cx="540.6" cy="4093.1" r="3.7"/><circle cx="544.0" cy="4099.7" r="3.7"/><circle cx="545.6" cy="4086.0" r="3.7"/><circle cx="547.9" cy="4086.5" r="3.7"/><circle cx="551.0" cy="4080.0" r="3.7"/><circle cx="553.4" cy="4068.4" r="3.7"/><circle cx="557.5" cy="4077.4" r="3.7"/><circle cx="558.9" cy="4089.2" r="3.7"/><circle cx="561.7" cy="4064.2" r="3.7"/><circle cx="565.6" cy="4083.2" r="3.7"/><circle cx="568.3" cy="4072.3" r="3.7"/><circle cx="570.6" cy="4062.4" r="3.7"/><circle cx="573.9" cy="4066.5" r="3.7"/><circle cx="574.9" cy="4077.7" r="3.7"/><circle cx="579.4" cy="4057.1" r="3.7"/><circle cx="581.3" cy="4064.8" r="3.7"/><circle cx="583.5" cy="4064.9" r="3.7"/><circle cx="587.3" cy="4046.6" r="3.7"/><circle cx="589.6" cy="4054.5" r="3.7"/><circle cx="593.0" cy="4049.6" r="3.7"/><circle cx="593.9" cy="4041.3" r="3.7"/><circle cx="597.6" cy="4044.3" r="3.7"/><circle cx="600.0" cy="4033.2" r="3.7"/><circle cx="603.1" cy="4026.8" r="3.7"/><circle cx="605.0" cy="4019.0" r="3.7"/><circle cx="607.3" cy="4026.3" r="3.7"/><circle cx="611.0" cy="4013.5" r="3.7"/><circle cx="613.3" cy="4007.8" r="3.7"/><circle cx="617.1" cy="3995.3" r="3.7"/><circle cx="618.9" cy="3989.5" r="3.7"/><circle cx="621.5" cy="3987.0" r="3.7"/><circle cx="624.7" cy="3989.3" r="3.7"/><circle cx="627.2" cy="3971.4" r="3.7"/><circle cx="630.7" cy="3976.4" r="3.7"/><circle cx="633.1" cy="3961.5" r="3.7"/><circle cx="635.2" cy="3952.5" r="3.7"/><circle cx="637.3" cy="3935.4" r="3.7"/><circle cx="640.8" cy="3944.3" r="3.7"/><circle cx="643.8" cy="3908.4" r="3.7"/><circle cx="646.5" cy="3910.6" r="3.7"/><circle cx="649.7" cy="3904.4" r="3.7"/><circle cx="650.8" cy="3885.8" r="3.7"/><circle cx="654.0" cy="3867.3" r="3.7"/><circle cx="656.6" cy="3858.3" r="3.7"/><circle cx="659.1" cy="3851.8" r="3.7"/><circle cx="661.9" cy="3839.7" r="3.7"/><circle cx="664.9" cy="3817.9" r="3.7"/><circle cx="667.7" cy="3789.8" r="3.7"/><circle cx="669.8" cy="3779.8" r="3.7"/><circle cx="672.3" cy="3771.2" r="3.7"/><circle cx="675.3" cy="3742.1" r="3.7"/><circle cx="677.7" cy="3734.5" r="3.7"/><circle cx="680.7" cy="3731.6" r="3.7"/><circle cx="684.2" cy="3685.2" r="3.7"/><circle cx="686.7" cy="3683.4" r="3.7"/><circle cx="690.2" cy="3645.2" r="3.7"/><circle cx="692.0" cy="3637.1" r="3.7"/><circle cx="694.7" cy="3621.5" r="3.7"/><circle cx="697.6" cy="3593.1" r="3.7"/><circle cx="700.5" cy="3585.4" r="3.7"/><circle cx="702.9" cy="3580.8" r="3.7"/><circle cx="705.6" cy="3562.2" r="3.7"/><circle cx="708.3" cy="3548.1" r="3.7"/><circle cx="710.5" cy="3527.2" r="3.7"/><circle cx="714.1" cy="3516.9" r="3.7"/><circle cx="716.4" cy="3510.7" r="3.7"/><circle cx="718.5" cy="3507.3" r="3.7"/><circle cx="721.1" cy="3505.0" r="3.7"/><circle cx="723.4" cy="3483.6" r="3.7"/><circle cx="726.7" cy="3497.6" r="3.7"/><circle cx="728.7" cy="3481.9" r="3.7"/><circle cx="731.7" cy="3481.3" r="3.7"/><circle cx="734.2" cy="3475.5" r="3.7"/><circle cx="737.4" cy="3486.8" r="3.7"/><circle cx="740.2" cy="3490.6" r="3.7"/><circle cx="743.4" cy="3491.3" r="3.7"/><circle cx="746.5" cy="3507.5" r="3.7"/><circle cx="748.8" cy="3519.2" r="3.7"/><circle cx="750.6" cy="3522.6" r="3.7"/><circle cx="754.8" cy="3550.1" r="3.7"/><circle cx="757.2" cy="3549.7" r="3.7"/><circle cx="759.4" cy="3575.3" r="3.7"/><circle cx="762.4" cy="3585.1" r="3.7"/><circle cx="764.8" cy="3603.8" r="3.7"/><circle cx="766.8" cy="3600.9" r="3.7"/><circle cx="770.5" cy="3638.5" r="3.7"/><circle cx="773.9" cy="3659.8" r="3.7"/><circle cx="776.1" cy="3682.1" r="3.7"/><circle cx="777.7" cy="3677.7" r="3.7"/><circle cx="780.2" cy="3713.1" r="3.7"/><circle cx="784.6" cy="3725.0" r="3.7"/><circle cx="787.2" cy="3758.5" r="3.7"/><circle cx="789.6" cy="3768.1" r="3.7"/><circle cx="792.3" cy="3775.4" r="3.7"/><circle cx="793.8" cy="3804.6" r="3.7"/><circle cx="797.8" cy="3804.7" r="3.7"/><circle cx="799.3" cy="3820.1" r="3.7"/><circle cx="801.9" cy="3837.4" r="3.7"/><circle cx="805.1" cy="3856.7" r="3.7"/><circle cx="807.0" cy="3864.4" r="3.7"/><circle cx="811.4" cy="3890.1" r="3.7"/><circle cx="812.7" cy="3894.0" r="3.7"/><circle cx="816.6" cy="3908.4" r="3.7"/><circle cx="819.0" cy="3911.8" r="3.7"/><circle cx="822.0" cy="3928.4" r="3.7"/><circle cx="824.4" cy="3946.1" r="3.7"/><circle cx="827.8" cy="3944.0" r="3.7"/><circle cx="829.4" cy="3958.2" r="3.7"/><circle cx="832.3" cy="3952.6" r="3.7"/><circle cx="834.7" cy="3969.4" r="3.7"/><circle cx="838.2" cy="3973.0" r="3.7"/><circle cx="840.0" cy="3998.0" r="3.7"/><circle cx="843.7" cy="3985.8" r="3.7"/><circle cx="845.0" cy="4000.0" r="3.7"/><circle cx="848.0" cy="4013.5" r="3.7"/><circle cx="851.1" cy="4019.3" r="3.7"/><circle cx="853.2" cy="4024.5" r="3.7"/><circle cx="856.0" cy="4031.9" r="3.7"/><circle cx="860.0" cy="4034.7" r="3.7"/><circle cx="861.7" cy="4040.0" r="3.7"/><circle cx="864.1" cy="4037.5" r="3.7"/><circle cx="868.1" cy="4043.3" r="3.7"/><circle cx="870.3" cy="4034.1" r="3.7"/><circle cx="873.1" cy="4051.1" r="3.7"/><circle cx="876.3" cy="4062.6" r="3.7"/><circle cx="878.6" cy="4051.1" r="3.7"/><circle cx="880.4" cy="4050.0" r="3.7"/><circle cx="882.6" cy="4061.0" r="3.7"/><circle cx="886.4" cy="4071.9" r="3.7"/><circle cx="889.4" cy="4075.0" r="3.7"/><circle cx="892.3" cy="4058.4" r="3.7"/><circle cx="893.8" cy="4073.1" r="3.7"/><circle cx="897.4" cy="4069.4" r="3.7"/><circle cx="900.7" cy="4078.0" r="3.7"/><circle cx="902.0" cy="4061.0" r="3.7"/><circle cx="904.8" cy="4084.8" r="3.7"/><circle cx="907.8" cy="4076.6" r="3.7"/><circle cx="910.7" cy="4083.2" r="3.7"/><circle cx="914.3" cy="4081.5" r="3.7"/><circle cx="916.2" cy="4075.0" r="3.7"/><circle cx="919.5" cy="4089.6" r="3.7"/><circle cx="921.7" cy="4081.8" r="3.7"/><circle cx="924.0" cy="4080.9" r="3.7"/><circle cx="926.4" cy="4093.1" r="3.7"/><circle cx="929.2" cy="4087.6" r="3.7"/><circle cx="932.8" cy="4083.3" r="3.7"/><circle cx="934.3" cy="4097.6" r="3.7"/><circle cx="936.9" cy="4085.3" r="3.7"/><circle cx="939.7" cy="4090.6" r="3.7"/><circle cx="943.3" cy="4097.9" r="3.7"/><circle cx="945.4" cy="4100.0" r="3.7"/><circle cx="947.8" cy="4102.6" r="3.7"/><circle cx="950.8" cy="4107.0" r="3.7"/><circle cx="953.0" cy="4093.6" r="3.7"/><circle cx="956.4" cy="4086.9" r="3.7"/><circle cx="959.8" cy="4108.1" r="3.7"/><circle cx="961.8" cy="4106.1" r="3.7"/><circle cx="964.5" cy="4092.0" r="3.7"/><circle cx="966.4" cy="4100.7" r="3.7"/><circle cx="969.6" cy="4091.8" r="3.7"/><circle cx="971.9" cy="4081.9" r="3.7"/><circle cx="974.5" cy="4104.2" r="3.7"/><circle cx="978.8" cy="4098.6" r="3.7"/><circle cx="981.2" cy="4096.8" r="3.7"/><circle cx="984.2" cy="4110.3" r="3.7"/><circle cx="985.5" cy="4108.1" r="3.7"/><circle cx="988.6" cy="4090.6" r="3.7"/><circle cx="992.4" cy="4086.8" r="3.7"/><circle cx="994.2" cy="4080.2" r="3.7"/><circle cx="997.9" cy="4096.4" r="3.7"/><circle cx="1000.6" cy="4093.2" r="3.7"/><circle cx="1001.4" cy="4099.6" r="3.7"/><circle cx="1005.0" cy="4096.7" r="3.7"/><circle cx="1008.0" cy="4091.0" r="3.7"/><circle cx="1010.2" cy="4093.2" r="3.7"/><circle cx="1013.0" cy="4083.5" r="3.7"/><circle cx="1015.6" cy="4107.2" r="3.7"/><circle cx="1018.1" cy="4092.2" r="3.7"/><circle cx="1020.4" cy="4102.0" r="3.7"/><circle cx="1024.5" cy="4091.2" r="3.7"/><circle cx="1027.7" cy="4097.5" r="3.7"/><circle cx="1028.5" cy="4102.2" r="3.7"/><circle cx="1032.8" cy="4094.6" r="3.7"/><circle cx="1034.9" cy="4090.0" r="3.7"/><circle cx="1036.5" cy="4116.7" r="3.7"/><circle cx="1039.3" cy="4095.2" r="3.7"/><circle cx="1043.0" cy="4101.8" r="3.7"/><circle cx="1044.8" cy="4096.2" r="3.7"/><circle cx="1047.9" cy="4090.4" r="3.7"/><circle cx="1050.5" cy="4108.1" r="3.7"/><circle cx="1054.6" cy="4100.3" r="3.7"/><circle cx="1056.3" cy="4099.9" r="3.7"/><circle cx="1058.7" cy="4077.6" r="3.7"/><circle cx="1062.7" cy="4099.4" r="3.7"/><circle cx="1065.4" cy="4104.1" r="3.7"/><circle cx="1067.6" cy="4099.4" r="3.7"/><circle cx="1069.2" cy="4095.7" r="3.7"/><circle cx="1073.4" cy="4107.1" r="3.7"/><circle cx="1075.2" cy="4099.1" r="3.7"/></g>
<polyline points="187.0,4097.0 188.0,4097.0 189.0,4097.0 190.0,4097.0 191.0,4097.0 192.0,4097.0 193.0,4097.0 194.0,4097.0 195.0,4097.0 196.0,4097.0 197.0,4097.0 198.0,4097.0 199.0,4097.0 200.0,4097.0 201.0,4097.0 202.0,4097.0 203.0,4097.0 204.0,4097.0 205.0,4097.0 206.0,4097.0 207.0,4097.0 208.0,4097.0 209.0,4097.0 210.0,4097.0 211.0,4097.0 212.0,4097.0 213.0,4097.0 214.0,4097.0 215.0,4097.0 216.0,4097.0 217.0,4097.0 218.0,4097.0 219.0,4097.0 220.0,4097.0 221.0,4097.0 222.0,4097.0 223.0,4097.0 224.0,4097.0 225.0,4097.0 226.0,4097.0 227.0,4097.0 228.0,4097.0 229.0,4097.0 230.0,4097.0 231.0,4097.0 232.0,4097.0 233.0,4097.0 234.0,4097.0 235.0,4097.0 236.0,4097.0 237.0,4097.0 238.0,4097.0 239.0,4097.0 240.0,4097.0 241.0,4097.0 242.0,4097.0 243.0,4097.0 244.0,4097.0 245.0,4097.0 246.0,4097.0 247.0,4097.0 248.0,4097.0 249.0,4097.0 250.0,4097.0 251.0,4097.0 252.0,4097.0 253.0,4097.0 254.0,4097.0 255.0,4097.0 256.0,4097.0 257.0,4097.0 258.0,4097.0 259.0,4097.0 260.0,4097.0 261.0,4097.0 262.0,4097.0 263.0,4097.0 264.0,4097.0 265.0,4097.0 266.0,4097.0 267.0,4097.0 268.0,4097.0 269.0,4097.0 270.0,4097.0 271.0,4097.0 272.0,4097.0 273.0,4097.0 274.0,4097.0 275.0,4097.0 276.0,4097.0 277.0,4097.0 278.0,4097.0 279.0,4097.0 280.0,4097.0 281.0,4097.0 282.0,4097.0 283.0,4097.0 284.0,4097.0 285.0,4097.0 286.0,4097.0 287.0,4097.0 288.0,4097.0 289.0,4097.0 290.0,4097.0 291.0,4097.0 292.0,4097.0 293.0,4097.0 294.0,4097.0 295.0,4097.0 296.0,4097.0 297.0,4097.0 298.0,4097.0 299.0,4097.0 300.0,4097.0 301.0,4097.0 302.0,4097.0 303.0,4097.0 304.0,4097.0 305.0,4097.0 306.0,4097.0 307.0,4097.0 308.0,4097.0 309.0,4097.0 310.0,4097.0 311.0,4097.0 312.0,4097.0 313.0,4097.0 314.0,4097.0 315.0,4097.0 316.0,4097.0 317.0,4097.0 318.0,4097.0 319.0,4097.0 320.0,4097.0 321.0,4097.0 322.0,4097.0 323.0,4097.0 324.0,4097.0 325.0,4097.0 326.0,4097.0 327.0,4097.0 328.0,4097.0 329.0,4097.0 330.0,4097.0 331.0,4097.0 332.0,4097.0 333.0,4097.0 334.0,4097.0 335.0,4097.0 336.0,4097.0 337.0,4097.0 338.0,4097.0 339.0,4097.0 340.0,4097.0 341.0,4097.0 342.0,4097.0 343.0,4097.0 344.0,4097.0 345.0,4097.0 346.0,4097.0 347.0,4097.0 348.0,4097.0 349.0,4097.0 350.0,4097.0 351.0,4097.0 352.0,4097.0 353.0,4097.0 354.0,4097.0 355.0,4097.0 356.0,4097.0 357.0,4097.0 358.0,4097.0 359.0,4097.0 360.0,4097.0 361.0,4097.0 362.0,4097.0 363.0,4097.0 364.0,4097.0 365.0,4097.0 366.0,4097.0 367.0,4097.0 368.0,4097.0 369.0,4097.0 370.0,4097.0 371.0,4097.0 372.0,4097.0 373.0,4097.0 374.0,4097.0 375.0,4097.0 376.0,4097.0 377.0,4097.0 378.0,4097.0 379.0,4097.0 380.0,4097.0 381.0,4097.0 382.0,4097.0 383.0,4097.0 384.0,4097.0 385.0,4097.0 386.0,4097.0 387.0,4097.0 388.0,4097.0 389.0,4097.0 390.0,4097.0 391.0,4097.0 392.0,4097.0 393.0,4097.0 394.0,4097.0 395.0,4097.0 396.0,4097.0 397.0,4097.0 398.0,4097.0 399.0,4097.0 400.0,4097.0 401.0,4097.0 402.0,4097.0 403.0,4097.0 404.0,4097.0 405.0,4097.0 406.0,4097.0 407.0,4097.0 408.0,4097.0 409.0,4097.0 410.0,4097.0 411.0,4097.0 412.0,4097.0 413.0,4097.0 414.0,4096.9 415.0,4096.9 416.0,4096.9 417.0,4096.9 418.0,4096.9 419.0,4096.9 420.0,4096.9 421.0,4096.9 422.0,4096.9 423.0,4096.9 424.0,4096.9 425.0,4096.9 426.0,4096.9 427.0,4096.9 428.0,4096.9 429.0,4096.9 430.0,4096.9 431.0,4096.9 432.0,4096.9 433.0,4096.9 434.0,4096.9 435.0,4096.8 436.0,4096.8 437.0,4096.8 438.0,4096.8 439.0,4096.8 440.0,4096.8 441.0,4096.8 442.0,4096.8 443.0,4096.8 444.0,4096.8 445.0,4096.8 446.0,4096.7 447.0,4096.7 448.0,4096.7 449.0,4096.7 450.0,4096.7 451.0,4096.7 452.0,4096.7 453.0,4096.6 454.0,4096.6 455.0,4096.6 456.0,4096.6 457.0,4096.6 458.0,4096.6 459.0,4096.5 460.0,4096.5 461.0,4096.5 462.0,4096.5 463.0,4096.4 464.0,4096.4 465.0,4096.4 466.0,4096.4 467.0,4096.3 468.0,4096.3 469.0,4096.3 470.0,4096.2 471.0,4096.2 472.0,4096.2 473.0,4096.1 474.0,4096.1 475.0,4096.1 476.0,4096.0 477.0,4096.0 478.0,4095.9 479.0,4095.9 480.0,4095.8 481.0,4095.8 482.0,4095.7 483.0,4095.7 484.0,4095.6 485.0,4095.6 486.0,4095.5 487.0,4095.4 488.0,4095.4 489.0,4095.3 490.0,4095.2 491.0,4095.2 492.0,4095.1 493.0,4095.0 494.0,4094.9 495.0,4094.9 496.0,4094.8 497.0,4094.7 498.0,4094.6 499.0,4094.5 500.0,4094.4 501.0,4094.3 502.0,4094.2 503.0,4094.1 504.0,4094.0 505.0,4093.8 506.0,4093.7 507.0,4093.6 508.0,4093.5 509.0,4093.3 510.0,4093.2 511.0,4093.0 512.0,4092.9 513.0,4092.7 514.0,4092.6 515.0,4092.4 516.0,4092.3 517.0,4092.1 518.0,4091.9 519.0,4091.7 520.0,4091.5 521.0,4091.3 522.0,4091.1 523.0,4090.9 524.0,4090.7 525.0,4090.5 526.0,4090.3 527.0,4090.0 528.0,4089.8 529.0,4089.5 530.0,4089.3 531.0,4089.0 532.0,4088.8 533.0,4088.5 534.0,4088.2 535.0,4087.9 536.0,4087.6 537.0,4087.3 538.0,4087.0 539.0,4086.6 540.0,4086.3 541.0,4085.9 542.0,4085.6 543.0,4085.2 544.0,4084.8 545.0,4084.5 546.0,4084.1 547.0,4083.7 548.0,4083.2 549.0,4082.8 550.0,4082.4 551.0,4081.9 552.0,4081.4 553.0,4081.0 554.0,4080.5 555.0,4080.0 556.0,4079.5 557.0,4078.9 558.0,4078.4 559.0,4077.9 560.0,4077.3 561.0,4076.7 562.0,4076.1 563.0,4075.5 564.0,4074.9 565.0,4074.2 566.0,4073.6 567.0,4072.9 568.0,4072.2 569.0,4071.5 570.0,4070.8 571.0,4070.1 572.0,4069.3 573.0,4068.5 574.0,4067.7 575.0,4066.9 576.0,4066.1 577.0,4065.3 578.0,4064.4 579.0,4063.5 580.0,4062.6 581.0,4061.7 582.0,4060.7 583.0,4059.7 584.0,4058.7 585.0,4057.7 586.0,4056.7 587.0,4055.6 588.0,4054.5 589.0,4053.4 590.0,4052.2 591.0,4051.0 592.0,4049.8 593.0,4048.6 594.0,4047.4 595.0,4046.1 596.0,4044.7 597.0,4043.4 598.0,4042.0 599.0,4040.6 600.0,4039.2 601.0,4037.7 602.0,4036.1 603.0,4034.6 604.0,4033.0 605.0,4031.4 606.0,4029.7 607.0,4028.0 608.0,4026.2 609.0,4024.4 610.0,4022.6 611.0,4020.7 612.0,4018.8 613.0,4016.8 614.0,4014.8 615.0,4012.7 616.0,4010.6 617.0,4008.4 618.0,4006.1 619.0,4003.8 620.0,4001.5 621.0,3999.1 622.0,3996.6 623.0,3994.1 624.0,3991.5 625.0,3988.9 626.0,3986.1 627.0,3983.4 628.0,3980.5 629.0,3977.6 630.0,3974.6 631.0,3971.5 632.0,3968.4 633.0,3965.2 634.0,3961.9 635.0,3958.6 636.0,3955.1 637.0,3951.6 638.0,3948.0 639.0,3944.3 640.0,3940.5 641.0,3936.7 642.0,3932.7 643.0,3928.7 644.0,3924.6 645.0,3920.4 646.0,3916.1 647.0,3911.7 648.0,3907.3 649.0,3902.7 650.0,3898.1 651.0,3893.3 652.0,3888.5 653.0,3883.6 654.0,3878.6 655.0,3873.5 656.0,3868.3 657.0,3863.0 658.0,3857.7 659.0,3852.2 660.0,3846.7 661.0,3841.0 662.0,3835.3 663.0,3829.5 664.0,3823.7 665.0,3817.7 666.0,3811.7 667.0,3805.6 668.0,3799.4 669.0,3793.2 670.0,3786.9 671.0,3780.5 672.0,3774.1 673.0,3767.6 674.0,3761.0 675.0,3754.4 676.0,3747.8 677.0,3741.1 678.0,3734.4 679.0,3727.7 680.0,3720.9 681.0,3714.1 682.0,3707.3 683.0,3700.5 684.0,3693.7 685.0,3686.9 686.0,3680.1 687.0,3673.3 688.0,3666.5 689.0,3659.7 690.0,3653.0 691.0,3646.3 692.0,3639.6 693.0,3633.0 694.0,3626.5 695.0,3620.0 696.0,3613.6 697.0,3607.3 698.0,3601.0 699.0,3594.9 700.0,3588.8 701.0,3582.9 702.0,3577.0 703.0,3571.3 704.0,3565.7 705.0,3560.3 706.0,3554.9 707.0,3549.8 708.0,3544.7 709.0,3539.9 710.0,3535.2 711.0,3530.6 712.0,3526.3 713.0,3522.1 714.0,3518.1 715.0,3514.3 716.0,3510.7 717.0,3507.3 718.0,3504.1 719.0,3501.1 720.0,3498.4 721.0,3495.8 722.0,3493.5 723.0,3491.4 724.0,3489.5 725.0,3487.9 726.0,3486.5 727.0,3485.3 728.0,3484.4 729.0,3483.7 730.0,3483.2 731.0,3483.0 732.0,3483.0 733.0,3483.3 734.0,3483.8 735.0,3484.6 736.0,3485.5 737.0,3486.8 738.0,3488.2 739.0,3489.9 740.0,3491.8 741.0,3493.9 742.0,3496.3 743.0,3498.9 744.0,3501.7 745.0,3504.7 746.0,3508.0 747.0,3511.4 748.0,3515.0 749.0,3518.9 750.0,3522.9 751.0,3527.1 752.0,3531.5 753.0,3536.1 754.0,3540.8 755.0,3545.7 756.0,3550.8 757.0,3556.0 758.0,3561.3 759.0,3566.8 760.0,3572.5 761.0,3578.2 762.0,3584.1 763.0,3590.0 764.0,3596.1 765.0,3602.3 766.0,3608.5 767.0,3614.9 768.0,3621.3 769.0,3627.8 770.0,3634.4 771.0,3641.0 772.0,3647.6 773.0,3654.3 774.0,3661.1 775.0,3667.8 776.0,3674.6 777.0,3681.4 778.0,3688.2 779.0,3695.1 780.0,3701.9 781.0,3708.7 782.0,3715.5 783.0,3722.3 784.0,3729.0 785.0,3735.8 786.0,3742.5 787.0,3749.1 788.0,3755.8 789.0,3762.3 790.0,3768.9 791.0,3775.4 792.0,3781.8 793.0,3788.1 794.0,3794.4 795.0,3800.7 796.0,3806.8 797.0,3812.9 798.0,3818.9 799.0,3824.8 800.0,3830.7 801.0,3836.5 802.0,3842.2 803.0,3847.8 804.0,3853.3 805.0,3858.7 806.0,3864.1 807.0,3869.3 808.0,3874.5 809.0,3879.6 810.0,3884.6 811.0,3889.5 812.0,3894.3 813.0,3899.0 814.0,3903.6 815.0,3908.2 816.0,3912.6 817.0,3917.0 818.0,3921.3 819.0,3925.4 820.0,3929.5 821.0,3933.5 822.0,3937.5 823.0,3941.3 824.0,3945.0 825.0,3948.7 826.0,3952.3 827.0,3955.8 828.0,3959.2 829.0,3962.6 830.0,3965.8 831.0,3969.0 832.0,3972.2 833.0,3975.2 834.0,3978.2 835.0,3981.1 836.0,3983.9 837.0,3986.7 838.0,3989.4 839.0,3992.0 840.0,3994.6 841.0,3997.1 842.0,3999.6 843.0,4002.0 844.0,4004.3 845.0,4006.6 846.0,4008.8 847.0,4011.0 848.0,4013.1 849.0,4015.2 850.0,4017.2 851.0,4019.2 852.0,4021.1 853.0,4023.0 854.0,4024.8 855.0,4026.6 856.0,4028.3 857.0,4030.0 858.0,4031.7 859.0,4033.3 860.0,4034.9 861.0,4036.5 862.0,4038.0 863.0,4039.4 864.0,4040.9 865.0,4042.3 866.0,4043.7 867.0,4045.0 868.0,4046.3 869.0,4047.6 870.0,4048.9 871.0,4050.1 872.0,4051.3 873.0,4052.5 874.0,4053.6 875.0,4054.7 876.0,4055.8 877.0,4056.9 878.0,4057.9 879.0,4058.9 880.0,4059.9 881.0,4060.9 882.0,4061.8 883.0,4062.8 884.0,4063.7 885.0,4064.6 886.0,4065.4 887.0,4066.3 888.0,4067.1 889.0,4067.9 890.0,4068.7 891.0,4069.5 892.0,4070.2 893.0,4070.9 894.0,4071.7 895.0,4072.4 896.0,4073.0 897.0,4073.7 898.0,4074.4 899.0,4075.0 900.0,4075.6 901.0,4076.2 902.0,4076.8 903.0,4077.4 904.0,4078.0 905.0,4078.5 906.0,4079.1 907.0,4079.6 908.0,4080.1 909.0,4080.6 910.0,4081.1 911.0,4081.5 912.0,4082.0 913.0,4082.5 914.0,4082.9 915.0,4083.3 916.0,4083.7 917.0,4084.1 918.0,4084.5 919.0,4084.9 920.0,4085.3 921.0,4085.7 922.0,4086.0 923.0,4086.4 924.0,4086.7 925.0,4087.0 926.0,4087.3 927.0,4087.7 928.0,4088.0 929.0,4088.3 930.0,4088.5 931.0,4088.8 932.0,4089.1 933.0,4089.3 934.0,4089.6 935.0,4089.8 936.0,4090.1 937.0,4090.3 938.0,4090.5 939.0,4090.8 940.0,4091.0 941.0,4091.2 942.0,4091.4 943.0,4091.6 944.0,4091.8 945.0,4091.9 946.0,4092.1 947.0,4092.3 948.0,4092.5 949.0,4092.6 950.0,4092.8 951.0,4092.9 952.0,4093.1 953.0,4093.2 954.0,4093.4 955.0,4093.5 956.0,4093.6 957.0,4093.7 958.0,4093.9 959.0,4094.0 960.0,4094.1 961.0,4094.2 962.0,4094.3 963.0,4094.4 964.0,4094.5 965.0,4094.6 966.0,4094.7 967.0,4094.8 968.0,4094.9 969.0,4094.9 970.0,4095.0 971.0,4095.1 972.0,4095.2 973.0,4095.3 974.0,4095.3 975.0,4095.4 976.0,4095.5 977.0,4095.5 978.0,4095.6 979.0,4095.6 980.0,4095.7 981.0,4095.7 982.0,4095.8 983.0,4095.8 984.0,4095.9 985.0,4095.9 986.0,4096.0 987.0,4096.0 988.0,4096.1 989.0,4096.1 990.0,4096.1 991.0,4096.2 992.0,4096.2 993.0,4096.2 994.0,4096.3 995.0,4096.3 996.0,4096.3 997.0,4096.4 998.0,4096.4 999.0,4096.4 1000.0,4096.4 1001.0,4096.5 1002.0,4096.5 1003.0,4096.5 1004.0,4096.5 1005.0,4096.6 1006.0,4096.6 1007.0,4096.6 1008.0,4096.6 1009.0,4096.6 1010.0,4096.6 1011.0,4096.7 1012.0,4096.7 1013.0,4096.7 1014.0,4096.7 1015.0,4096.7 1016.0,4096.7 1017.0,4096.7 1018.0,4096.8 1019.0,4096.8 1020.0,4096.8 1021.0,4096.8 1022.0,4096.8 1023.0,4096.8 1024.0,4096.8 1025.0,4096.8 1026.0,4096.8 1027.0,4096.8 1028.0,4096.9 1029.0,4096.9 1030.0,4096.9 1031.0,4096.9 1032.0,4096.9 1033.0,4096.9 1034.0,4096.9 1035.0,4096.9 1036.0,4096.9 1037.0,4096.9 1038.0,4096.9 1039.0,4096.9 1040.0,4096.9 1041.0,4096.9 1042.0,4096.9 1043.0,4096.9 1044.0,4096.9 1045.0,4096.9 1046.0,4096.9 1047.0,4096.9 1048.0,4096.9 1049.0,4096.9 1050.0,4097.0 1051.0,4097.0 1052.0,4097.0 1053.0,4097.0 1054.0,4097.0 1055.0,4097.0 1056.0,4097.0 1057.0,4097.0 1058.0,4097.0 1059.0,4097.0 1060.0,4097.0 1061.0,4097.0 1062.0,4097.0 1063.0,4097.0 1064.0,4097.0 1065.0,4097.0 1066.0,4097.0 1067.0,4097.0 1068.0,4097.0 1069.0,4097.0 1070.0,4097.0 1071.0,4097.0 1072.0,4097.0 1073.0,4097.0 1074.0,4097.0 1075.0,4097.0 1076.0,4097.0" fill="none" stroke="#444" stroke-width="1.8" stroke-linejoin="round"/>
<rect x="1269" y="3410" width="896" height="721" fill="none" stroke="#7a7a7a" stroke-width="3"/>
<line x1="1269.0" y1="4131.0" x2="2165.0" y2="4131.0" stroke="#5c5c5c" stroke-width="3"/>
<line x1="1355.2" y1="4131.0" x2="1355.2" y2="4146.0" stroke="#444" stroke-width="2.5"/>
<line x1="1511.2" y1="4131.0" x2="1511.2" y2="4146.0" stroke="#444" stroke-width="2.5"/>
<line x1="1667.2" y1="4131.0" x2="1667.2" y2="4146.0" stroke="#444" stroke-width="2.5"/>
<line x1="1823.2" y1="4131.0" x2="1823.2" y2="4146.0" stroke="#444" stroke-width="2.5"/>
<line x1="1979.2" y1="4131.0" x2="1979.2" y2="4146.0" stroke="#444" stroke-width="2.5"/>
<line x1="2135.2" y1="4131.0" x2="2135.2" y2="4146.0" stroke="#444" stroke-width="2.5"/>
<line x1="1277.2" y1="4131.0" x2="1277.2" y2="4138.0" stroke="#444" stroke-width="2.5"/>
<line x1="1433.2" y1="4131.0" x2="1433.2" y2="4138.0" stroke="#444" stroke-width="2.5"/>
<line x1="1589.2" y1="4131.0" x2="1589.2" y2="4138.0" stroke="#444" stroke-width="2.5"/>
<line x1="1745.2" y1="4131.0" x2="1745.2" y2="4138.0" stroke="#444" stroke-width="2.5"/>
<line x1="1901.2" y1="4131.0" x2="1901.2" y2="4138.0" stroke="#444" stroke-width="2.5"/>
<line x1="2057.2" y1="4131.0" x2="2057.2" y2="4138.0" stroke="#444" stroke-width="2.5"/>
<text transform="translate(1317.42,4189.60) scale(0.9517,1)" font-family="'Liberation Sans', Arial, sans-serif" font-size="46.69" fill="#000" stroke="#000" stroke-width="0.7">136</text>
<text transform="translate(1473.09,4189.60) scale(0.9517,1)" font-family="'Liberation Sans', Arial, sans-serif" font-size="46.69" fill="#000" stroke="#000" stroke-width="0.7">134</text>
<text transform="translate(1629.56,4189.60) scale(0.9517,1)" font-family="'Liberation Sans', Arial, sans-serif" font-size="46.69" fill="#000" stroke="#000" stroke-width="0.7">132</text>
<text transform="translate(1785.31,4189.60) scale(0.9517,1)" font-family="'Liberation Sans', Arial, sans-serif" font-size="46.69" fill="#000" stroke="#000" stroke-width="0.7">130</text>
<text transform="translate(1941.40,4189.60) scale(0.9517,1)" font-family="'Liberation Sans', Arial, sans-serif" font-size="46.69" fill="#000" stroke="#000" stroke-width="0.7">128</text>
<text transform="translate(2097.42,4189.60) scale(0.9517,1)" font-family="'Liberation Sans', Arial, sans-serif" font-size="46.69" fill="#000" stroke="#000" stroke-width="0.7">126</text>
<text transform="translate(1444.46,4278.70) scale(0.9679,1)" font-family="'Liberation Sans', Arial, sans-serif" font-size="63.52" fill="#000" stroke="#000" stroke-width="0.7">Binding energy (eV)</text>
<text transform="translate(1206.30,3945.21) rotate(-90) scale(0.9416,1)" font-family="'Liberation Sans', Arial, sans-serif" font-size="65.70" fill="#000" stroke="#000" stroke-width="0.7">Intensity (a.u.)</text>
<text transform="translate(1309.03,3491.00) scale(0.9600,1)" font-family="'Liberation Sans', Arial, sans-serif" font-size="50.44" fill="#000" stroke="#000" stroke-width="0.7">P 2p</text>
<polyline points="1282.0,4074.0 1283.0,4074.0 1284.0,4074.0 1285.0,4074.1 1286.0,4074.1 1287.0,4074.1 1288.0,4074.1 1289.0,4074.1 1290.0,4074.2 1291.0,4074.2 1292.0,4074.2 1293.0,4074.2 1294.0,4074.2 1295.0,4074.3 1296.0,4074.3 1297.0,4074.3 1298.0,4074.3 1299.0,4074.3 1300.0,4074.4 1301.0,4074.4 1302.0,4074.4 1303.0,4074.4 1304.0,4074.4 1305.0,4074.5 1306.0,4074.5 1307.0,4074.5 1308.0,4074.5 1309.0,4074.5 1310.0,4074.6 1311.0,4074.6 1312.0,4074.6 1313.0,4074.6 1314.0,4074.6 1315.0,4074.7 1316.0,4074.7 1317.0,4074.7 1318.0,4074.7 1319.0,4074.7 1320.0,4074.8 1321.0,4074.8 1322.0,4074.8 1323.0,4074.8 1324.0,4074.8 1325.0,4074.9 1326.0,4074.9 1327.0,4074.9 1328.0,4074.9 1329.0,4074.9 1330.0,4075.0 1331.0,4075.0 1332.0,4075.0 1333.0,4075.0 1334.0,4075.0 1335.0,4075.1 1336.0,4075.1 1337.0,4075.1 1338.0,4075.1 1339.0,4075.1 1340.0,4075.2 1341.0,4075.2 1342.0,4075.2 1343.0,4075.2 1344.0,4075.2 1345.0,4075.3 1346.0,4075.3 1347.0,4075.3 1348.0,4075.3 1349.0,4075.3 1350.0,4075.4 1351.0,4075.4 1352.0,4075.4 1353.0,4075.4 1354.0,4075.4 1355.0,4075.5 1356.0,4075.5 1357.0,4075.5 1358.0,4075.5 1359.0,4075.5 1360.0,4075.6 1361.0,4075.6 1362.0,4075.6 1363.0,4075.6 1364.0,4075.6 1365.0,4075.7 1366.0,4075.7 1367.0,4075.7 1368.0,4075.7 1369.0,4075.7 1370.0,4075.8 1371.0,4075.8 1372.0,4075.8 1373.0,4075.8 1374.0,4075.8 1375.0,4075.9 1376.0,4075.9 1377.0,4075.9 1378.0,4075.9 1379.0,4075.9 1380.0,4076.0 1381.0,4076.0 1382.0,4076.0 1383.0,4076.0 1384.0,4076.0 1385.0,4076.1 1386.0,4076.1 1387.0,4076.1 1388.0,4076.1 1389.0,4076.1 1390.0,4076.2 1391.0,4076.2 1392.0,4076.2 1393.0,4076.2 1394.0,4076.2 1395.0,4076.3 1396.0,4076.3 1397.0,4076.3 1398.0,4076.3 1399.0,4076.3 1400.0,4076.4 1401.0,4076.4 1402.0,4076.4 1403.0,4076.4 1404.0,4076.4 1405.0,4076.5 1406.0,4076.5 1407.0,4076.5 1408.0,4076.5 1409.0,4076.5 1410.0,4076.6 1411.0,4076.6 1412.0,4076.6 1413.0,4076.6 1414.0,4076.6 1415.0,4076.7 1416.0,4076.7 1417.0,4076.7 1418.0,4076.7 1419.0,4076.7 1420.0,4076.8 1421.0,4076.8 1422.0,4076.8 1423.0,4076.8 1424.0,4076.8 1425.0,4076.9 1426.0,4076.9 1427.0,4076.9 1428.0,4076.9 1429.0,4076.9 1430.0,4077.0 1431.0,4077.0 1432.0,4077.0 1433.0,4077.0 1434.0,4077.0 1435.0,4077.1 1436.0,4077.1 1437.0,4077.1 1438.0,4077.1 1439.0,4077.1 1440.0,4077.2 1441.0,4077.2 1442.0,4077.2 1443.0,4077.2 1444.0,4077.2 1445.0,4077.3 1446.0,4077.3 1447.0,4077.3 1448.0,4077.3 1449.0,4077.3 1450.0,4077.4 1451.0,4077.4 1452.0,4077.4 1453.0,4077.4 1454.0,4077.4 1455.0,4077.5 1456.0,4077.5 1457.0,4077.5 1458.0,4077.5 1459.0,4077.5 1460.0,4077.6 1461.0,4077.6 1462.0,4077.6 1463.0,4077.6 1464.0,4077.6 1465.0,4077.7 1466.0,4077.7 1467.0,4077.7 1468.0,4077.7 1469.0,4077.7 1470.0,4077.8 1471.0,4077.8 1472.0,4077.8 1473.0,4077.8 1474.0,4077.8 1475.0,4077.9 1476.0,4077.9 1477.0,4077.9 1478.0,4077.9 1479.0,4077.9 1480.0,4078.0 1481.0,4078.0 1482.0,4078.0 1483.0,4078.0 1484.0,4078.0 1485.0,4078.1 1486.0,4078.1 1487.0,4078.1 1488.0,4078.1 1489.0,4078.1 1490.0,4078.2 1491.0,4078.2 1492.0,4078.2 1493.0,4078.2 1494.0,4078.2 1495.0,4078.3 1496.0,4078.3 1497.0,4078.3 1498.0,4078.3 1499.0,4078.3 1500.0,4078.4 1501.0,4078.4 1502.0,4078.4 1503.0,4078.4 1504.0,4078.4 1505.0,4078.5 1506.0,4078.5 1507.0,4078.5 1508.0,4078.5 1509.0,4078.5 1510.0,4078.6 1511.0,4078.6 1512.0,4078.6 1513.0,4078.6 1514.0,4078.6 1515.0,4078.7 1516.0,4078.7 1517.0,4078.7 1518.0,4078.7 1519.0,4078.7 1520.0,4078.8 1521.0,4078.8 1522.0,4078.8 1523.0,4078.8 1524.0,4078.8 1525.0,4078.9 1526.0,4078.9 1527.0,4078.9 1528.0,4078.9 1529.0,4078.9 1530.0,4079.0 1531.0,4079.0 1532.0,4079.0 1533.0,4079.0 1534.0,4079.0 1535.0,4079.1 1536.0,4079.1 1537.0,4079.1 1538.0,4079.1 1539.0,4079.1 1540.0,4079.2 1541.0,4079.2 1542.0,4079.2 1543.0,4079.2 1544.0,4079.2 1545.0,4079.3 1546.0,4079.3 1547.0,4079.3 1548.0,4079.3 1549.0,4079.3 1550.0,4079.4 1551.0,4079.4 1552.0,4079.4 1553.0,4079.4 1554.0,4079.4 1555.0,4079.5 1556.0,4079.5 1557.0,4079.5 1558.0,4079.5 1559.0,4079.5 1560.0,4079.6 1561.0,4079.6 1562.0,4079.6 1563.0,4079.6 1564.0,4079.6 1565.0,4079.7 1566.0,4079.7 1567.0,4079.7 1568.0,4079.7 1569.0,4079.7 1570.0,4079.8 1571.0,4079.8 1572.0,4079.8 1573.0,4079.8 1574.0,4079.8 1575.0,4079.9 1576.0,4079.9 1577.0,4079.9 1578.0,4079.9 1579.0,4079.9 1580.0,4080.0 1581.0,4080.0 1582.0,4080.0 1583.0,4080.0 1584.0,4080.0 1585.0,4080.1 1586.0,4080.1 1587.0,4080.1 1588.0,4080.1 1589.0,4080.1 1590.0,4080.2 1591.0,4080.2 1592.0,4080.2 1593.0,4080.2 1594.0,4080.2 1595.0,4080.3 1596.0,4080.3 1597.0,4080.3 1598.0,4080.3 1599.0,4080.3 1600.0,4080.4 1601.0,4080.4 1602.0,4080.4 1603.0,4080.4 1604.0,4080.4 1605.0,4080.5 1606.0,4080.5 1607.0,4080.5 1608.0,4080.5 1609.0,4080.5 1610.0,4080.6 1611.0,4080.6 1612.0,4080.6 1613.0,4080.6 1614.0,4080.6 1615.0,4080.7 1616.0,4080.7 1617.0,4080.7 1618.0,4080.7 1619.0,4080.7 1620.0,4080.8 1621.0,4080.8 1622.0,4080.8 1623.0,4080.8 1624.0,4080.8 1625.0,4080.9 1626.0,4080.9 1627.0,4080.9 1628.0,4080.9 1629.0,4080.9 1630.0,4081.0 1631.0,4081.0 1632.0,4081.0 1633.0,4081.0 1634.0,4081.0 1635.0,4081.1 1636.0,4081.1 1637.0,4081.1 1638.0,4081.1 1639.0,4081.1 1640.0,4081.2 1641.0,4081.2 1642.0,4081.2 1643.0,4081.2 1644.0,4081.2 1645.0,4081.3 1646.0,4081.3 1647.0,4081.3 1648.0,4081.3 1649.0,4081.3 1650.0,4081.4 1651.0,4081.4 1652.0,4081.4 1653.0,4081.4 1654.0,4081.4 1655.0,4081.5 1656.0,4081.5 1657.0,4081.5 1658.0,4081.5 1659.0,4081.5 1660.0,4081.6 1661.0,4081.6 1662.0,4081.6 1663.0,4081.6 1664.0,4081.6 1665.0,4081.7 1666.0,4081.7 1667.0,4081.7 1668.0,4081.7 1669.0,4081.7 1670.0,4081.8 1671.0,4081.8 1672.0,4081.8 1673.0,4081.8 1674.0,4081.8 1675.0,4081.9 1676.0,4081.9 1677.0,4081.9 1678.0,4081.9 1679.0,4081.9 1680.0,4082.0 1681.0,4082.0 1682.0,4082.0 1683.0,4082.0 1684.0,4082.0 1685.0,4082.1 1686.0,4082.1 1687.0,4082.1 1688.0,4082.1 1689.0,4082.1 1690.0,4082.2 1691.0,4082.2 1692.0,4082.2 1693.0,4082.2 1694.0,4082.2 1695.0,4082.3 1696.0,4082.3 1697.0,4082.3 1698.0,4082.3 1699.0,4082.3 1700.0,4082.4 1701.0,4082.4 1702.0,4082.4 1703.0,4082.4 1704.0,4082.4 1705.0,4082.5 1706.0,4082.5 1707.0,4082.5 1708.0,4082.5 1709.0,4082.5 1710.0,4082.6 1711.0,4082.6 1712.0,4082.6 1713.0,4082.6 1714.0,4082.6 1715.0,4082.7 1716.0,4082.7 1717.0,4082.7 1718.0,4082.7 1719.0,4082.7 1720.0,4082.8 1721.0,4082.8 1722.0,4082.8 1723.0,4082.8 1724.0,4082.8 1725.0,4082.9 1726.0,4082.9 1727.0,4082.9 1728.0,4082.9 1729.0,4082.9 1730.0,4083.0 1731.0,4083.0 1732.0,4083.0 1733.0,4083.0 1734.0,4083.0 1735.0,4083.1 1736.0,4083.1 1737.0,4083.1 1738.0,4083.1 1739.0,4083.1 1740.0,4083.2 1741.0,4083.2 1742.0,4083.2 1743.0,4083.2 1744.0,4083.2 1745.0,4083.3 1746.0,4083.3 1747.0,4083.3 1748.0,4083.3 1749.0,4083.3 1750.0,4083.4 1751.0,4083.4 1752.0,4083.4 1753.0,4083.4 1754.0,4083.4 1755.0,4083.5 1756.0,4083.5 1757.0,4083.5 1758.0,4083.5 1759.0,4083.5 1760.0,4083.6 1761.0,4083.6 1762.0,4083.6 1763.0,4083.6 1764.0,4083.6 1765.0,4083.7 1766.0,4083.7 1767.0,4083.7 1768.0,4083.7 1769.0,4083.7 1770.0,4083.8 1771.0,4083.8 1772.0,4083.8 1773.0,4083.8 1774.0,4083.8 1775.0,4083.9 1776.0,4083.9 1777.0,4083.9 1778.0,4083.9 1779.0,4083.9 1780.0,4084.0 1781.0,4084.0 1782.0,4084.0 1783.0,4084.0 1784.0,4084.0 1785.0,4084.1 1786.0,4084.1 1787.0,4084.1 1788.0,4084.1 1789.0,4084.1 1790.0,4084.2 1791.0,4084.2 1792.0,4084.2 1793.0,4084.2 1794.0,4084.2 1795.0,4084.3 1796.0,4084.3 1797.0,4084.3 1798.0,4084.3 1799.0,4084.3 1800.0,4084.4 1801.0,4084.4 1802.0,4084.4 1803.0,4084.4 1804.0,4084.4 1805.0,4084.5 1806.0,4084.5 1807.0,4084.5 1808.0,4084.5 1809.0,4084.5 1810.0,4084.6 1811.0,4084.6 1812.0,4084.6 1813.0,4084.6 1814.0,4084.6 1815.0,4084.7 1816.0,4084.7 1817.0,4084.7 1818.0,4084.7 1819.0,4084.7 1820.0,4084.8 1821.0,4084.8 1822.0,4084.8 1823.0,4084.8 1824.0,4084.8 1825.0,4084.9 1826.0,4084.9 1827.0,4084.9 1828.0,4084.9 1829.0,4084.9 1830.0,4085.0 1831.0,4085.0 1832.0,4085.0 1833.0,4085.0 1834.0,4085.0 1835.0,4085.1 1836.0,4085.1 1837.0,4085.1 1838.0,4085.1 1839.0,4085.1 1840.0,4085.2 1841.0,4085.2 1842.0,4085.2 1843.0,4085.2 1844.0,4085.2 1845.0,4085.3 1846.0,4085.3 1847.0,4085.3 1848.0,4085.3 1849.0,4085.3 1850.0,4085.4 1851.0,4085.4 1852.0,4085.4 1853.0,4085.4 1854.0,4085.4 1855.0,4085.5 1856.0,4085.5 1857.0,4085.5 1858.0,4085.5 1859.0,4085.5 1860.0,4085.6 1861.0,4085.6 1862.0,4085.6 1863.0,4085.6 1864.0,4085.6 1865.0,4085.7 1866.0,4085.7 1867.0,4085.7 1868.0,4085.7 1869.0,4085.7 1870.0,4085.8 1871.0,4085.8 1872.0,4085.8 1873.0,4085.8 1874.0,4085.8 1875.0,4085.9 1876.0,4085.9 1877.0,4085.9 1878.0,4085.9 1879.0,4085.9 1880.0,4086.0 1881.0,4086.0 1882.0,4086.0 1883.0,4086.0 1884.0,4086.0 1885.0,4086.1 1886.0,4086.1 1887.0,4086.1 1888.0,4086.1 1889.0,4086.1 1890.0,4086.2 1891.0,4086.2 1892.0,4086.2 1893.0,4086.2 1894.0,4086.2 1895.0,4086.3 1896.0,4086.3 1897.0,4086.3 1898.0,4086.3 1899.0,4086.3 1900.0,4086.4 1901.0,4086.4 1902.0,4086.4 1903.0,4086.4 1904.0,4086.4 1905.0,4086.5 1906.0,4086.5 1907.0,4086.5 1908.0,4086.5 1909.0,4086.5 1910.0,4086.6 1911.0,4086.6 1912.0,4086.6 1913.0,4086.6 1914.0,4086.6 1915.0,4086.7 1916.0,4086.7 1917.0,4086.7 1918.0,4086.7 1919.0,4086.7 1920.0,4086.8 1921.0,4086.8 1922.0,4086.8 1923.0,4086.8 1924.0,4086.8 1925.0,4086.9 1926.0,4086.9 1927.0,4086.9 1928.0,4086.9 1929.0,4086.9 1930.0,4087.0 1931.0,4087.0 1932.0,4087.0 1933.0,4087.0 1934.0,4087.0 1935.0,4087.1 1936.0,4087.1 1937.0,4087.1 1938.0,4087.1 1939.0,4087.1 1940.0,4087.2 1941.0,4087.2 1942.0,4087.2 1943.0,4087.2 1944.0,4087.2 1945.0,4087.3 1946.0,4087.3 1947.0,4087.3 1948.0,4087.3 1949.0,4087.3 1950.0,4087.4 1951.0,4087.4 1952.0,4087.4 1953.0,4087.4 1954.0,4087.4 1955.0,4087.5 1956.0,4087.5 1957.0,4087.5 1958.0,4087.5 1959.0,4087.5 1960.0,4087.6 1961.0,4087.6 1962.0,4087.6 1963.0,4087.6 1964.0,4087.6 1965.0,4087.7 1966.0,4087.7 1967.0,4087.7 1968.0,4087.7 1969.0,4087.7 1970.0,4087.8 1971.0,4087.8 1972.0,4087.8 1973.0,4087.8 1974.0,4087.8 1975.0,4087.9 1976.0,4087.9 1977.0,4087.9 1978.0,4087.9 1979.0,4087.9 1980.0,4088.0 1981.0,4088.0 1982.0,4088.0 1983.0,4088.0 1984.0,4088.0 1985.0,4088.1 1986.0,4088.1 1987.0,4088.1 1988.0,4088.1 1989.0,4088.1 1990.0,4088.2 1991.0,4088.2 1992.0,4088.2 1993.0,4088.2 1994.0,4088.2 1995.0,4088.3 1996.0,4088.3 1997.0,4088.3 1998.0,4088.3 1999.0,4088.3 2000.0,4088.4 2001.0,4088.4 2002.0,4088.4 2003.0,4088.4 2004.0,4088.4 2005.0,4088.5 2006.0,4088.5 2007.0,4088.5 2008.0,4088.5 2009.0,4088.5 2010.0,4088.6 2011.0,4088.6 2012.0,4088.6 2013.0,4088.6 2014.0,4088.6 2015.0,4088.7 2016.0,4088.7 2017.0,4088.7 2018.0,4088.7 2019.0,4088.7 2020.0,4088.8 2021.0,4088.8 2022.0,4088.8 2023.0,4088.8 2024.0,4088.8 2025.0,4088.9 2026.0,4088.9 2027.0,4088.9 2028.0,4088.9 2029.0,4088.9 2030.0,4089.0 2031.0,4089.0 2032.0,4089.0 2033.0,4089.0 2034.0,4089.0 2035.0,4089.1 2036.0,4089.1 2037.0,4089.1 2038.0,4089.1 2039.0,4089.1 2040.0,4089.2 2041.0,4089.2 2042.0,4089.2 2043.0,4089.2 2044.0,4089.2 2045.0,4089.3 2046.0,4089.3 2047.0,4089.3 2048.0,4089.3 2049.0,4089.3 2050.0,4089.4 2051.0,4089.4 2052.0,4089.4 2053.0,4089.4 2054.0,4089.4 2055.0,4089.5 2056.0,4089.5 2057.0,4089.5 2058.0,4089.5 2059.0,4089.5 2060.0,4089.6 2061.0,4089.6 2062.0,4089.6 2063.0,4089.6 2064.0,4089.6 2065.0,4089.7 2066.0,4089.7 2067.0,4089.7 2068.0,4089.7 2069.0,4089.7 2070.0,4089.8 2071.0,4089.8 2072.0,4089.8 2073.0,4089.8 2074.0,4089.8 2075.0,4089.9 2076.0,4089.9 2077.0,4089.9 2078.0,4089.9 2079.0,4089.9 2080.0,4090.0 2081.0,4090.0 2082.0,4090.0 2083.0,4090.0 2084.0,4090.0 2085.0,4090.1 2086.0,4090.1 2087.0,4090.1 2088.0,4090.1 2089.0,4090.1 2090.0,4090.2 2091.0,4090.2 2092.0,4090.2 2093.0,4090.2 2094.0,4090.2 2095.0,4090.3 2096.0,4090.3 2097.0,4090.3 2098.0,4090.3 2099.0,4090.3 2100.0,4090.4 2101.0,4090.4 2102.0,4090.4 2103.0,4090.4 2104.0,4090.4 2105.0,4090.5 2106.0,4090.5 2107.0,4090.5 2108.0,4090.5 2109.0,4090.5 2110.0,4090.6 2111.0,4090.6 2112.0,4090.6 2113.0,4090.6 2114.0,4090.6 2115.0,4090.7 2116.0,4090.7 2117.0,4090.7" fill="none" stroke="#555" stroke-width="1.8" stroke-linejoin="round"/>
<g fill="none" stroke="#333" stroke-width="1.9"><circle cx="1286.2" cy="4052.3" r="3.9"/><circle cx="1297.2" cy="4002.2" r="3.9"/><circle cx="1299.6" cy="4052.6" r="3.9"/><circle cx="1305.7" cy="3996.5" r="3.9"/><circle cx="1305.9" cy="4026.2" r="3.9"/><circle cx="1309.2" cy="4018.2" r="3.9"/><circle cx="1310.6" cy="4042.9" r="3.9"/><circle cx="1311.1" cy="4023.7" r="3.9"/><circle cx="1311.3" cy="4039.1" r="3.9"/><circle cx="1311.9" cy="4041.3" r="3.9"/><circle cx="1314.0" cy="4021.1" r="3.9"/><circle cx="1317.2" cy="4049.2" r="3.9"/><circle cx="1323.9" cy="4032.7" r="3.9"/><circle cx="1324.6" cy="3981.9" r="3.9"/><circle cx="1341.7" cy="4000.9" r="3.9"/><circle cx="1346.9" cy="4004.8" r="3.9"/><circle cx="1347.9" cy="4020.2" r="3.9"/><circle cx="1350.9" cy="4011.3" r="3.9"/><circle cx="1351.3" cy="4035.2" r="3.9"/><circle cx="1366.2" cy="4007.1" r="3.9"/><circle cx="1368.1" cy="4041.5" r="3.9"/><circle cx="1373.6" cy="4030.5" r="3.9"/><circle cx="1373.7" cy="3981.8" r="3.9"/><circle cx="1376.5" cy="4016.9" r="3.9"/><circle cx="1385.3" cy="4001.7" r="3.9"/><circle cx="1395.0" cy="4030.8" r="3.9"/><circle cx="1395.3" cy="4052.6" r="3.9"/><circle cx="1397.3" cy="3981.6" r="3.9"/><circle cx="1397.8" cy="4008.6" r="3.9"/><circle cx="1399.6" cy="4069.8" r="3.9"/><circle cx="1399.7" cy="3986.4" r="3.9"/><circle cx="1400.4" cy="4029.0" r="3.9"/><circle cx="1402.6" cy="3967.3" r="3.9"/><circle cx="1403.4" cy="4009.7" r="3.9"/><circle cx="1415.3" cy="4001.5" r="3.9"/><circle cx="1420.7" cy="3978.1" r="3.9"/><circle cx="1424.4" cy="3979.1" r="3.9"/><circle cx="1426.9" cy="4028.0" r="3.9"/><circle cx="1427.0" cy="4004.0" r="3.9"/><circle cx="1434.3" cy="4038.3" r="3.9"/><circle cx="1434.8" cy="3984.6" r="3.9"/><circle cx="1434.9" cy="3994.3" r="3.9"/><circle cx="1438.9" cy="4036.6" r="3.9"/><circle cx="1438.9" cy="4049.2" r="3.9"/><circle cx="1440.4" cy="4022.0" r="3.9"/><circle cx="1441.0" cy="4012.3" r="3.9"/><circle cx="1442.6" cy="4016.5" r="3.9"/><circle cx="1453.5" cy="3994.0" r="3.9"/><circle cx="1454.7" cy="4048.1" r="3.9"/><circle cx="1456.1" cy="4018.9" r="3.9"/><circle cx="1466.4" cy="3969.4" r="3.9"/><circle cx="1468.5" cy="4018.0" r="3.9"/><circle cx="1470.2" cy="3975.9" r="3.9"/><circle cx="1475.8" cy="3980.0" r="3.9"/><circle cx="1482.4" cy="3982.6" r="3.9"/><circle cx="1491.9" cy="3937.7" r="3.9"/><circle cx="1493.3" cy="3972.1" r="3.9"/><circle cx="1496.3" cy="4006.2" r="3.9"/><circle cx="1497.8" cy="3929.0" r="3.9"/><circle cx="1499.6" cy="3910.0" r="3.9"/><circle cx="1507.7" cy="3937.3" r="3.9"/><circle cx="1508.8" cy="3948.3" r="3.9"/><circle cx="1512.8" cy="3949.1" r="3.9"/><circle cx="1523.6" cy="3951.4" r="3.9"/><circle cx="1526.9" cy="3902.5" r="3.9"/><circle cx="1532.6" cy="3911.9" r="3.9"/><circle cx="1532.7" cy="3908.6" r="3.9"/><circle cx="1544.5" cy="3870.3" r="3.9"/><circle cx="1544.6" cy="3880.3" r="3.9"/><circle cx="1549.6" cy="3835.8" r="3.9"/><circle cx="1552.1" cy="3841.9" r="3.9"/><circle cx="1554.4" cy="3798.5" r="3.9"/><circle cx="1565.7" cy="3776.2" r="3.9"/><circle cx="1568.8" cy="3748.0" r="3.9"/><circle cx="1576.6" cy="3682.1" r="3.9"/><circle cx="1580.0" cy="3644.4" r="3.9"/><circle cx="1582.4" cy="3664.8" r="3.9"/><circle cx="1583.7" cy="3657.0" r="3.9"/><circle cx="1589.0" cy="3665.8" r="3.9"/><circle cx="1592.0" cy="3650.2" r="3.9"/><circle cx="1603.2" cy="3544.3" r="3.9"/><circle cx="1608.6" cy="3556.7" r="3.9"/><circle cx="1613.2" cy="3526.1" r="3.9"/><circle cx="1613.6" cy="3524.7" r="3.9"/><circle cx="1618.6" cy="3498.2" r="3.9"/><circle cx="1618.8" cy="3514.5" r="3.9"/><circle cx="1626.7" cy="3524.6" r="3.9"/><circle cx="1636.2" cy="3527.5" r="3.9"/><circle cx="1643.3" cy="3574.0" r="3.9"/><circle cx="1644.7" cy="3571.3" r="3.9"/><circle cx="1645.1" cy="3599.5" r="3.9"/><circle cx="1647.0" cy="3592.5" r="3.9"/><circle cx="1653.3" cy="3619.0" r="3.9"/><circle cx="1657.2" cy="3635.0" r="3.9"/><circle cx="1662.0" cy="3653.6" r="3.9"/><circle cx="1667.4" cy="3705.6" r="3.9"/><circle cx="1669.6" cy="3693.5" r="3.9"/><circle cx="1675.9" cy="3749.4" r="3.9"/><circle cx="1685.1" cy="3785.4" r="3.9"/><circle cx="1685.4" cy="3790.1" r="3.9"/><circle cx="1686.8" cy="3826.3" r="3.9"/><circle cx="1686.9" cy="3806.4" r="3.9"/><circle cx="1688.7" cy="3815.7" r="3.9"/><circle cx="1695.6" cy="3829.3" r="3.9"/><circle cx="1697.9" cy="3845.7" r="3.9"/><circle cx="1698.6" cy="3851.4" r="3.9"/><circle cx="1699.5" cy="3840.5" r="3.9"/><circle cx="1705.3" cy="3860.0" r="3.9"/><circle cx="1710.7" cy="3898.6" r="3.9"/><circle cx="1711.9" cy="3919.4" r="3.9"/><circle cx="1712.9" cy="3883.4" r="3.9"/><circle cx="1714.0" cy="3908.0" r="3.9"/><circle cx="1715.3" cy="3898.8" r="3.9"/><circle cx="1715.7" cy="3919.0" r="3.9"/><circle cx="1717.4" cy="3921.9" r="3.9"/><circle cx="1719.1" cy="3901.4" r="3.9"/><circle cx="1720.7" cy="3907.1" r="3.9"/><circle cx="1724.1" cy="3943.0" r="3.9"/><circle cx="1734.4" cy="3963.4" r="3.9"/><circle cx="1737.0" cy="3971.6" r="3.9"/><circle cx="1737.6" cy="3977.1" r="3.9"/><circle cx="1738.0" cy="3978.5" r="3.9"/><circle cx="1750.7" cy="4026.7" r="3.9"/><circle cx="1754.0" cy="4001.7" r="3.9"/><circle cx="1759.7" cy="4003.7" r="3.9"/><circle cx="1761.3" cy="3989.8" r="3.9"/><circle cx="1762.3" cy="3986.0" r="3.9"/><circle cx="1765.8" cy="4039.5" r="3.9"/><circle cx="1768.7" cy="3974.1" r="3.9"/><circle cx="1772.2" cy="4068.7" r="3.9"/><circle cx="1776.0" cy="3980.7" r="3.9"/><circle cx="1783.3" cy="4032.5" r="3.9"/><circle cx="1786.0" cy="4085.2" r="3.9"/><circle cx="1788.6" cy="4066.3" r="3.9"/><circle cx="1789.5" cy="4054.3" r="3.9"/><circle cx="1793.2" cy="4025.8" r="3.9"/><circle cx="1793.5" cy="4035.8" r="3.9"/><circle cx="1800.1" cy="4007.5" r="3.9"/><circle cx="1816.7" cy="4091.1" r="3.9"/><circle cx="1820.6" cy="4026.4" r="3.9"/><circle cx="1835.8" cy="4034.4" r="3.9"/><circle cx="1841.0" cy="4043.3" r="3.9"/><circle cx="1843.2" cy="4042.3" r="3.9"/><circle cx="1847.3" cy="4030.2" r="3.9"/><circle cx="1849.1" cy="4045.6" r="3.9"/><circle cx="1851.2" cy="4039.8" r="3.9"/><circle cx="1864.0" cy="4071.7" r="3.9"/><circle cx="1866.1" cy="4074.7" r="3.9"/><circle cx="1866.5" cy="4048.4" r="3.9"/><circle cx="1867.1" cy="4046.4" r="3.9"/><circle cx="1872.1" cy="3979.1" r="3.9"/><circle cx="1873.4" cy="4055.3" r="3.9"/><circle cx="1877.2" cy="4032.8" r="3.9"/><circle cx="1879.2" cy="4025.7" r="3.9"/><circle cx="1880.0" cy="4085.5" r="3.9"/><circle cx="1881.2" cy="4035.3" r="3.9"/><circle cx="1884.9" cy="4055.3" r="3.9"/><circle cx="1890.9" cy="4105.4" r="3.9"/><circle cx="1891.0" cy="4082.1" r="3.9"/><circle cx="1893.8" cy="4058.1" r="3.9"/><circle cx="1895.0" cy="4045.9" r="3.9"/><circle cx="1897.0" cy="4058.0" r="3.9"/><circle cx="1897.9" cy="3974.1" r="3.9"/><circle cx="1898.9" cy="4082.4" r="3.9"/><circle cx="1899.1" cy="4059.1" r="3.9"/><circle cx="1901.7" cy="4100.3" r="3.9"/><circle cx="1908.7" cy="4085.9" r="3.9"/><circle cx="1910.5" cy="4079.1" r="3.9"/><circle cx="1918.2" cy="4125.0" r="3.9"/><circle cx="1921.5" cy="4075.0" r="3.9"/><circle cx="1923.1" cy="4074.7" r="3.9"/><circle cx="1926.5" cy="4076.6" r="3.9"/><circle cx="1926.5" cy="4125.0" r="3.9"/><circle cx="1929.8" cy="4075.2" r="3.9"/><circle cx="1934.2" cy="3986.6" r="3.9"/><circle cx="1935.4" cy="4063.9" r="3.9"/><circle cx="1947.1" cy="4064.5" r="3.9"/><circle cx="1947.3" cy="4087.2" r="3.9"/><circle cx="1950.9" cy="4066.1" r="3.9"/><circle cx="1955.3" cy="4042.3" r="3.9"/><circle cx="1964.3" cy="4034.4" r="3.9"/><circle cx="1976.5" cy="4063.9" r="3.9"/><circle cx="1976.8" cy="4082.7" r="3.9"/><circle cx="1979.4" cy="4114.9" r="3.9"/><circle cx="1985.2" cy="4116.8" r="3.9"/><circle cx="1987.4" cy="4057.2" r="3.9"/><circle cx="1987.5" cy="4055.4" r="3.9"/><circle cx="1987.9" cy="4070.6" r="3.9"/><circle cx="1991.0" cy="3992.3" r="3.9"/><circle cx="1995.8" cy="4107.2" r="3.9"/><circle cx="1997.1" cy="4034.8" r="3.9"/><circle cx="1998.6" cy="4071.9" r="3.9"/><circle cx="2006.2" cy="4032.1" r="3.9"/><circle cx="2009.6" cy="4071.3" r="3.9"/><circle cx="2016.2" cy="4077.8" r="3.9"/><circle cx="2021.0" cy="4047.5" r="3.9"/><circle cx="2022.3" cy="4087.2" r="3.9"/><circle cx="2022.6" cy="4067.3" r="3.9"/><circle cx="2031.3" cy="4095.9" r="3.9"/><circle cx="2035.4" cy="4048.1" r="3.9"/><circle cx="2038.0" cy="4068.1" r="3.9"/><circle cx="2038.6" cy="4079.3" r="3.9"/><circle cx="2046.4" cy="4053.1" r="3.9"/><circle cx="2049.1" cy="4011.8" r="3.9"/><circle cx="2053.6" cy="4091.0" r="3.9"/><circle cx="2058.0" cy="4073.1" r="3.9"/><circle cx="2060.1" cy="4089.8" r="3.9"/><circle cx="2067.2" cy="4042.8" r="3.9"/><circle cx="2070.8" cy="4098.6" r="3.9"/><circle cx="2071.3" cy="4097.4" r="3.9"/><circle cx="2071.7" cy="4075.8" r="3.9"/><circle cx="2075.3" cy="4105.9" r="3.9"/><circle cx="2076.7" cy="4006.4" r="3.9"/><circle cx="2078.1" cy="4045.0" r="3.9"/><circle cx="2081.0" cy="4040.5" r="3.9"/><circle cx="2081.8" cy="4032.7" r="3.9"/><circle cx="2087.7" cy="4057.4" r="3.9"/><circle cx="2087.8" cy="4078.0" r="3.9"/><circle cx="2089.3" cy="4123.3" r="3.9"/><circle cx="2094.9" cy="4080.0" r="3.9"/><circle cx="2102.2" cy="4095.8" r="3.9"/><circle cx="2108.4" cy="4068.7" r="3.9"/><circle cx="2112.8" cy="4125.0" r="3.9"/><circle cx="2117.7" cy="4052.4" r="3.9"/><circle cx="2119.0" cy="4045.0" r="3.9"/><circle cx="2130.2" cy="4084.0" r="3.9"/><circle cx="2132.5" cy="4125.0" r="3.9"/><circle cx="2135.2" cy="4067.1" r="3.9"/><circle cx="2135.2" cy="4071.0" r="3.9"/><circle cx="2146.3" cy="4122.8" r="3.9"/></g>
<polyline points="1282.0,4060.2 1283.0,4060.1 1284.0,4060.0 1285.0,4060.0 1286.0,4059.9 1287.0,4059.9 1288.0,4059.8 1289.0,4059.7 1290.0,4059.7 1291.0,4059.6 1292.0,4059.5 1293.0,4059.5 1294.0,4059.4 1295.0,4059.3 1296.0,4059.3 1297.0,4059.2 1298.0,4059.1 1299.0,4059.1 1300.0,4059.0 1301.0,4058.9 1302.0,4058.8 1303.0,4058.8 1304.0,4058.7 1305.0,4058.6 1306.0,4058.6 1307.0,4058.5 1308.0,4058.4 1309.0,4058.3 1310.0,4058.2 1311.0,4058.2 1312.0,4058.1 1313.0,4058.0 1314.0,4057.9 1315.0,4057.8 1316.0,4057.7 1317.0,4057.7 1318.0,4057.6 1319.0,4057.5 1320.0,4057.4 1321.0,4057.3 1322.0,4057.2 1323.0,4057.1 1324.0,4057.0 1325.0,4056.9 1326.0,4056.8 1327.0,4056.7 1328.0,4056.6 1329.0,4056.5 1330.0,4056.4 1331.0,4056.3 1332.0,4056.2 1333.0,4056.1 1334.0,4056.0 1335.0,4055.9 1336.0,4055.8 1337.0,4055.7 1338.0,4055.6 1339.0,4055.5 1340.0,4055.4 1341.0,4055.3 1342.0,4055.1 1343.0,4055.0 1344.0,4054.9 1345.0,4054.8 1346.0,4054.7 1347.0,4054.6 1348.0,4054.4 1349.0,4054.3 1350.0,4054.2 1351.0,4054.1 1352.0,4053.9 1353.0,4053.8 1354.0,4053.7 1355.0,4053.5 1356.0,4053.4 1357.0,4053.3 1358.0,4053.1 1359.0,4053.0 1360.0,4052.8 1361.0,4052.7 1362.0,4052.5 1363.0,4052.4 1364.0,4052.2 1365.0,4052.1 1366.0,4051.9 1367.0,4051.8 1368.0,4051.6 1369.0,4051.5 1370.0,4051.3 1371.0,4051.1 1372.0,4051.0 1373.0,4050.8 1374.0,4050.6 1375.0,4050.5 1376.0,4050.3 1377.0,4050.1 1378.0,4049.9 1379.0,4049.8 1380.0,4049.6 1381.0,4049.4 1382.0,4049.2 1383.0,4049.0 1384.0,4048.8 1385.0,4048.6 1386.0,4048.4 1387.0,4048.2 1388.0,4048.0 1389.0,4047.8 1390.0,4047.6 1391.0,4047.4 1392.0,4047.2 1393.0,4047.0 1394.0,4046.8 1395.0,4046.6 1396.0,4046.3 1397.0,4046.1 1398.0,4045.9 1399.0,4045.6 1400.0,4045.4 1401.0,4045.2 1402.0,4044.9 1403.0,4044.7 1404.0,4044.4 1405.0,4044.2 1406.0,4043.9 1407.0,4043.6 1408.0,4043.4 1409.0,4043.1 1410.0,4042.8 1411.0,4042.5 1412.0,4042.3 1413.0,4042.0 1414.0,4041.7 1415.0,4041.4 1416.0,4041.1 1417.0,4040.8 1418.0,4040.5 1419.0,4040.2 1420.0,4039.9 1421.0,4039.5 1422.0,4039.2 1423.0,4038.9 1424.0,4038.5 1425.0,4038.2 1426.0,4037.8 1427.0,4037.5 1428.0,4037.1 1429.0,4036.7 1430.0,4036.4 1431.0,4036.0 1432.0,4035.6 1433.0,4035.2 1434.0,4034.8 1435.0,4034.4 1436.0,4034.0 1437.0,4033.6 1438.0,4033.1 1439.0,4032.7 1440.0,4032.2 1441.0,4031.8 1442.0,4031.3 1443.0,4030.8 1444.0,4030.4 1445.0,4029.9 1446.0,4029.4 1447.0,4028.9 1448.0,4028.3 1449.0,4027.8 1450.0,4027.3 1451.0,4026.7 1452.0,4026.2 1453.0,4025.6 1454.0,4025.0 1455.0,4024.4 1456.0,4023.8 1457.0,4023.2 1458.0,4022.5 1459.0,4021.9 1460.0,4021.2 1461.0,4020.6 1462.0,4019.9 1463.0,4019.2 1464.0,4018.4 1465.0,4017.7 1466.0,4016.9 1467.0,4016.2 1468.0,4015.4 1469.0,4014.6 1470.0,4013.8 1471.0,4012.9 1472.0,4012.1 1473.0,4011.2 1474.0,4010.3 1475.0,4009.4 1476.0,4008.4 1477.0,4007.5 1478.0,4006.5 1479.0,4005.5 1480.0,4004.4 1481.0,4003.4 1482.0,4002.3 1483.0,4001.2 1484.0,4000.1 1485.0,3998.9 1486.0,3997.8 1487.0,3996.5 1488.0,3995.3 1489.0,3994.0 1490.0,3992.8 1491.0,3991.4 1492.0,3990.1 1493.0,3988.7 1494.0,3987.3 1495.0,3985.8 1496.0,3984.3 1497.0,3982.8 1498.0,3981.3 1499.0,3979.7 1500.0,3978.0 1501.0,3976.4 1502.0,3974.7 1503.0,3972.9 1504.0,3971.1 1505.0,3969.3 1506.0,3967.5 1507.0,3965.6 1508.0,3963.6 1509.0,3961.6 1510.0,3959.6 1511.0,3957.5 1512.0,3955.4 1513.0,3953.2 1514.0,3951.0 1515.0,3948.7 1516.0,3946.4 1517.0,3944.0 1518.0,3941.6 1519.0,3939.1 1520.0,3936.6 1521.0,3934.1 1522.0,3931.4 1523.0,3928.8 1524.0,3926.0 1525.0,3923.2 1526.0,3920.4 1527.0,3917.5 1528.0,3914.5 1529.0,3911.5 1530.0,3908.5 1531.0,3905.3 1532.0,3902.1 1533.0,3898.9 1534.0,3895.6 1535.0,3892.2 1536.0,3888.8 1537.0,3885.3 1538.0,3881.7 1539.0,3878.1 1540.0,3874.4 1541.0,3870.7 1542.0,3866.9 1543.0,3863.0 1544.0,3859.1 1545.0,3855.1 1546.0,3851.0 1547.0,3846.9 1548.0,3842.7 1549.0,3838.5 1550.0,3834.2 1551.0,3829.8 1552.0,3825.4 1553.0,3820.9 1554.0,3816.3 1555.0,3811.7 1556.0,3807.0 1557.0,3802.3 1558.0,3797.5 1559.0,3792.7 1560.0,3787.8 1561.0,3782.8 1562.0,3777.8 1563.0,3772.7 1564.0,3767.6 1565.0,3762.4 1566.0,3757.2 1567.0,3751.9 1568.0,3746.6 1569.0,3741.3 1570.0,3735.9 1571.0,3730.5 1572.0,3725.0 1573.0,3719.5 1574.0,3714.0 1575.0,3708.4 1576.0,3702.9 1577.0,3697.3 1578.0,3691.7 1579.0,3686.0 1580.0,3680.4 1581.0,3674.8 1582.0,3669.2 1583.0,3663.5 1584.0,3657.9 1585.0,3652.3 1586.0,3646.7 1587.0,3641.2 1588.0,3635.7 1589.0,3630.2 1590.0,3624.7 1591.0,3619.4 1592.0,3614.0 1593.0,3608.8 1594.0,3603.6 1595.0,3598.5 1596.0,3593.4 1597.0,3588.5 1598.0,3583.7 1599.0,3579.0 1600.0,3574.4 1601.0,3569.9 1602.0,3565.5 1603.0,3561.3 1604.0,3557.2 1605.0,3553.3 1606.0,3549.6 1607.0,3546.0 1608.0,3542.6 1609.0,3539.4 1610.0,3536.4 1611.0,3533.5 1612.0,3530.9 1613.0,3528.5 1614.0,3526.3 1615.0,3524.3 1616.0,3522.6 1617.0,3521.0 1618.0,3519.7 1619.0,3518.7 1620.0,3517.8 1621.0,3517.3 1622.0,3516.9 1623.0,3516.8 1624.0,3517.0 1625.0,3517.3 1626.0,3518.0 1627.0,3518.8 1628.0,3519.9 1629.0,3521.3 1630.0,3522.8 1631.0,3524.6 1632.0,3526.7 1633.0,3528.9 1634.0,3531.4 1635.0,3534.0 1636.0,3536.9 1637.0,3540.0 1638.0,3543.2 1639.0,3546.7 1640.0,3550.3 1641.0,3554.1 1642.0,3558.0 1643.0,3562.1 1644.0,3566.4 1645.0,3570.8 1646.0,3575.3 1647.0,3579.9 1648.0,3584.7 1649.0,3589.6 1650.0,3594.5 1651.0,3599.6 1652.0,3604.7 1653.0,3610.0 1654.0,3615.3 1655.0,3620.6 1656.0,3626.1 1657.0,3631.5 1658.0,3637.1 1659.0,3642.6 1660.0,3648.2 1661.0,3653.8 1662.0,3659.5 1663.0,3665.1 1664.0,3670.8 1665.0,3676.5 1666.0,3682.1 1667.0,3687.8 1668.0,3693.5 1669.0,3699.1 1670.0,3704.7 1671.0,3710.4 1672.0,3715.9 1673.0,3721.5 1674.0,3727.0 1675.0,3732.6 1676.0,3738.0 1677.0,3743.4 1678.0,3748.8 1679.0,3754.2 1680.0,3759.5 1681.0,3764.7 1682.0,3770.0 1683.0,3775.1 1684.0,3780.2 1685.0,3785.3 1686.0,3790.3 1687.0,3795.2 1688.0,3800.1 1689.0,3805.0 1690.0,3809.7 1691.0,3814.4 1692.0,3819.1 1693.0,3823.7 1694.0,3828.2 1695.0,3832.7 1696.0,3837.1 1697.0,3841.5 1698.0,3845.7 1699.0,3850.0 1700.0,3854.1 1701.0,3858.2 1702.0,3862.2 1703.0,3866.2 1704.0,3870.1 1705.0,3874.0 1706.0,3877.7 1707.0,3881.5 1708.0,3885.1 1709.0,3888.7 1710.0,3892.3 1711.0,3895.7 1712.0,3899.1 1713.0,3902.5 1714.0,3905.8 1715.0,3909.0 1716.0,3912.2 1717.0,3915.3 1718.0,3918.3 1719.0,3921.3 1720.0,3924.3 1721.0,3927.2 1722.0,3930.0 1723.0,3932.8 1724.0,3935.5 1725.0,3938.1 1726.0,3940.8 1727.0,3943.3 1728.0,3945.8 1729.0,3948.3 1730.0,3950.7 1731.0,3953.0 1732.0,3955.3 1733.0,3957.6 1734.0,3959.8 1735.0,3962.0 1736.0,3964.1 1737.0,3966.2 1738.0,3968.2 1739.0,3970.2 1740.0,3972.1 1741.0,3974.0 1742.0,3975.9 1743.0,3977.7 1744.0,3979.5 1745.0,3981.2 1746.0,3983.0 1747.0,3984.6 1748.0,3986.3 1749.0,3987.8 1750.0,3989.4 1751.0,3990.9 1752.0,3992.4 1753.0,3993.9 1754.0,3995.3 1755.0,3996.7 1756.0,3998.1 1757.0,3999.4 1758.0,4000.7 1759.0,4002.0 1760.0,4003.2 1761.0,4004.5 1762.0,4005.7 1763.0,4006.8 1764.0,4008.0 1765.0,4009.1 1766.0,4010.2 1767.0,4011.2 1768.0,4012.3 1769.0,4013.3 1770.0,4014.3 1771.0,4015.3 1772.0,4016.2 1773.0,4017.2 1774.0,4018.1 1775.0,4019.0 1776.0,4019.9 1777.0,4020.7 1778.0,4021.6 1779.0,4022.4 1780.0,4023.2 1781.0,4024.0 1782.0,4024.8 1783.0,4025.6 1784.0,4026.3 1785.0,4027.0 1786.0,4027.7 1787.0,4028.5 1788.0,4029.1 1789.0,4029.8 1790.0,4030.5 1791.0,4031.1 1792.0,4031.8 1793.0,4032.4 1794.0,4033.0 1795.0,4033.6 1796.0,4034.2 1797.0,4034.8 1798.0,4035.3 1799.0,4035.9 1800.0,4036.5 1801.0,4037.0 1802.0,4037.5 1803.0,4038.0 1804.0,4038.6 1805.0,4039.1 1806.0,4039.6 1807.0,4040.0 1808.0,4040.5 1809.0,4041.0 1810.0,4041.5 1811.0,4041.9 1812.0,4042.4 1813.0,4042.8 1814.0,4043.2 1815.0,4043.7 1816.0,4044.1 1817.0,4044.5 1818.0,4044.9 1819.0,4045.3 1820.0,4045.7 1821.0,4046.1 1822.0,4046.5 1823.0,4046.9 1824.0,4047.2 1825.0,4047.6 1826.0,4048.0 1827.0,4048.3 1828.0,4048.7 1829.0,4049.0 1830.0,4049.4 1831.0,4049.7 1832.0,4050.1 1833.0,4050.4 1834.0,4050.7 1835.0,4051.0 1836.0,4051.3 1837.0,4051.7 1838.0,4052.0 1839.0,4052.3 1840.0,4052.6 1841.0,4052.9 1842.0,4053.2 1843.0,4053.5 1844.0,4053.8 1845.0,4054.0 1846.0,4054.3 1847.0,4054.6 1848.0,4054.9 1849.0,4055.1 1850.0,4055.4 1851.0,4055.7 1852.0,4055.9 1853.0,4056.2 1854.0,4056.4 1855.0,4056.7 1856.0,4057.0 1857.0,4057.2 1858.0,4057.4 1859.0,4057.7 1860.0,4057.9 1861.0,4058.2 1862.0,4058.4 1863.0,4058.6 1864.0,4058.9 1865.0,4059.1 1866.0,4059.3 1867.0,4059.5 1868.0,4059.7 1869.0,4060.0 1870.0,4060.2 1871.0,4060.4 1872.0,4060.6 1873.0,4060.8 1874.0,4061.0 1875.0,4061.2 1876.0,4061.4 1877.0,4061.6 1878.0,4061.8 1879.0,4062.0 1880.0,4062.2 1881.0,4062.4 1882.0,4062.6 1883.0,4062.8 1884.0,4063.0 1885.0,4063.2 1886.0,4063.4 1887.0,4063.5 1888.0,4063.7 1889.0,4063.9 1890.0,4064.1 1891.0,4064.2 1892.0,4064.4 1893.0,4064.6 1894.0,4064.8 1895.0,4064.9 1896.0,4065.1 1897.0,4065.3 1898.0,4065.4 1899.0,4065.6 1900.0,4065.8 1901.0,4065.9 1902.0,4066.1 1903.0,4066.2 1904.0,4066.4 1905.0,4066.5 1906.0,4066.7 1907.0,4066.8 1908.0,4067.0 1909.0,4067.1 1910.0,4067.3 1911.0,4067.4 1912.0,4067.6 1913.0,4067.7 1914.0,4067.9 1915.0,4068.0 1916.0,4068.2 1917.0,4068.3 1918.0,4068.4 1919.0,4068.6 1920.0,4068.7 1921.0,4068.8 1922.0,4069.0 1923.0,4069.1 1924.0,4069.2 1925.0,4069.4 1926.0,4069.5 1927.0,4069.6 1928.0,4069.8 1929.0,4069.9 1930.0,4070.0 1931.0,4070.1 1932.0,4070.3 1933.0,4070.4 1934.0,4070.5 1935.0,4070.6 1936.0,4070.8 1937.0,4070.9 1938.0,4071.0 1939.0,4071.1 1940.0,4071.2 1941.0,4071.3 1942.0,4071.5 1943.0,4071.6 1944.0,4071.7 1945.0,4071.8 1946.0,4071.9 1947.0,4072.0 1948.0,4072.1 1949.0,4072.2 1950.0,4072.4 1951.0,4072.5 1952.0,4072.6 1953.0,4072.7 1954.0,4072.8 1955.0,4072.9 1956.0,4073.0 1957.0,4073.1 1958.0,4073.2 1959.0,4073.3 1960.0,4073.4 1961.0,4073.5 1962.0,4073.6 1963.0,4073.7 1964.0,4073.8 1965.0,4073.9 1966.0,4074.0 1967.0,4074.1 1968.0,4074.2 1969.0,4074.3 1970.0,4074.4 1971.0,4074.5 1972.0,4074.6 1973.0,4074.7 1974.0,4074.7 1975.0,4074.8 1976.0,4074.9 1977.0,4075.0 1978.0,4075.1 1979.0,4075.2 1980.0,4075.3 1981.0,4075.4 1982.0,4075.5 1983.0,4075.6 1984.0,4075.6 1985.0,4075.7 1986.0,4075.8 1987.0,4075.9 1988.0,4076.0 1989.0,4076.1 1990.0,4076.2 1991.0,4076.2 1992.0,4076.3 1993.0,4076.4 1994.0,4076.5 1995.0,4076.6 1996.0,4076.6 1997.0,4076.7 1998.0,4076.8 1999.0,4076.9 2000.0,4077.0 2001.0,4077.0 2002.0,4077.1 2003.0,4077.2 2004.0,4077.3 2005.0,4077.4 2006.0,4077.4 2007.0,4077.5 2008.0,4077.6 2009.0,4077.7 2010.0,4077.7 2011.0,4077.8 2012.0,4077.9 2013.0,4077.9 2014.0,4078.0 2015.0,4078.1 2016.0,4078.2 2017.0,4078.2 2018.0,4078.3 2019.0,4078.4 2020.0,4078.5 2021.0,4078.5 2022.0,4078.6 2023.0,4078.7 2024.0,4078.7 2025.0,4078.8 2026.0,4078.9 2027.0,4078.9 2028.0,4079.0 2029.0,4079.1 2030.0,4079.1 2031.0,4079.2 2032.0,4079.3 2033.0,4079.3 2034.0,4079.4 2035.0,4079.5 2036.0,4079.5 2037.0,4079.6 2038.0,4079.7 2039.0,4079.7 2040.0,4079.8 2041.0,4079.9 2042.0,4079.9 2043.0,4080.0 2044.0,4080.0 2045.0,4080.1 2046.0,4080.2 2047.0,4080.2 2048.0,4080.3 2049.0,4080.4 2050.0,4080.4 2051.0,4080.5 2052.0,4080.5 2053.0,4080.6 2054.0,4080.7 2055.0,4080.7 2056.0,4080.8 2057.0,4080.8 2058.0,4080.9 2059.0,4081.0 2060.0,4081.0 2061.0,4081.1 2062.0,4081.1 2063.0,4081.2 2064.0,4081.2 2065.0,4081.3 2066.0,4081.4 2067.0,4081.4 2068.0,4081.5 2069.0,4081.5 2070.0,4081.6 2071.0,4081.6 2072.0,4081.7 2073.0,4081.8 2074.0,4081.8 2075.0,4081.9 2076.0,4081.9 2077.0,4082.0 2078.0,4082.0 2079.0,4082.1 2080.0,4082.1 2081.0,4082.2 2082.0,4082.2 2083.0,4082.3 2084.0,4082.3 2085.0,4082.4 2086.0,4082.4 2087.0,4082.5 2088.0,4082.6 2089.0,4082.6 2090.0,4082.7 2091.0,4082.7 2092.0,4082.8 2093.0,4082.8 2094.0,4082.9 2095.0,4082.9 2096.0,4083.0 2097.0,4083.0 2098.0,4083.1 2099.0,4083.1 2100.0,4083.2 2101.0,4083.2 2102.0,4083.3 2103.0,4083.3 2104.0,4083.4 2105.0,4083.4 2106.0,4083.5 2107.0,4083.5 2108.0,4083.6 2109.0,4083.6 2110.0,4083.7 2111.0,4083.7 2112.0,4083.7 2113.0,4083.8 2114.0,4083.8 2115.0,4083.9 2116.0,4083.9 2117.0,4084.0" fill="none" stroke="#333" stroke-width="1.8" stroke-linejoin="round"/>
<g font-family="'Liberation Serif', 'Times New Roman', serif" font-size="86.00" fill="#000"><text x="368.92" y="991.67">(</text><text x="394.02" y="991.67" font-weight="bold">a</text><text x="434.94" y="991.67">)</text></g>
<g font-family="'Liberation Serif', 'Times New Roman', serif" font-size="86.00" fill="#000"><text x="1810.92" y="991.87">(</text><text x="1840.63" y="991.87" font-weight="bold">b</text><text x="1887.14" y="991.87">)</text></g>
<g font-family="'Liberation Serif', 'Times New Roman', serif" font-size="86.00" fill="#000"><text x="371.22" y="2141.07">(</text><text x="397.02" y="2141.07" font-weight="bold">c</text><text x="433.14" y="2141.07">)</text></g>
<g font-family="'Liberation Serif', 'Times New Roman', serif" font-size="86.00" fill="#000"><text x="1810.92" y="2141.07">(</text><text x="1838.18" y="2141.07" font-weight="bold">d</text><text x="1887.14" y="2141.07">)</text></g>
<g font-family="'Liberation Serif', 'Times New Roman', serif" font-size="86.00" fill="#000"><text x="368.92" y="3283.47">(</text><text x="396.81" y="3283.47" font-weight="bold">e</text><text x="434.94" y="3283.47">)</text></g>
<g font-family="'Liberation Serif', 'Times New Roman', serif" font-size="86.00" fill="#000"><text x="1820.42" y="3283.87">(</text><text x="1848.55" y="3283.87" font-weight="bold">f</text><text x="1878.14" y="3283.87">)</text></g>
<g font-family="'Liberation Serif', 'Times New Roman', serif" font-size="86.00" fill="#000"><text x="366.22" y="4444.67">(</text><text x="394.19" y="4444.67" font-weight="bold">g</text><text x="437.94" y="4444.67">)</text></g>
<g font-family="'Liberation Serif', 'Times New Roman', serif" font-size="86.00" fill="#000"><text x="1810.92" y="4444.77">(</text><text x="1839.02" y="4444.77" font-weight="bold">h</text><text x="1887.14" y="4444.77">)</text></g>
</svg></body></html>
